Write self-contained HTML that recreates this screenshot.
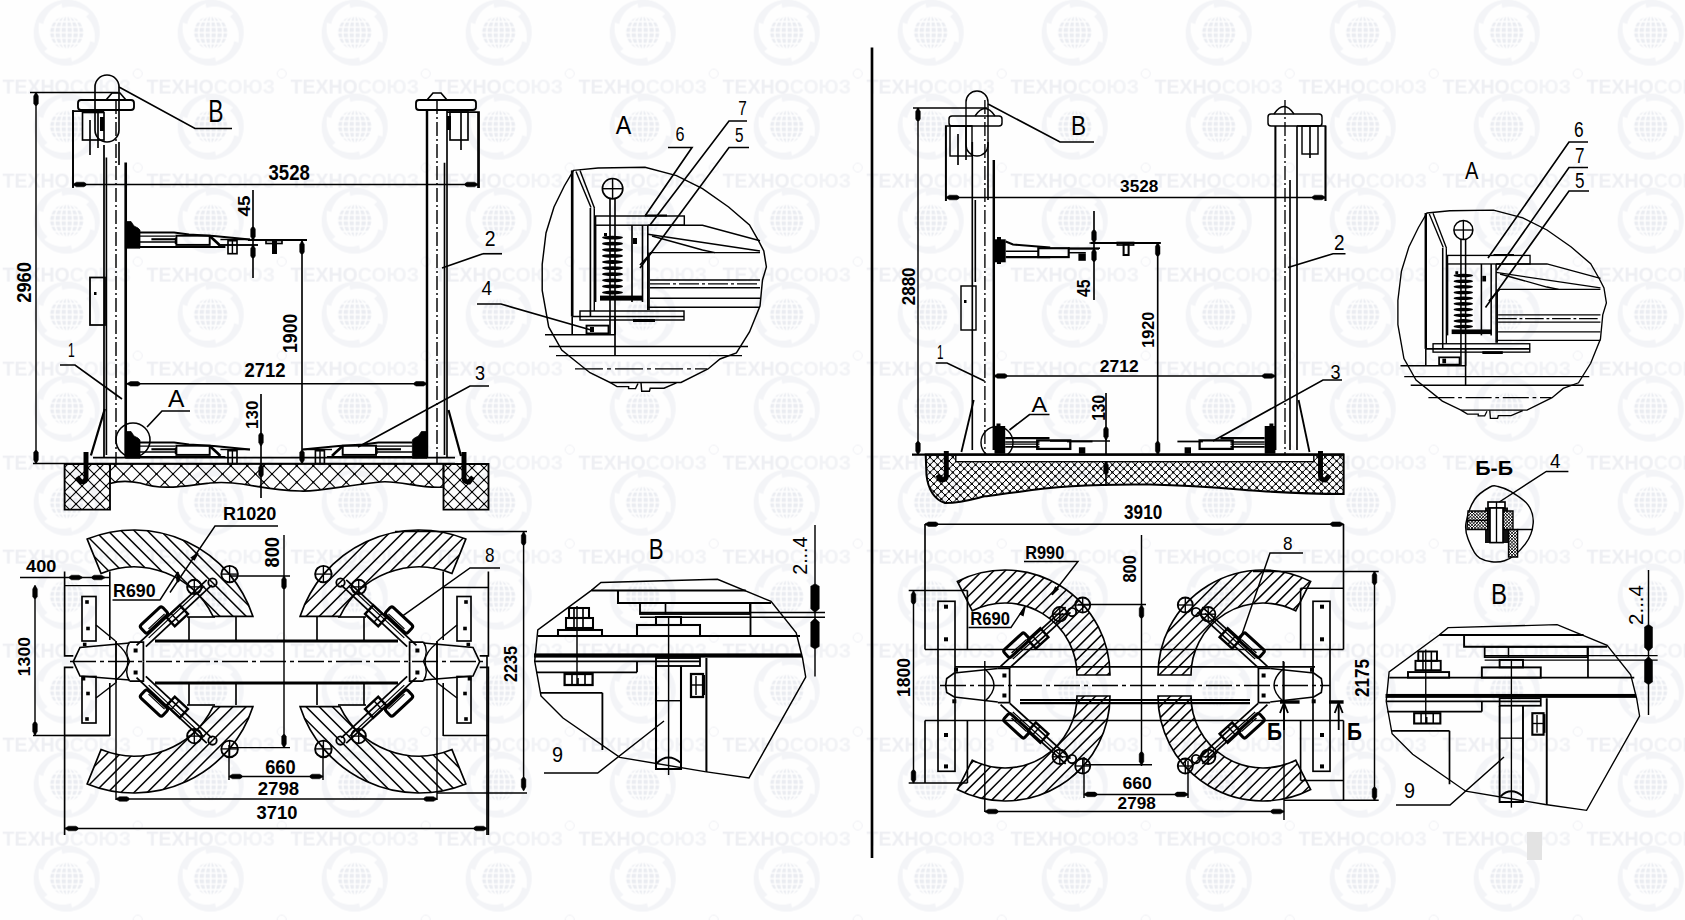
<!DOCTYPE html>
<html><head><meta charset="utf-8"><style>
html,body{margin:0;padding:0;background:#fff;}
svg{display:block;}
</style></head><body>
<svg width="1685" height="920" viewBox="0 0 1685 920">
<defs><pattern id="wm" x="-5.3" y="-14.4" width="144" height="94" patternUnits="userSpaceOnUse"><path d="M66.27 14.5 L70.15 14.05 L74.06 14.06 L77.93 14.54 L81.73 15.47 L85.38 16.84 L88.85 18.63 L92.09 20.82 L95.04 23.38 L97.67 26.26 L99.94 29.44 L101.82 32.87 L103.28 36.49 L104.3 40.26 L104.87 44.12 L104.87 44.12 L103.36 40.46 L101.68 37.03 L99.71 33.87 L97.46 31.01 L94.94 28.47 L92.21 26.28 L89.29 24.46 L86.24 23.02 L83.11 21.97 L79.93 21.31 L76.75 21.03 L73.62 21.12 L70.57 21.58 L67.66 22.38 Z" fill="#f3f4f7"/><path d="M97.28 25.79 L99.61 28.92 L101.55 32.31 L103.08 35.91 L104.17 39.66 L104.81 43.51 L105 47.41 L104.72 51.31 L103.98 55.14 L102.79 58.86 L101.18 62.42 L99.15 65.76 L96.74 68.84 L93.99 71.61 L90.93 74.03 L90.93 74.03 L93.34 70.88 L95.48 67.72 L97.23 64.43 L98.58 61.05 L99.52 57.6 L100.04 54.14 L100.16 50.71 L99.89 47.35 L99.23 44.1 L98.21 41.02 L96.87 38.12 L95.22 35.46 L93.3 33.05 L91.15 30.93 Z" fill="#f3f4f7"/><path d="M103.01 58.29 L101.46 61.87 L99.5 65.25 L97.15 68.37 L94.45 71.19 L91.43 73.67 L88.14 75.78 L84.63 77.49 L80.94 78.77 L77.12 79.6 L73.23 79.98 L69.33 79.89 L65.46 79.35 L61.69 78.35 L58.05 76.91 L58.05 76.91 L61.99 77.43 L65.8 77.69 L69.52 77.57 L73.12 77.04 L76.58 76.13 L79.84 74.86 L82.87 73.24 L85.64 71.32 L88.12 69.13 L90.29 66.71 L92.12 64.1 L93.6 61.34 L94.73 58.47 L95.49 55.55 Z" fill="#f3f4f7"/><path d="M77.73 79.5 L73.85 79.95 L69.94 79.94 L66.07 79.46 L62.27 78.53 L58.62 77.16 L55.15 75.37 L51.91 73.18 L48.96 70.62 L46.33 67.74 L44.06 64.56 L42.18 61.13 L40.72 57.51 L39.7 53.74 L39.13 49.88 L39.13 49.88 L40.64 53.54 L42.32 56.97 L44.29 60.13 L46.54 62.99 L49.06 65.53 L51.79 67.72 L54.71 69.54 L57.76 70.98 L60.89 72.03 L64.07 72.69 L67.25 72.97 L70.38 72.88 L73.43 72.42 L76.34 71.62 Z" fill="#f3f4f7"/><path d="M46.72 68.21 L44.39 65.08 L42.45 61.69 L40.92 58.09 L39.83 54.34 L39.19 50.49 L39 46.59 L39.28 42.69 L40.02 38.86 L41.21 35.14 L42.82 31.58 L44.85 28.24 L47.26 25.16 L50.01 22.39 L53.07 19.97 L53.07 19.97 L50.66 23.12 L48.52 26.28 L46.77 29.57 L45.42 32.95 L44.48 36.4 L43.96 39.86 L43.84 43.29 L44.11 46.65 L44.77 49.9 L45.79 52.98 L47.13 55.88 L48.78 58.54 L50.7 60.95 L52.85 63.07 Z" fill="#f3f4f7"/><path d="M40.99 35.71 L42.54 32.13 L44.5 28.75 L46.85 25.63 L49.55 22.81 L52.57 20.33 L55.86 18.22 L59.37 16.51 L63.06 15.23 L66.88 14.4 L70.77 14.02 L74.67 14.11 L78.54 14.65 L82.31 15.65 L85.95 17.09 L85.95 17.09 L82.01 16.57 L78.2 16.31 L74.48 16.43 L70.88 16.96 L67.42 17.87 L64.16 19.14 L61.13 20.76 L58.36 22.68 L55.88 24.87 L53.71 27.29 L51.88 29.9 L50.4 32.66 L49.27 35.53 L48.51 38.45 Z" fill="#f3f4f7"/><circle cx="72" cy="47" r="16.5" fill="#eaecf1"/><g fill="none" stroke="#fefefe" stroke-width="1.7"><ellipse cx="72" cy="47" rx="6" ry="17"/><ellipse cx="72" cy="47" rx="12" ry="17"/><line x1="72" y1="30" x2="72" y2="64"/><line x1="59.04" y1="36" x2="84.96" y2="36"/><line x1="55.91" y1="41.5" x2="88.09" y2="41.5"/><line x1="55" y1="47" x2="89" y2="47"/><line x1="55.91" y1="52.5" x2="88.09" y2="52.5"/><line x1="59.04" y1="58" x2="84.96" y2="58"/></g><text x="72" y="107.6" font-family="Liberation Sans" font-weight="bold" font-size="19.5" text-anchor="middle" fill="#eeeff3">ТЕХНО<tspan fill="#f2f3f6">СОЮЗ</tspan></text><text x="72" y="13.6" font-family="Liberation Sans" font-weight="bold" font-size="19.5" text-anchor="middle" fill="#eeeff3">ТЕХНО<tspan fill="#f2f3f6">СОЮЗ</tspan></text><circle cx="143" cy="88" r="4.5" fill="none" stroke="#eff0f4" stroke-width="1"/><circle cx="-1" cy="88" r="4.5" fill="none" stroke="#eff0f4" stroke-width="1"/><circle cx="143" cy="-6" r="4.5" fill="none" stroke="#eff0f4" stroke-width="1"/><circle cx="-1" cy="-6" r="4.5" fill="none" stroke="#eff0f4" stroke-width="1"/></pattern></defs>
<rect width="1685" height="920" fill="#fefefe"/>
<rect width="1685" height="920" fill="url(#wm)"/>
<g>
<line x1="30" y1="92.5" x2="118" y2="92.5" stroke="#000" stroke-width="1.65" stroke-linecap="butt"/>
<line x1="36" y1="92.5" x2="36" y2="463.5" stroke="#000" stroke-width="1.45" stroke-linecap="butt"/>
<path d="M36.3 92.5 L38.3 96 L38.3 103.5 L36.9 105.5 L35.1 105.5 L33.7 103.5 L33.7 96 L35.7 92.5 Z" fill="#000" stroke="#000" stroke-width="0.5"/>
<path d="M36.3 463.5 L38.3 460 L38.3 452.5 L36.9 450.5 L35.1 450.5 L33.7 452.5 L33.7 460 L35.7 463.5 Z" fill="#000" stroke="#000" stroke-width="0.5"/>
<text transform="translate(31.04 302.80) rotate(-90) scale(0.9169 1.0528)" font-family="Liberation Sans" font-size="20" font-weight="bold" fill="#000">2960</text>
<line x1="33" y1="463.5" x2="105" y2="463.5" stroke="#000" stroke-width="1.65" stroke-linecap="butt"/>
<line x1="73" y1="110" x2="73" y2="188" stroke="#000" stroke-width="1.65" stroke-linecap="butt"/>
<line x1="478" y1="112" x2="478" y2="188" stroke="#000" stroke-width="1.65" stroke-linecap="butt"/>
<line x1="73" y1="184.5" x2="478" y2="184.5" stroke="#000" stroke-width="1.45" stroke-linecap="butt"/>
<path d="M73 184.8 L76.5 186.8 L84 186.8 L86 185.4 L86 183.6 L84 182.2 L76.5 182.2 L73 184.2 Z" fill="#000" stroke="#000" stroke-width="0.5"/>
<path d="M478 184.8 L474.5 186.8 L467 186.8 L465 185.4 L465 183.6 L467 182.2 L474.5 182.2 L478 184.2 Z" fill="#000" stroke="#000" stroke-width="0.5"/>
<text transform="translate(268.50 179.58) scale(0.9303 1.1056)" font-family="Liberation Sans" font-size="20" font-weight="bold" fill="#000">3528</text>
<line x1="253" y1="190" x2="253" y2="278" stroke="#000" stroke-width="1.65" stroke-linecap="butt"/>
<path d="M253.3 240 L255.3 236.5 L255.3 229 L253.9 227 L252.1 227 L250.7 229 L250.7 236.5 L252.7 240 Z" fill="#000" stroke="#000" stroke-width="0.5"/>
<path d="M253.3 245 L255.3 248.5 L255.3 256 L253.9 258 L252.1 258 L250.7 256 L250.7 248.5 L252.7 245 Z" fill="#000" stroke="#000" stroke-width="0.5"/>
<line x1="248" y1="240" x2="307" y2="240" stroke="#000" stroke-width="1.65" stroke-linecap="butt"/>
<line x1="221" y1="245" x2="258" y2="245" stroke="#000" stroke-width="1.65" stroke-linecap="butt"/>
<text transform="translate(250.34 216.50) rotate(-90) scale(0.9459 0.7857)" font-family="Liberation Sans" font-size="20" font-weight="bold" fill="#000">45</text>
<line x1="302" y1="241" x2="302" y2="463.5" stroke="#000" stroke-width="1.65" stroke-linecap="butt"/>
<path d="M302.3 241 L304.3 244.5 L304.3 252 L302.9 254 L301.1 254 L299.7 252 L299.7 244.5 L301.7 241 Z" fill="#000" stroke="#000" stroke-width="0.5"/>
<path d="M302.3 463.5 L304.3 460 L304.3 452.5 L302.9 450.5 L301.1 450.5 L299.7 452.5 L299.7 460 L301.7 463.5 Z" fill="#000" stroke="#000" stroke-width="0.5"/>
<text transform="translate(297.39 353.00) rotate(-90) scale(0.8854 1.0563)" font-family="Liberation Sans" font-size="20" font-weight="bold" fill="#000">1900</text>
<line x1="127" y1="383.8" x2="427" y2="383.8" stroke="#000" stroke-width="1.45" stroke-linecap="butt"/>
<path d="M127 384.1 L130.5 386.1 L138 386.1 L140 384.7 L140 382.9 L138 381.5 L130.5 381.5 L127 383.5 Z" fill="#000" stroke="#000" stroke-width="0.5"/>
<path d="M427 384.1 L423.5 386.1 L416 386.1 L414 384.7 L414 382.9 L416 381.5 L423.5 381.5 L427 383.5 Z" fill="#000" stroke="#000" stroke-width="0.5"/>
<text transform="translate(244.40 377.20) scale(0.9258 0.9786)" font-family="Liberation Sans" font-size="20" font-weight="bold" fill="#000">2712</text>
<line x1="261" y1="394" x2="261" y2="498" stroke="#000" stroke-width="1.65" stroke-linecap="butt"/>
<path d="M261.3 446 L263.3 442.5 L263.3 435 L261.9 433 L260.1 433 L258.7 435 L258.7 442.5 L260.7 446 Z" fill="#000" stroke="#000" stroke-width="0.5"/>
<path d="M261.3 464 L263.3 467.5 L263.3 475 L261.9 477 L260.1 477 L258.7 475 L258.7 467.5 L260.7 464 Z" fill="#000" stroke="#000" stroke-width="0.5"/>
<text transform="translate(257.83 429.00) rotate(-90) scale(0.8503 0.8451)" font-family="Liberation Sans" font-size="20" font-weight="bold" fill="#000">130</text>
<path d="M119 87 L195 128.5 L232 128.5" stroke="#000" stroke-width="1.65" fill="none" stroke-linejoin="miter"/>
<text transform="translate(208.30 122.00) scale(1.1429 1.5217)" font-family="Liberation Sans" font-size="20" font-weight="normal" fill="#000">B</text>
<path d="M60 365 L75 365 L122 399" stroke="#000" stroke-width="1.65" fill="none" stroke-linejoin="miter"/>
<text transform="translate(68.00 357.00) scale(0.6036 0.9783)" font-family="Liberation Sans" font-size="20" font-weight="normal" fill="#000">1</text>
<path d="M190 411 L162 411 L147 427" stroke="#000" stroke-width="1.65" fill="none" stroke-linejoin="miter"/>
<text transform="translate(168.00 407.40) scale(1.2313 1.1884)" font-family="Liberation Sans" font-size="20" font-weight="normal" fill="#000">A</text>
<path d="M483 253.75 L502 253.75" stroke="#000" stroke-width="1.65" fill="none" stroke-linejoin="miter"/>
<line x1="483" y1="253.75" x2="442" y2="268" stroke="#000" stroke-width="1.65" stroke-linecap="butt"/>
<text transform="translate(484.75 246.00) scale(0.9685 1.0714)" font-family="Liberation Sans" font-size="20" font-weight="normal" fill="#000">2</text>
<path d="M489 386 L470 386 L358 447" stroke="#000" stroke-width="1.65" fill="none" stroke-linejoin="miter"/>
<text transform="translate(475.00 379.80) scale(0.9009 0.9859)" font-family="Liberation Sans" font-size="20" font-weight="normal" fill="#000">3</text>
<path d="M477 304 L501 304 L591 330" stroke="#000" stroke-width="1.65" fill="none" stroke-linejoin="miter"/>
<text transform="translate(481.50 295.00) scale(0.9459 1.0145)" font-family="Liberation Sans" font-size="20" font-weight="normal" fill="#000">4</text>
<line x1="104" y1="145" x2="104" y2="457" stroke="#000" stroke-width="1.75" stroke-linecap="butt"/>
<line x1="106.4" y1="157.5" x2="106.4" y2="455" stroke="#000" stroke-width="1.65" stroke-linecap="butt"/>
<line x1="116" y1="100" x2="116" y2="463" stroke="#000" stroke-width="1.45" stroke-dasharray="14 3 2 3" stroke-linecap="butt"/>
<line x1="125.7" y1="162.5" x2="125.7" y2="457" stroke="#000" stroke-width="2.65" stroke-linecap="butt"/>
<line x1="119" y1="142" x2="119" y2="165" stroke="#000" stroke-width="1.65" stroke-linecap="butt"/>
<rect x="78" y="100" width="56" height="10" stroke="#000" stroke-width="1.85" fill="none" rx="3"/>
<path d="M106 100 L112 93 L120 93 L126 100" stroke="#000" stroke-width="1.65" fill="none" />
<path d="M73 187.5 L73 111 L104 111" stroke="#000" stroke-width="1.75" fill="none" stroke-linejoin="miter"/>
<rect x="82.5" y="112.5" width="21.5" height="27.5" stroke="#000" stroke-width="1.65" fill="none"/>
<line x1="90" y1="120" x2="90" y2="155" stroke="#000" stroke-width="1.65" stroke-linecap="butt"/>
<line x1="98" y1="112" x2="98" y2="148" stroke="#000" stroke-width="1.65" stroke-linecap="butt"/>
<rect x="100" y="117" width="4" height="14" fill="#000"/>
<rect x="95" y="75" width="24" height="67" stroke="#000" stroke-width="1.65" fill="none" rx="12"/>
<rect x="90" y="277.5" width="15" height="47.5" stroke="#000" stroke-width="1.75" fill="none"/>
<rect x="94" y="292" width="2.5" height="3" fill="#000"/>
<line x1="104.8" y1="409" x2="90.9" y2="455.5" stroke="#000" stroke-width="2.25" stroke-linecap="butt"/>
<line x1="427" y1="110" x2="427" y2="457" stroke="#000" stroke-width="2.45" stroke-linecap="butt"/>
<line x1="447" y1="110" x2="447" y2="457" stroke="#000" stroke-width="1.65" stroke-linecap="butt"/>
<line x1="444.5" y1="162.7" x2="444.5" y2="455" stroke="#000" stroke-width="1.65" stroke-linecap="butt"/>
<line x1="437" y1="100" x2="437" y2="463" stroke="#000" stroke-width="1.45" stroke-dasharray="14 3 2 3" stroke-linecap="butt"/>
<rect x="416" y="100" width="60" height="10" stroke="#000" stroke-width="1.85" fill="none" rx="3"/>
<path d="M427 100 L433 93 L441 93 L447 100" stroke="#000" stroke-width="1.65" fill="none" />
<path d="M447 112 L479 112 L479 188" stroke="#000" stroke-width="1.75" fill="none" stroke-linejoin="miter"/>
<rect x="450" y="112" width="18" height="28" stroke="#000" stroke-width="1.65" fill="none"/>
<line x1="461" y1="112" x2="461" y2="150" stroke="#000" stroke-width="1.65" stroke-linecap="butt"/>
<rect x="447" y="116" width="4" height="14" fill="#000"/>
<line x1="448.5" y1="410" x2="461" y2="456" stroke="#000" stroke-width="2.25" stroke-linecap="butt"/>
<circle cx="133" cy="440" r="17" stroke="#000" stroke-width="1.55" fill="none"/>
<line x1="93" y1="457.5" x2="455" y2="457.5" stroke="#000" stroke-width="1.75" stroke-linecap="butt"/>
<line x1="105" y1="463.5" x2="455" y2="463.5" stroke="#000" stroke-width="1.75" stroke-linecap="butt"/>
<path d="M125.4 221.5 L131 221.5 L134 226 L138 228 L140 230 L140 248.2 L125.4 248.2 Z" stroke="#000" stroke-width="0.75" fill="#000" stroke-linejoin="miter"/>
<path d="M140 232.4 L174 232.4 L189 234.5 L213.8 236.1 L250 239.5" stroke="#000" stroke-width="2.05" fill="none" stroke-linejoin="miter"/>
<rect x="151.4" y="238.2" width="25" height="2.1" fill="#000"/>
<line x1="140" y1="236.1" x2="175.4" y2="236.1" stroke="#000" stroke-width="1.25" stroke-linecap="butt"/>
<line x1="140" y1="242" x2="175.4" y2="242" stroke="#000" stroke-width="1.35" stroke-linecap="butt"/>
<line x1="175.6" y1="238" x2="175.6" y2="244" stroke="#000" stroke-width="1.65" stroke-linecap="butt"/>
<rect x="176.4" y="235.7" width="33.3" height="9.2" stroke="#000" stroke-width="1.95" fill="none"/>
<path d="M209.7 236 L217.4 243 L220.4 246" stroke="#000" stroke-width="2.65" fill="none" stroke-linejoin="miter"/>
<line x1="140" y1="247" x2="225.4" y2="247" stroke="#000" stroke-width="1.85" stroke-linecap="butt"/>
<rect x="228" y="240.7" width="9" height="13" stroke="#000" stroke-width="1.65" fill="none"/>
<line x1="232.4" y1="241" x2="232.4" y2="253" stroke="#000" stroke-width="1.45" stroke-linecap="butt"/>
<line x1="220.4" y1="239.5" x2="250" y2="239.5" stroke="#000" stroke-width="1.45" stroke-linecap="butt"/>
<line x1="248" y1="240" x2="307" y2="240" stroke="#000" stroke-width="2.05" stroke-linecap="butt"/>
<line x1="220" y1="245" x2="258" y2="245" stroke="#000" stroke-width="1.45" stroke-linecap="butt"/>
<rect x="266" y="240.5" width="16" height="3" stroke="#000" stroke-width="1.65" fill="none"/>
<rect x="272" y="241" width="5" height="13" fill="#000"/>
<path d="M125.4 431.5 L131 431.5 L134 436 L138 438 L140 440 L140 458.2 L125.4 458.2 Z" stroke="#000" stroke-width="0.75" fill="#000" stroke-linejoin="miter"/>
<path d="M140 442.4 L174 442.4 L189 444.5 L213.8 446.1 L250 449.5" stroke="#000" stroke-width="2.05" fill="none" stroke-linejoin="miter"/>
<rect x="151.4" y="448.2" width="25" height="2.1" fill="#000"/>
<line x1="140" y1="446.1" x2="175.4" y2="446.1" stroke="#000" stroke-width="1.25" stroke-linecap="butt"/>
<line x1="140" y1="452" x2="175.4" y2="452" stroke="#000" stroke-width="1.35" stroke-linecap="butt"/>
<line x1="175.6" y1="448" x2="175.6" y2="454" stroke="#000" stroke-width="1.65" stroke-linecap="butt"/>
<rect x="176.4" y="445.7" width="33.3" height="9.2" stroke="#000" stroke-width="1.95" fill="none"/>
<path d="M209.7 446 L217.4 453 L220.4 456" stroke="#000" stroke-width="2.65" fill="none" stroke-linejoin="miter"/>
<line x1="140" y1="457" x2="225.4" y2="457" stroke="#000" stroke-width="1.85" stroke-linecap="butt"/>
<rect x="228" y="450.7" width="9" height="13" stroke="#000" stroke-width="1.65" fill="none"/>
<line x1="232.4" y1="451" x2="232.4" y2="463" stroke="#000" stroke-width="1.45" stroke-linecap="butt"/>
<line x1="220.4" y1="449.5" x2="250" y2="449.5" stroke="#000" stroke-width="1.45" stroke-linecap="butt"/>
<path d="M427 431.5 L421.4 431.5 L418.4 436 L414.4 438 L412.4 440 L412.4 458.2 L427 458.2 Z" stroke="#000" stroke-width="0.75" fill="#000" stroke-linejoin="miter"/>
<path d="M412.4 442.4 L378.4 442.4 L363.4 444.5 L338.6 446.1 L302.4 449.5" stroke="#000" stroke-width="2.05" fill="none" stroke-linejoin="miter"/>
<rect x="376" y="448.2" width="25" height="2.1" fill="#000"/>
<line x1="412.4" y1="446.1" x2="377" y2="446.1" stroke="#000" stroke-width="1.25" stroke-linecap="butt"/>
<line x1="412.4" y1="452" x2="377" y2="452" stroke="#000" stroke-width="1.35" stroke-linecap="butt"/>
<line x1="376.8" y1="448" x2="376.8" y2="454" stroke="#000" stroke-width="1.65" stroke-linecap="butt"/>
<rect x="342.7" y="445.7" width="33.3" height="9.2" stroke="#000" stroke-width="1.95" fill="none"/>
<path d="M342.7 446 L335 453 L332 456" stroke="#000" stroke-width="2.65" fill="none" stroke-linejoin="miter"/>
<line x1="412.4" y1="457" x2="327" y2="457" stroke="#000" stroke-width="1.85" stroke-linecap="butt"/>
<rect x="315.4" y="450.7" width="9" height="13" stroke="#000" stroke-width="1.65" fill="none"/>
<line x1="320" y1="451" x2="320" y2="463" stroke="#000" stroke-width="1.45" stroke-linecap="butt"/>
<line x1="332" y1="449.5" x2="302.4" y2="449.5" stroke="#000" stroke-width="1.45" stroke-linecap="butt"/>
<clipPath id="flm"><path d="M110 464 L443.5 464 L443.5 487 C420 489 400 480 380 482 C340 486 320 492 300 491 C260 490 240 480 210 483 C180 487 160 490 140 483 C125 480 115 482 110 483.5 Z"/></clipPath><clipPath id="flb"><path d="M64.6 464 L110 464 L110 509.6 L64.6 509.6 Z M443.5 464 L488.5 464 L488.5 509.6 L443.5 509.6 Z"/></clipPath>
<g clip-path="url(#flm)" stroke="#000" stroke-width="1.1"><line x1="43.5" y1="460" x2="78.5" y2="495"/><line x1="71.5" y1="460" x2="36.5" y2="495"/><line x1="60" y1="460" x2="95" y2="495"/><line x1="88" y1="460" x2="53" y2="495"/><line x1="76.5" y1="460" x2="111.5" y2="495"/><line x1="104.5" y1="460" x2="69.5" y2="495"/><line x1="93" y1="460" x2="128" y2="495"/><line x1="121" y1="460" x2="86" y2="495"/><line x1="109.5" y1="460" x2="144.5" y2="495"/><line x1="137.5" y1="460" x2="102.5" y2="495"/><line x1="126" y1="460" x2="161" y2="495"/><line x1="154" y1="460" x2="119" y2="495"/><line x1="142.5" y1="460" x2="177.5" y2="495"/><line x1="170.5" y1="460" x2="135.5" y2="495"/><line x1="159" y1="460" x2="194" y2="495"/><line x1="187" y1="460" x2="152" y2="495"/><line x1="175.5" y1="460" x2="210.5" y2="495"/><line x1="203.5" y1="460" x2="168.5" y2="495"/><line x1="192" y1="460" x2="227" y2="495"/><line x1="220" y1="460" x2="185" y2="495"/><line x1="208.5" y1="460" x2="243.5" y2="495"/><line x1="236.5" y1="460" x2="201.5" y2="495"/><line x1="225" y1="460" x2="260" y2="495"/><line x1="253" y1="460" x2="218" y2="495"/><line x1="241.5" y1="460" x2="276.5" y2="495"/><line x1="269.5" y1="460" x2="234.5" y2="495"/><line x1="258" y1="460" x2="293" y2="495"/><line x1="286" y1="460" x2="251" y2="495"/><line x1="274.5" y1="460" x2="309.5" y2="495"/><line x1="302.5" y1="460" x2="267.5" y2="495"/><line x1="291" y1="460" x2="326" y2="495"/><line x1="319" y1="460" x2="284" y2="495"/><line x1="307.5" y1="460" x2="342.5" y2="495"/><line x1="335.5" y1="460" x2="300.5" y2="495"/><line x1="324" y1="460" x2="359" y2="495"/><line x1="352" y1="460" x2="317" y2="495"/><line x1="340.5" y1="460" x2="375.5" y2="495"/><line x1="368.5" y1="460" x2="333.5" y2="495"/><line x1="357" y1="460" x2="392" y2="495"/><line x1="385" y1="460" x2="350" y2="495"/><line x1="373.5" y1="460" x2="408.5" y2="495"/><line x1="401.5" y1="460" x2="366.5" y2="495"/><line x1="390" y1="460" x2="425" y2="495"/><line x1="418" y1="460" x2="383" y2="495"/><line x1="406.5" y1="460" x2="441.5" y2="495"/><line x1="434.5" y1="460" x2="399.5" y2="495"/><line x1="423" y1="460" x2="458" y2="495"/><line x1="451" y1="460" x2="416" y2="495"/><line x1="439.5" y1="460" x2="474.5" y2="495"/><line x1="467.5" y1="460" x2="432.5" y2="495"/><line x1="456" y1="460" x2="491" y2="495"/><line x1="484" y1="460" x2="449" y2="495"/><line x1="472.5" y1="460" x2="507.5" y2="495"/><line x1="500.5" y1="460" x2="465.5" y2="495"/></g><g clip-path="url(#flm)" fill="#000"><rect x="106" y="456.5" width="2" height="2"/><rect x="122.5" y="456.5" width="2" height="2"/><rect x="139" y="456.5" width="2" height="2"/><rect x="155.5" y="456.5" width="2" height="2"/><rect x="172" y="456.5" width="2" height="2"/><rect x="188.5" y="456.5" width="2" height="2"/><rect x="205" y="456.5" width="2" height="2"/><rect x="221.5" y="456.5" width="2" height="2"/><rect x="238" y="456.5" width="2" height="2"/><rect x="254.5" y="456.5" width="2" height="2"/><rect x="271" y="456.5" width="2" height="2"/><rect x="287.5" y="456.5" width="2" height="2"/><rect x="304" y="456.5" width="2" height="2"/><rect x="320.5" y="456.5" width="2" height="2"/><rect x="337" y="456.5" width="2" height="2"/><rect x="353.5" y="456.5" width="2" height="2"/><rect x="370" y="456.5" width="2" height="2"/><rect x="386.5" y="456.5" width="2" height="2"/><rect x="403" y="456.5" width="2" height="2"/><rect x="419.5" y="456.5" width="2" height="2"/><rect x="436" y="456.5" width="2" height="2"/><rect x="114.25" y="464.75" width="2" height="2"/><rect x="130.75" y="464.75" width="2" height="2"/><rect x="147.25" y="464.75" width="2" height="2"/><rect x="163.75" y="464.75" width="2" height="2"/><rect x="180.25" y="464.75" width="2" height="2"/><rect x="196.75" y="464.75" width="2" height="2"/><rect x="213.25" y="464.75" width="2" height="2"/><rect x="229.75" y="464.75" width="2" height="2"/><rect x="246.25" y="464.75" width="2" height="2"/><rect x="262.75" y="464.75" width="2" height="2"/><rect x="279.25" y="464.75" width="2" height="2"/><rect x="295.75" y="464.75" width="2" height="2"/><rect x="312.25" y="464.75" width="2" height="2"/><rect x="328.75" y="464.75" width="2" height="2"/><rect x="345.25" y="464.75" width="2" height="2"/><rect x="361.75" y="464.75" width="2" height="2"/><rect x="378.25" y="464.75" width="2" height="2"/><rect x="394.75" y="464.75" width="2" height="2"/><rect x="411.25" y="464.75" width="2" height="2"/><rect x="427.75" y="464.75" width="2" height="2"/><rect x="444.25" y="464.75" width="2" height="2"/><rect x="106" y="473" width="2" height="2"/><rect x="122.5" y="473" width="2" height="2"/><rect x="139" y="473" width="2" height="2"/><rect x="155.5" y="473" width="2" height="2"/><rect x="172" y="473" width="2" height="2"/><rect x="188.5" y="473" width="2" height="2"/><rect x="205" y="473" width="2" height="2"/><rect x="221.5" y="473" width="2" height="2"/><rect x="238" y="473" width="2" height="2"/><rect x="254.5" y="473" width="2" height="2"/><rect x="271" y="473" width="2" height="2"/><rect x="287.5" y="473" width="2" height="2"/><rect x="304" y="473" width="2" height="2"/><rect x="320.5" y="473" width="2" height="2"/><rect x="337" y="473" width="2" height="2"/><rect x="353.5" y="473" width="2" height="2"/><rect x="370" y="473" width="2" height="2"/><rect x="386.5" y="473" width="2" height="2"/><rect x="403" y="473" width="2" height="2"/><rect x="419.5" y="473" width="2" height="2"/><rect x="436" y="473" width="2" height="2"/><rect x="114.25" y="481.25" width="2" height="2"/><rect x="130.75" y="481.25" width="2" height="2"/><rect x="147.25" y="481.25" width="2" height="2"/><rect x="163.75" y="481.25" width="2" height="2"/><rect x="180.25" y="481.25" width="2" height="2"/><rect x="196.75" y="481.25" width="2" height="2"/><rect x="213.25" y="481.25" width="2" height="2"/><rect x="229.75" y="481.25" width="2" height="2"/><rect x="246.25" y="481.25" width="2" height="2"/><rect x="262.75" y="481.25" width="2" height="2"/><rect x="279.25" y="481.25" width="2" height="2"/><rect x="295.75" y="481.25" width="2" height="2"/><rect x="312.25" y="481.25" width="2" height="2"/><rect x="328.75" y="481.25" width="2" height="2"/><rect x="345.25" y="481.25" width="2" height="2"/><rect x="361.75" y="481.25" width="2" height="2"/><rect x="378.25" y="481.25" width="2" height="2"/><rect x="394.75" y="481.25" width="2" height="2"/><rect x="411.25" y="481.25" width="2" height="2"/><rect x="427.75" y="481.25" width="2" height="2"/><rect x="444.25" y="481.25" width="2" height="2"/><rect x="106" y="489.5" width="2" height="2"/><rect x="122.5" y="489.5" width="2" height="2"/><rect x="139" y="489.5" width="2" height="2"/><rect x="155.5" y="489.5" width="2" height="2"/><rect x="172" y="489.5" width="2" height="2"/><rect x="188.5" y="489.5" width="2" height="2"/><rect x="205" y="489.5" width="2" height="2"/><rect x="221.5" y="489.5" width="2" height="2"/><rect x="238" y="489.5" width="2" height="2"/><rect x="254.5" y="489.5" width="2" height="2"/><rect x="271" y="489.5" width="2" height="2"/><rect x="287.5" y="489.5" width="2" height="2"/><rect x="304" y="489.5" width="2" height="2"/><rect x="320.5" y="489.5" width="2" height="2"/><rect x="337" y="489.5" width="2" height="2"/><rect x="353.5" y="489.5" width="2" height="2"/><rect x="370" y="489.5" width="2" height="2"/><rect x="386.5" y="489.5" width="2" height="2"/><rect x="403" y="489.5" width="2" height="2"/><rect x="419.5" y="489.5" width="2" height="2"/><rect x="436" y="489.5" width="2" height="2"/><rect x="114.25" y="497.75" width="2" height="2"/><rect x="130.75" y="497.75" width="2" height="2"/><rect x="147.25" y="497.75" width="2" height="2"/><rect x="163.75" y="497.75" width="2" height="2"/><rect x="180.25" y="497.75" width="2" height="2"/><rect x="196.75" y="497.75" width="2" height="2"/><rect x="213.25" y="497.75" width="2" height="2"/><rect x="229.75" y="497.75" width="2" height="2"/><rect x="246.25" y="497.75" width="2" height="2"/><rect x="262.75" y="497.75" width="2" height="2"/><rect x="279.25" y="497.75" width="2" height="2"/><rect x="295.75" y="497.75" width="2" height="2"/><rect x="312.25" y="497.75" width="2" height="2"/><rect x="328.75" y="497.75" width="2" height="2"/><rect x="345.25" y="497.75" width="2" height="2"/><rect x="361.75" y="497.75" width="2" height="2"/><rect x="378.25" y="497.75" width="2" height="2"/><rect x="394.75" y="497.75" width="2" height="2"/><rect x="411.25" y="497.75" width="2" height="2"/><rect x="427.75" y="497.75" width="2" height="2"/><rect x="444.25" y="497.75" width="2" height="2"/></g>
<g clip-path="url(#flb)" stroke="#000" stroke-width="1.1"><line x1="-28" y1="460" x2="24" y2="512"/><line x1="0" y1="460" x2="-52" y2="512"/><line x1="-16" y1="460" x2="36" y2="512"/><line x1="12" y1="460" x2="-40" y2="512"/><line x1="-4" y1="460" x2="48" y2="512"/><line x1="24" y1="460" x2="-28" y2="512"/><line x1="8" y1="460" x2="60" y2="512"/><line x1="36" y1="460" x2="-16" y2="512"/><line x1="20" y1="460" x2="72" y2="512"/><line x1="48" y1="460" x2="-4" y2="512"/><line x1="32" y1="460" x2="84" y2="512"/><line x1="60" y1="460" x2="8" y2="512"/><line x1="44" y1="460" x2="96" y2="512"/><line x1="72" y1="460" x2="20" y2="512"/><line x1="56" y1="460" x2="108" y2="512"/><line x1="84" y1="460" x2="32" y2="512"/><line x1="68" y1="460" x2="120" y2="512"/><line x1="96" y1="460" x2="44" y2="512"/><line x1="80" y1="460" x2="132" y2="512"/><line x1="108" y1="460" x2="56" y2="512"/><line x1="92" y1="460" x2="144" y2="512"/><line x1="120" y1="460" x2="68" y2="512"/><line x1="104" y1="460" x2="156" y2="512"/><line x1="132" y1="460" x2="80" y2="512"/><line x1="116" y1="460" x2="168" y2="512"/><line x1="144" y1="460" x2="92" y2="512"/><line x1="128" y1="460" x2="180" y2="512"/><line x1="156" y1="460" x2="104" y2="512"/><line x1="140" y1="460" x2="192" y2="512"/><line x1="168" y1="460" x2="116" y2="512"/><line x1="152" y1="460" x2="204" y2="512"/><line x1="180" y1="460" x2="128" y2="512"/><line x1="164" y1="460" x2="216" y2="512"/><line x1="192" y1="460" x2="140" y2="512"/><line x1="176" y1="460" x2="228" y2="512"/><line x1="204" y1="460" x2="152" y2="512"/><line x1="188" y1="460" x2="240" y2="512"/><line x1="216" y1="460" x2="164" y2="512"/><line x1="200" y1="460" x2="252" y2="512"/><line x1="228" y1="460" x2="176" y2="512"/><line x1="212" y1="460" x2="264" y2="512"/><line x1="240" y1="460" x2="188" y2="512"/><line x1="224" y1="460" x2="276" y2="512"/><line x1="252" y1="460" x2="200" y2="512"/><line x1="236" y1="460" x2="288" y2="512"/><line x1="264" y1="460" x2="212" y2="512"/><line x1="248" y1="460" x2="300" y2="512"/><line x1="276" y1="460" x2="224" y2="512"/><line x1="260" y1="460" x2="312" y2="512"/><line x1="288" y1="460" x2="236" y2="512"/><line x1="272" y1="460" x2="324" y2="512"/><line x1="300" y1="460" x2="248" y2="512"/><line x1="284" y1="460" x2="336" y2="512"/><line x1="312" y1="460" x2="260" y2="512"/><line x1="296" y1="460" x2="348" y2="512"/><line x1="324" y1="460" x2="272" y2="512"/><line x1="308" y1="460" x2="360" y2="512"/><line x1="336" y1="460" x2="284" y2="512"/><line x1="320" y1="460" x2="372" y2="512"/><line x1="348" y1="460" x2="296" y2="512"/><line x1="332" y1="460" x2="384" y2="512"/><line x1="360" y1="460" x2="308" y2="512"/><line x1="344" y1="460" x2="396" y2="512"/><line x1="372" y1="460" x2="320" y2="512"/><line x1="356" y1="460" x2="408" y2="512"/><line x1="384" y1="460" x2="332" y2="512"/><line x1="368" y1="460" x2="420" y2="512"/><line x1="396" y1="460" x2="344" y2="512"/><line x1="380" y1="460" x2="432" y2="512"/><line x1="408" y1="460" x2="356" y2="512"/><line x1="392" y1="460" x2="444" y2="512"/><line x1="420" y1="460" x2="368" y2="512"/><line x1="404" y1="460" x2="456" y2="512"/><line x1="432" y1="460" x2="380" y2="512"/><line x1="416" y1="460" x2="468" y2="512"/><line x1="444" y1="460" x2="392" y2="512"/><line x1="428" y1="460" x2="480" y2="512"/><line x1="456" y1="460" x2="404" y2="512"/><line x1="440" y1="460" x2="492" y2="512"/><line x1="468" y1="460" x2="416" y2="512"/><line x1="452" y1="460" x2="504" y2="512"/><line x1="480" y1="460" x2="428" y2="512"/><line x1="464" y1="460" x2="516" y2="512"/><line x1="492" y1="460" x2="440" y2="512"/><line x1="476" y1="460" x2="528" y2="512"/><line x1="504" y1="460" x2="452" y2="512"/><line x1="488" y1="460" x2="540" y2="512"/><line x1="516" y1="460" x2="464" y2="512"/><line x1="500" y1="460" x2="552" y2="512"/><line x1="528" y1="460" x2="476" y2="512"/><line x1="512" y1="460" x2="564" y2="512"/><line x1="540" y1="460" x2="488" y2="512"/><line x1="524" y1="460" x2="576" y2="512"/><line x1="552" y1="460" x2="500" y2="512"/><line x1="536" y1="460" x2="588" y2="512"/><line x1="564" y1="460" x2="512" y2="512"/></g><g clip-path="url(#flb)" fill="#000"><rect x="63" y="455" width="2" height="2"/><rect x="75" y="455" width="2" height="2"/><rect x="87" y="455" width="2" height="2"/><rect x="99" y="455" width="2" height="2"/><rect x="111" y="455" width="2" height="2"/><rect x="123" y="455" width="2" height="2"/><rect x="135" y="455" width="2" height="2"/><rect x="147" y="455" width="2" height="2"/><rect x="159" y="455" width="2" height="2"/><rect x="171" y="455" width="2" height="2"/><rect x="183" y="455" width="2" height="2"/><rect x="195" y="455" width="2" height="2"/><rect x="207" y="455" width="2" height="2"/><rect x="219" y="455" width="2" height="2"/><rect x="231" y="455" width="2" height="2"/><rect x="243" y="455" width="2" height="2"/><rect x="255" y="455" width="2" height="2"/><rect x="267" y="455" width="2" height="2"/><rect x="279" y="455" width="2" height="2"/><rect x="291" y="455" width="2" height="2"/><rect x="303" y="455" width="2" height="2"/><rect x="315" y="455" width="2" height="2"/><rect x="327" y="455" width="2" height="2"/><rect x="339" y="455" width="2" height="2"/><rect x="351" y="455" width="2" height="2"/><rect x="363" y="455" width="2" height="2"/><rect x="375" y="455" width="2" height="2"/><rect x="387" y="455" width="2" height="2"/><rect x="399" y="455" width="2" height="2"/><rect x="411" y="455" width="2" height="2"/><rect x="423" y="455" width="2" height="2"/><rect x="435" y="455" width="2" height="2"/><rect x="447" y="455" width="2" height="2"/><rect x="459" y="455" width="2" height="2"/><rect x="471" y="455" width="2" height="2"/><rect x="483" y="455" width="2" height="2"/><rect x="495" y="455" width="2" height="2"/><rect x="57" y="461" width="2" height="2"/><rect x="69" y="461" width="2" height="2"/><rect x="81" y="461" width="2" height="2"/><rect x="93" y="461" width="2" height="2"/><rect x="105" y="461" width="2" height="2"/><rect x="117" y="461" width="2" height="2"/><rect x="129" y="461" width="2" height="2"/><rect x="141" y="461" width="2" height="2"/><rect x="153" y="461" width="2" height="2"/><rect x="165" y="461" width="2" height="2"/><rect x="177" y="461" width="2" height="2"/><rect x="189" y="461" width="2" height="2"/><rect x="201" y="461" width="2" height="2"/><rect x="213" y="461" width="2" height="2"/><rect x="225" y="461" width="2" height="2"/><rect x="237" y="461" width="2" height="2"/><rect x="249" y="461" width="2" height="2"/><rect x="261" y="461" width="2" height="2"/><rect x="273" y="461" width="2" height="2"/><rect x="285" y="461" width="2" height="2"/><rect x="297" y="461" width="2" height="2"/><rect x="309" y="461" width="2" height="2"/><rect x="321" y="461" width="2" height="2"/><rect x="333" y="461" width="2" height="2"/><rect x="345" y="461" width="2" height="2"/><rect x="357" y="461" width="2" height="2"/><rect x="369" y="461" width="2" height="2"/><rect x="381" y="461" width="2" height="2"/><rect x="393" y="461" width="2" height="2"/><rect x="405" y="461" width="2" height="2"/><rect x="417" y="461" width="2" height="2"/><rect x="429" y="461" width="2" height="2"/><rect x="441" y="461" width="2" height="2"/><rect x="453" y="461" width="2" height="2"/><rect x="465" y="461" width="2" height="2"/><rect x="477" y="461" width="2" height="2"/><rect x="489" y="461" width="2" height="2"/><rect x="63" y="467" width="2" height="2"/><rect x="75" y="467" width="2" height="2"/><rect x="87" y="467" width="2" height="2"/><rect x="99" y="467" width="2" height="2"/><rect x="111" y="467" width="2" height="2"/><rect x="123" y="467" width="2" height="2"/><rect x="135" y="467" width="2" height="2"/><rect x="147" y="467" width="2" height="2"/><rect x="159" y="467" width="2" height="2"/><rect x="171" y="467" width="2" height="2"/><rect x="183" y="467" width="2" height="2"/><rect x="195" y="467" width="2" height="2"/><rect x="207" y="467" width="2" height="2"/><rect x="219" y="467" width="2" height="2"/><rect x="231" y="467" width="2" height="2"/><rect x="243" y="467" width="2" height="2"/><rect x="255" y="467" width="2" height="2"/><rect x="267" y="467" width="2" height="2"/><rect x="279" y="467" width="2" height="2"/><rect x="291" y="467" width="2" height="2"/><rect x="303" y="467" width="2" height="2"/><rect x="315" y="467" width="2" height="2"/><rect x="327" y="467" width="2" height="2"/><rect x="339" y="467" width="2" height="2"/><rect x="351" y="467" width="2" height="2"/><rect x="363" y="467" width="2" height="2"/><rect x="375" y="467" width="2" height="2"/><rect x="387" y="467" width="2" height="2"/><rect x="399" y="467" width="2" height="2"/><rect x="411" y="467" width="2" height="2"/><rect x="423" y="467" width="2" height="2"/><rect x="435" y="467" width="2" height="2"/><rect x="447" y="467" width="2" height="2"/><rect x="459" y="467" width="2" height="2"/><rect x="471" y="467" width="2" height="2"/><rect x="483" y="467" width="2" height="2"/><rect x="495" y="467" width="2" height="2"/><rect x="57" y="473" width="2" height="2"/><rect x="69" y="473" width="2" height="2"/><rect x="81" y="473" width="2" height="2"/><rect x="93" y="473" width="2" height="2"/><rect x="105" y="473" width="2" height="2"/><rect x="117" y="473" width="2" height="2"/><rect x="129" y="473" width="2" height="2"/><rect x="141" y="473" width="2" height="2"/><rect x="153" y="473" width="2" height="2"/><rect x="165" y="473" width="2" height="2"/><rect x="177" y="473" width="2" height="2"/><rect x="189" y="473" width="2" height="2"/><rect x="201" y="473" width="2" height="2"/><rect x="213" y="473" width="2" height="2"/><rect x="225" y="473" width="2" height="2"/><rect x="237" y="473" width="2" height="2"/><rect x="249" y="473" width="2" height="2"/><rect x="261" y="473" width="2" height="2"/><rect x="273" y="473" width="2" height="2"/><rect x="285" y="473" width="2" height="2"/><rect x="297" y="473" width="2" height="2"/><rect x="309" y="473" width="2" height="2"/><rect x="321" y="473" width="2" height="2"/><rect x="333" y="473" width="2" height="2"/><rect x="345" y="473" width="2" height="2"/><rect x="357" y="473" width="2" height="2"/><rect x="369" y="473" width="2" height="2"/><rect x="381" y="473" width="2" height="2"/><rect x="393" y="473" width="2" height="2"/><rect x="405" y="473" width="2" height="2"/><rect x="417" y="473" width="2" height="2"/><rect x="429" y="473" width="2" height="2"/><rect x="441" y="473" width="2" height="2"/><rect x="453" y="473" width="2" height="2"/><rect x="465" y="473" width="2" height="2"/><rect x="477" y="473" width="2" height="2"/><rect x="489" y="473" width="2" height="2"/><rect x="63" y="479" width="2" height="2"/><rect x="75" y="479" width="2" height="2"/><rect x="87" y="479" width="2" height="2"/><rect x="99" y="479" width="2" height="2"/><rect x="111" y="479" width="2" height="2"/><rect x="123" y="479" width="2" height="2"/><rect x="135" y="479" width="2" height="2"/><rect x="147" y="479" width="2" height="2"/><rect x="159" y="479" width="2" height="2"/><rect x="171" y="479" width="2" height="2"/><rect x="183" y="479" width="2" height="2"/><rect x="195" y="479" width="2" height="2"/><rect x="207" y="479" width="2" height="2"/><rect x="219" y="479" width="2" height="2"/><rect x="231" y="479" width="2" height="2"/><rect x="243" y="479" width="2" height="2"/><rect x="255" y="479" width="2" height="2"/><rect x="267" y="479" width="2" height="2"/><rect x="279" y="479" width="2" height="2"/><rect x="291" y="479" width="2" height="2"/><rect x="303" y="479" width="2" height="2"/><rect x="315" y="479" width="2" height="2"/><rect x="327" y="479" width="2" height="2"/><rect x="339" y="479" width="2" height="2"/><rect x="351" y="479" width="2" height="2"/><rect x="363" y="479" width="2" height="2"/><rect x="375" y="479" width="2" height="2"/><rect x="387" y="479" width="2" height="2"/><rect x="399" y="479" width="2" height="2"/><rect x="411" y="479" width="2" height="2"/><rect x="423" y="479" width="2" height="2"/><rect x="435" y="479" width="2" height="2"/><rect x="447" y="479" width="2" height="2"/><rect x="459" y="479" width="2" height="2"/><rect x="471" y="479" width="2" height="2"/><rect x="483" y="479" width="2" height="2"/><rect x="495" y="479" width="2" height="2"/><rect x="57" y="485" width="2" height="2"/><rect x="69" y="485" width="2" height="2"/><rect x="81" y="485" width="2" height="2"/><rect x="93" y="485" width="2" height="2"/><rect x="105" y="485" width="2" height="2"/><rect x="117" y="485" width="2" height="2"/><rect x="129" y="485" width="2" height="2"/><rect x="141" y="485" width="2" height="2"/><rect x="153" y="485" width="2" height="2"/><rect x="165" y="485" width="2" height="2"/><rect x="177" y="485" width="2" height="2"/><rect x="189" y="485" width="2" height="2"/><rect x="201" y="485" width="2" height="2"/><rect x="213" y="485" width="2" height="2"/><rect x="225" y="485" width="2" height="2"/><rect x="237" y="485" width="2" height="2"/><rect x="249" y="485" width="2" height="2"/><rect x="261" y="485" width="2" height="2"/><rect x="273" y="485" width="2" height="2"/><rect x="285" y="485" width="2" height="2"/><rect x="297" y="485" width="2" height="2"/><rect x="309" y="485" width="2" height="2"/><rect x="321" y="485" width="2" height="2"/><rect x="333" y="485" width="2" height="2"/><rect x="345" y="485" width="2" height="2"/><rect x="357" y="485" width="2" height="2"/><rect x="369" y="485" width="2" height="2"/><rect x="381" y="485" width="2" height="2"/><rect x="393" y="485" width="2" height="2"/><rect x="405" y="485" width="2" height="2"/><rect x="417" y="485" width="2" height="2"/><rect x="429" y="485" width="2" height="2"/><rect x="441" y="485" width="2" height="2"/><rect x="453" y="485" width="2" height="2"/><rect x="465" y="485" width="2" height="2"/><rect x="477" y="485" width="2" height="2"/><rect x="489" y="485" width="2" height="2"/><rect x="63" y="491" width="2" height="2"/><rect x="75" y="491" width="2" height="2"/><rect x="87" y="491" width="2" height="2"/><rect x="99" y="491" width="2" height="2"/><rect x="111" y="491" width="2" height="2"/><rect x="123" y="491" width="2" height="2"/><rect x="135" y="491" width="2" height="2"/><rect x="147" y="491" width="2" height="2"/><rect x="159" y="491" width="2" height="2"/><rect x="171" y="491" width="2" height="2"/><rect x="183" y="491" width="2" height="2"/><rect x="195" y="491" width="2" height="2"/><rect x="207" y="491" width="2" height="2"/><rect x="219" y="491" width="2" height="2"/><rect x="231" y="491" width="2" height="2"/><rect x="243" y="491" width="2" height="2"/><rect x="255" y="491" width="2" height="2"/><rect x="267" y="491" width="2" height="2"/><rect x="279" y="491" width="2" height="2"/><rect x="291" y="491" width="2" height="2"/><rect x="303" y="491" width="2" height="2"/><rect x="315" y="491" width="2" height="2"/><rect x="327" y="491" width="2" height="2"/><rect x="339" y="491" width="2" height="2"/><rect x="351" y="491" width="2" height="2"/><rect x="363" y="491" width="2" height="2"/><rect x="375" y="491" width="2" height="2"/><rect x="387" y="491" width="2" height="2"/><rect x="399" y="491" width="2" height="2"/><rect x="411" y="491" width="2" height="2"/><rect x="423" y="491" width="2" height="2"/><rect x="435" y="491" width="2" height="2"/><rect x="447" y="491" width="2" height="2"/><rect x="459" y="491" width="2" height="2"/><rect x="471" y="491" width="2" height="2"/><rect x="483" y="491" width="2" height="2"/><rect x="495" y="491" width="2" height="2"/><rect x="57" y="497" width="2" height="2"/><rect x="69" y="497" width="2" height="2"/><rect x="81" y="497" width="2" height="2"/><rect x="93" y="497" width="2" height="2"/><rect x="105" y="497" width="2" height="2"/><rect x="117" y="497" width="2" height="2"/><rect x="129" y="497" width="2" height="2"/><rect x="141" y="497" width="2" height="2"/><rect x="153" y="497" width="2" height="2"/><rect x="165" y="497" width="2" height="2"/><rect x="177" y="497" width="2" height="2"/><rect x="189" y="497" width="2" height="2"/><rect x="201" y="497" width="2" height="2"/><rect x="213" y="497" width="2" height="2"/><rect x="225" y="497" width="2" height="2"/><rect x="237" y="497" width="2" height="2"/><rect x="249" y="497" width="2" height="2"/><rect x="261" y="497" width="2" height="2"/><rect x="273" y="497" width="2" height="2"/><rect x="285" y="497" width="2" height="2"/><rect x="297" y="497" width="2" height="2"/><rect x="309" y="497" width="2" height="2"/><rect x="321" y="497" width="2" height="2"/><rect x="333" y="497" width="2" height="2"/><rect x="345" y="497" width="2" height="2"/><rect x="357" y="497" width="2" height="2"/><rect x="369" y="497" width="2" height="2"/><rect x="381" y="497" width="2" height="2"/><rect x="393" y="497" width="2" height="2"/><rect x="405" y="497" width="2" height="2"/><rect x="417" y="497" width="2" height="2"/><rect x="429" y="497" width="2" height="2"/><rect x="441" y="497" width="2" height="2"/><rect x="453" y="497" width="2" height="2"/><rect x="465" y="497" width="2" height="2"/><rect x="477" y="497" width="2" height="2"/><rect x="489" y="497" width="2" height="2"/><rect x="63" y="503" width="2" height="2"/><rect x="75" y="503" width="2" height="2"/><rect x="87" y="503" width="2" height="2"/><rect x="99" y="503" width="2" height="2"/><rect x="111" y="503" width="2" height="2"/><rect x="123" y="503" width="2" height="2"/><rect x="135" y="503" width="2" height="2"/><rect x="147" y="503" width="2" height="2"/><rect x="159" y="503" width="2" height="2"/><rect x="171" y="503" width="2" height="2"/><rect x="183" y="503" width="2" height="2"/><rect x="195" y="503" width="2" height="2"/><rect x="207" y="503" width="2" height="2"/><rect x="219" y="503" width="2" height="2"/><rect x="231" y="503" width="2" height="2"/><rect x="243" y="503" width="2" height="2"/><rect x="255" y="503" width="2" height="2"/><rect x="267" y="503" width="2" height="2"/><rect x="279" y="503" width="2" height="2"/><rect x="291" y="503" width="2" height="2"/><rect x="303" y="503" width="2" height="2"/><rect x="315" y="503" width="2" height="2"/><rect x="327" y="503" width="2" height="2"/><rect x="339" y="503" width="2" height="2"/><rect x="351" y="503" width="2" height="2"/><rect x="363" y="503" width="2" height="2"/><rect x="375" y="503" width="2" height="2"/><rect x="387" y="503" width="2" height="2"/><rect x="399" y="503" width="2" height="2"/><rect x="411" y="503" width="2" height="2"/><rect x="423" y="503" width="2" height="2"/><rect x="435" y="503" width="2" height="2"/><rect x="447" y="503" width="2" height="2"/><rect x="459" y="503" width="2" height="2"/><rect x="471" y="503" width="2" height="2"/><rect x="483" y="503" width="2" height="2"/><rect x="495" y="503" width="2" height="2"/><rect x="57" y="509" width="2" height="2"/><rect x="69" y="509" width="2" height="2"/><rect x="81" y="509" width="2" height="2"/><rect x="93" y="509" width="2" height="2"/><rect x="105" y="509" width="2" height="2"/><rect x="117" y="509" width="2" height="2"/><rect x="129" y="509" width="2" height="2"/><rect x="141" y="509" width="2" height="2"/><rect x="153" y="509" width="2" height="2"/><rect x="165" y="509" width="2" height="2"/><rect x="177" y="509" width="2" height="2"/><rect x="189" y="509" width="2" height="2"/><rect x="201" y="509" width="2" height="2"/><rect x="213" y="509" width="2" height="2"/><rect x="225" y="509" width="2" height="2"/><rect x="237" y="509" width="2" height="2"/><rect x="249" y="509" width="2" height="2"/><rect x="261" y="509" width="2" height="2"/><rect x="273" y="509" width="2" height="2"/><rect x="285" y="509" width="2" height="2"/><rect x="297" y="509" width="2" height="2"/><rect x="309" y="509" width="2" height="2"/><rect x="321" y="509" width="2" height="2"/><rect x="333" y="509" width="2" height="2"/><rect x="345" y="509" width="2" height="2"/><rect x="357" y="509" width="2" height="2"/><rect x="369" y="509" width="2" height="2"/><rect x="381" y="509" width="2" height="2"/><rect x="393" y="509" width="2" height="2"/><rect x="405" y="509" width="2" height="2"/><rect x="417" y="509" width="2" height="2"/><rect x="429" y="509" width="2" height="2"/><rect x="441" y="509" width="2" height="2"/><rect x="453" y="509" width="2" height="2"/><rect x="465" y="509" width="2" height="2"/><rect x="477" y="509" width="2" height="2"/><rect x="489" y="509" width="2" height="2"/><rect x="63" y="515" width="2" height="2"/><rect x="75" y="515" width="2" height="2"/><rect x="87" y="515" width="2" height="2"/><rect x="99" y="515" width="2" height="2"/><rect x="111" y="515" width="2" height="2"/><rect x="123" y="515" width="2" height="2"/><rect x="135" y="515" width="2" height="2"/><rect x="147" y="515" width="2" height="2"/><rect x="159" y="515" width="2" height="2"/><rect x="171" y="515" width="2" height="2"/><rect x="183" y="515" width="2" height="2"/><rect x="195" y="515" width="2" height="2"/><rect x="207" y="515" width="2" height="2"/><rect x="219" y="515" width="2" height="2"/><rect x="231" y="515" width="2" height="2"/><rect x="243" y="515" width="2" height="2"/><rect x="255" y="515" width="2" height="2"/><rect x="267" y="515" width="2" height="2"/><rect x="279" y="515" width="2" height="2"/><rect x="291" y="515" width="2" height="2"/><rect x="303" y="515" width="2" height="2"/><rect x="315" y="515" width="2" height="2"/><rect x="327" y="515" width="2" height="2"/><rect x="339" y="515" width="2" height="2"/><rect x="351" y="515" width="2" height="2"/><rect x="363" y="515" width="2" height="2"/><rect x="375" y="515" width="2" height="2"/><rect x="387" y="515" width="2" height="2"/><rect x="399" y="515" width="2" height="2"/><rect x="411" y="515" width="2" height="2"/><rect x="423" y="515" width="2" height="2"/><rect x="435" y="515" width="2" height="2"/><rect x="447" y="515" width="2" height="2"/><rect x="459" y="515" width="2" height="2"/><rect x="471" y="515" width="2" height="2"/><rect x="483" y="515" width="2" height="2"/><rect x="495" y="515" width="2" height="2"/></g>
<path d="M110 464 L443.5 464 L443.5 487 C420 489 400 480 380 482 C340 486 320 492 300 491 C260 490 240 480 210 483 C180 487 160 490 140 483 C125 480 115 482 110 483.5 Z" stroke="#000" stroke-width="1.65" fill="none" />
<path d="M64.6 464 L110 464 L110 509.6 L64.6 509.6 Z M443.5 464 L488.5 464 L488.5 509.6 L443.5 509.6 Z" stroke="#000" stroke-width="1.85" fill="none" />
<path d="M86 452 L86 478 Q86 482 81 482 L77 477" stroke="#000" stroke-width="4.95" fill="none" />
<path d="M464 452 L464 478 Q464 482 469 482 L473 477" stroke="#000" stroke-width="4.95" fill="none" />
<path d="M573.5 170.4 L598 168 L645 167.3 L676.5 175.6 L702.5 188.7 L728.6 207 L749.5 225 L758.6 240.8 L763.8 251 L766.4 267 L762.5 280 L760 306 L749.5 332 L736.4 353 L720 359 L708 369 L681 382.4 L610 382.4 L590 372.7 L561.7 350 L548.7 326.9 L542.2 290.4 L542.2 264.3 L546 233 L554 207 L564.3 186 Z" stroke="#000" stroke-width="1.45" fill="none" />
<line x1="572.2" y1="170.4" x2="572.2" y2="316.5" stroke="#000" stroke-width="2.65" stroke-linecap="butt"/>
<line x1="590.4" y1="208" x2="590.4" y2="316.5" stroke="#000" stroke-width="1.65" stroke-linecap="butt"/>
<line x1="576" y1="171.5" x2="591" y2="207.5" stroke="#000" stroke-width="1.45" stroke-linecap="butt"/>
<line x1="580" y1="170.6" x2="594.5" y2="208.2" stroke="#000" stroke-width="1.45" stroke-linecap="butt"/>
<line x1="594.3" y1="208.2" x2="594.3" y2="311" stroke="#000" stroke-width="1.45" stroke-linecap="butt"/>
<circle cx="612.6" cy="188.7" r="10.2" stroke="#000" stroke-width="1.65" fill="none"/>
<line x1="612.6" y1="178.5" x2="612.6" y2="198.9" stroke="#000" stroke-width="1.45" stroke-linecap="butt"/>
<line x1="602.4" y1="188.7" x2="622.8" y2="188.7" stroke="#000" stroke-width="1.45" stroke-linecap="butt"/>
<line x1="610" y1="199" x2="610" y2="334.7" stroke="#000" stroke-width="1.65" stroke-linecap="butt"/>
<line x1="615" y1="199" x2="615" y2="334.7" stroke="#000" stroke-width="1.65" stroke-linecap="butt"/>
<rect x="595.6" y="216" width="88.7" height="9.2" stroke="#000" stroke-width="1.45" fill="none"/>
<rect x="645" y="214.5" width="22" height="2" fill="#000"/>
<line x1="595.6" y1="225.2" x2="595.6" y2="302" stroke="#000" stroke-width="1.65" stroke-linecap="butt"/>
<line x1="632" y1="225.2" x2="632" y2="302" stroke="#000" stroke-width="1.65" stroke-linecap="butt"/>
<line x1="642.5" y1="225.2" x2="642.5" y2="302" stroke="#000" stroke-width="1.65" stroke-linecap="butt"/>
<line x1="647.8" y1="225.2" x2="647.8" y2="310" stroke="#000" stroke-width="1.65" stroke-linecap="butt"/>
<rect x="604" y="233" width="3" height="3" fill="#000"/>
<ellipse cx="612.5" cy="237.6" rx="10.5" ry="1.9" fill="#000"/>
<ellipse cx="612.5" cy="243.7" rx="10.5" ry="1.9" fill="#000"/>
<ellipse cx="612.5" cy="249.8" rx="10.5" ry="1.9" fill="#000"/>
<ellipse cx="612.5" cy="255.9" rx="10.5" ry="1.9" fill="#000"/>
<ellipse cx="612.5" cy="262" rx="10.5" ry="1.9" fill="#000"/>
<ellipse cx="612.5" cy="268.1" rx="10.5" ry="1.9" fill="#000"/>
<ellipse cx="612.5" cy="274.2" rx="10.5" ry="1.9" fill="#000"/>
<ellipse cx="612.5" cy="280.3" rx="10.5" ry="1.9" fill="#000"/>
<ellipse cx="612.5" cy="286.4" rx="10.5" ry="1.9" fill="#000"/>
<ellipse cx="612.5" cy="292.5" rx="10.5" ry="1.9" fill="#000"/>
<rect x="600" y="295.6" width="43" height="5" fill="#000"/>
<rect x="633" y="238" width="4" height="6" fill="#000"/>
<path d="M647.8 225.2 L702.5 225.2 L760 240.8" stroke="#000" stroke-width="1.45" fill="none" stroke-linejoin="miter"/>
<path d="M647.8 234.3 L760 251" stroke="#000" stroke-width="1.45" fill="none" stroke-linejoin="miter"/>
<path d="M652 236 L702.5 250 L715 252.6" stroke="#000" stroke-width="1.45" fill="none" stroke-linejoin="miter"/>
<line x1="650" y1="252.6" x2="760" y2="252.6" stroke="#000" stroke-width="1.45" stroke-linecap="butt"/>
<line x1="650" y1="280" x2="760" y2="280" stroke="#000" stroke-width="1.45" stroke-linecap="butt"/>
<line x1="650" y1="283.9" x2="760" y2="283.9" stroke="#000" stroke-width="1.35" stroke-dasharray="20 3 3 3" stroke-linecap="butt"/>
<line x1="650" y1="287.8" x2="760" y2="287.8" stroke="#000" stroke-width="1.45" stroke-linecap="butt"/>
<line x1="650" y1="298.2" x2="760" y2="298.2" stroke="#000" stroke-width="1.45" stroke-linecap="butt"/>
<line x1="647.8" y1="307.3" x2="760" y2="307.3" stroke="#000" stroke-width="1.45" stroke-linecap="butt"/>
<line x1="649" y1="252.6" x2="649" y2="310" stroke="#000" stroke-width="1.65" stroke-linecap="butt"/>
<line x1="640" y1="265" x2="652" y2="252" stroke="#000" stroke-width="1.65" stroke-linecap="butt"/>
<rect x="580" y="311" width="104" height="9" stroke="#000" stroke-width="1.45" fill="none"/>
<rect x="633" y="319" width="22" height="3" fill="#000"/>
<line x1="572.2" y1="316.5" x2="684" y2="316.5" stroke="#000" stroke-width="1.65" stroke-linecap="butt"/>
<rect x="586.5" y="325.6" width="22" height="7.8" stroke="#000" stroke-width="1.85" fill="none"/>
<rect x="590" y="327" width="4" height="5" fill="#000"/>
<line x1="572.2" y1="316.5" x2="572.2" y2="334.7" stroke="#000" stroke-width="1.65" stroke-linecap="butt"/>
<line x1="615" y1="316.5" x2="615" y2="355.6" stroke="#000" stroke-width="1.65" stroke-linecap="butt"/>
<line x1="545" y1="334.7" x2="615" y2="334.7" stroke="#000" stroke-width="1.65" stroke-linecap="butt"/>
<line x1="549" y1="346.4" x2="748" y2="346.4" stroke="#000" stroke-width="1.45" stroke-linecap="butt"/>
<line x1="556" y1="355.6" x2="742" y2="355.6" stroke="#000" stroke-width="1.45" stroke-linecap="butt"/>
<line x1="575" y1="368.9" x2="707" y2="368.9" stroke="#000" stroke-width="1.35" stroke-dasharray="28 4 4 4" stroke-linecap="butt"/>
<path d="M610 382.4 L617 386.6 L628.6 386.6 L628.6 388.6 L635.5 388.6 L638 383.5" stroke="#000" stroke-width="1.45" fill="none" stroke-linejoin="miter"/>
<path d="M641 382.6 L641.7 391.3 L649.4 391.3 L650.2 388.2 L664 388.2 L676.4 382.8" stroke="#000" stroke-width="1.45" fill="none" stroke-linejoin="miter"/>
<text transform="translate(615.70 133.90) scale(1.1642 1.2681)" font-family="Liberation Sans" font-size="20" font-weight="normal" fill="#000">A</text>
<text transform="translate(675.50 141.30) scale(0.8108 1.0000)" font-family="Liberation Sans" font-size="20" font-weight="normal" fill="#000">6</text>
<text transform="translate(738.20 115.40) scale(0.7658 1.0000)" font-family="Liberation Sans" font-size="20" font-weight="normal" fill="#000">7</text>
<text transform="translate(734.90 142.30) scale(0.7658 0.9857)" font-family="Liberation Sans" font-size="20" font-weight="normal" fill="#000">5</text>
<path d="M668 147.5 L692 147.5 L645 216" stroke="#000" stroke-width="1.65" fill="none" stroke-linejoin="miter"/>
<path d="M747 121 L729 121 L650 225" stroke="#000" stroke-width="1.65" fill="none" stroke-linejoin="miter"/>
<path d="M749 147.5 L729 147.5 L640 268" stroke="#000" stroke-width="1.65" fill="none" stroke-linejoin="miter"/>
<path d="M600.9 582.5 L717.5 579.3 L771 601.4 L796.2 632.9 L802.5 658 L805.7 677 L749 777.9 L704.9 771.6 L619.8 757.4 L563 718 L541 696 L534.7 661.3 L537.8 629.8 L591.4 590.4 Z" stroke="#000" stroke-width="1.45" fill="none" />
<line x1="591.4" y1="590.4" x2="745.8" y2="590.4" stroke="#000" stroke-width="2.05" stroke-linecap="butt"/>
<path d="M618 590.4 L618 603 L771 603" stroke="#000" stroke-width="2.05" fill="none" stroke-linejoin="miter"/>
<rect x="640" y="603" width="110" height="11" stroke="#000" stroke-width="1.85" fill="none"/>
<line x1="665.5" y1="603" x2="665.5" y2="614" stroke="#000" stroke-width="1.65" stroke-linecap="butt"/>
<line x1="640" y1="612.4" x2="825" y2="612.4" stroke="#000" stroke-width="1.45" stroke-linecap="butt"/>
<line x1="640" y1="617.2" x2="825" y2="617.2" stroke="#000" stroke-width="1.45" stroke-linecap="butt"/>
<line x1="750.5" y1="603" x2="750.5" y2="636" stroke="#000" stroke-width="1.85" stroke-linecap="butt"/>
<rect x="656" y="617" width="25" height="8" stroke="#000" stroke-width="2.05" fill="none"/>
<rect x="637" y="625" width="63" height="11" stroke="#000" stroke-width="2.05" fill="none"/>
<rect x="569" y="608" width="20" height="10" stroke="#000" stroke-width="2.05" fill="none"/>
<rect x="566" y="618" width="27" height="10" stroke="#000" stroke-width="2.05" fill="none"/>
<line x1="574" y1="608" x2="574" y2="628" stroke="#000" stroke-width="1.65" stroke-linecap="butt"/>
<line x1="583" y1="608" x2="583" y2="628" stroke="#000" stroke-width="1.65" stroke-linecap="butt"/>
<rect x="558" y="630" width="44" height="6" stroke="#000" stroke-width="2.05" fill="none"/>
<line x1="538" y1="636" x2="800" y2="636" stroke="#000" stroke-width="1.85" stroke-linecap="butt"/>
<rect x="534" y="653.4" width="268" height="4.2" fill="#000"/>
<line x1="535" y1="661.3" x2="700" y2="661.3" stroke="#000" stroke-width="1.85" stroke-linecap="butt"/>
<line x1="536" y1="672.3" x2="637" y2="672.3" stroke="#000" stroke-width="1.85" stroke-linecap="butt"/>
<line x1="637" y1="661.3" x2="637" y2="672.3" stroke="#000" stroke-width="1.85" stroke-linecap="butt"/>
<rect x="656" y="658" width="44" height="8" stroke="#000" stroke-width="1.85" fill="none"/>
<rect x="564.6" y="674" width="28" height="11" stroke="#000" stroke-width="2.25" fill="none"/>
<line x1="578" y1="678" x2="578" y2="685" stroke="#000" stroke-width="1.65" stroke-linecap="butt"/>
<line x1="572" y1="674" x2="572" y2="685" stroke="#000" stroke-width="1.65" stroke-linecap="butt"/>
<line x1="585" y1="674" x2="585" y2="685" stroke="#000" stroke-width="1.65" stroke-linecap="butt"/>
<line x1="577" y1="606" x2="577" y2="685" stroke="#000" stroke-width="1.45" stroke-linecap="butt"/>
<line x1="668.6" y1="617" x2="668.6" y2="775" stroke="#000" stroke-width="1.45" stroke-linecap="butt"/>
<line x1="541" y1="692.8" x2="602.4" y2="692.8" stroke="#000" stroke-width="1.85" stroke-linecap="butt"/>
<line x1="602.4" y1="692.8" x2="602.4" y2="750" stroke="#000" stroke-width="1.85" stroke-linecap="butt"/>
<path d="M656 666 L656 769 L681 769 L681 666" stroke="#000" stroke-width="2.05" fill="none" stroke-linejoin="miter"/>
<line x1="656" y1="700.7" x2="681" y2="700.7" stroke="#000" stroke-width="1.45" stroke-linecap="butt"/>
<line x1="706.4" y1="658" x2="706.4" y2="772" stroke="#000" stroke-width="2.05" stroke-linecap="butt"/>
<rect x="691" y="674" width="12" height="23" stroke="#000" stroke-width="2.25" fill="none"/>
<line x1="696" y1="676" x2="696" y2="695" stroke="#000" stroke-width="1.45" stroke-linecap="butt"/>
<line x1="691" y1="685" x2="703" y2="685" stroke="#000" stroke-width="1.45" stroke-linecap="butt"/>
<rect x="703" y="675" width="2" height="20" fill="#000"/>
<path d="M657 763 Q668 752 681 763" stroke="#000" stroke-width="1.85" fill="none" />
<text transform="translate(648.70 559.10) scale(1.1128 1.4493)" font-family="Liberation Sans" font-size="20" font-weight="normal" fill="#000">B</text>
<text transform="translate(807.00 574.80) rotate(-90) scale(0.9846 1.0571)" font-family="Liberation Sans" font-size="20" font-weight="normal" fill="#000">2...4</text>
<line x1="815" y1="525" x2="815" y2="676.5" stroke="#000" stroke-width="1.45" stroke-linecap="butt"/>
<path d="M815.3 612.2 L819.25 608.7 L819.25 586.2 L815.9 584.2 L814.1 584.2 L810.75 586.2 L810.75 608.7 L814.7 612.2 Z" fill="#000" stroke="#000" stroke-width="0.5"/>
<path d="M815.3 618.5 L819.25 622 L819.25 646.5 L815.9 648.5 L814.1 648.5 L810.75 646.5 L810.75 622 L814.7 618.5 Z" fill="#000" stroke="#000" stroke-width="0.5"/>
<text transform="translate(552.00 761.77) scale(0.9910 1.1268)" font-family="Liberation Sans" font-size="20" font-weight="normal" fill="#000">9</text>
<path d="M544 773 L597.7 773 L664 721" stroke="#000" stroke-width="1.45" fill="none" stroke-linejoin="miter"/>
<clipPath id="sc1"><path d="M87.17 539.1 A125 125 0 0 1 252.88 616.37 L213.07 616.37 A88 88 0 0 0 101.03 573.41 Z"/></clipPath><g clip-path="url(#sc1)" stroke="#000" stroke-width="1.5"><line x1="-271" y1="520" x2="-1" y2="790"/><line x1="-257.85" y1="520" x2="12.15" y2="790"/><line x1="-244.7" y1="520" x2="25.3" y2="790"/><line x1="-231.54" y1="520" x2="38.46" y2="790"/><line x1="-218.39" y1="520" x2="51.61" y2="790"/><line x1="-205.24" y1="520" x2="64.76" y2="790"/><line x1="-192.09" y1="520" x2="77.91" y2="790"/><line x1="-178.94" y1="520" x2="91.06" y2="790"/><line x1="-165.78" y1="520" x2="104.22" y2="790"/><line x1="-152.63" y1="520" x2="117.37" y2="790"/><line x1="-139.48" y1="520" x2="130.52" y2="790"/><line x1="-126.33" y1="520" x2="143.67" y2="790"/><line x1="-113.18" y1="520" x2="156.82" y2="790"/><line x1="-100.02" y1="520" x2="169.98" y2="790"/><line x1="-86.87" y1="520" x2="183.13" y2="790"/><line x1="-73.72" y1="520" x2="196.28" y2="790"/><line x1="-60.57" y1="520" x2="209.43" y2="790"/><line x1="-47.41" y1="520" x2="222.59" y2="790"/><line x1="-34.26" y1="520" x2="235.74" y2="790"/><line x1="-21.11" y1="520" x2="248.89" y2="790"/><line x1="-7.96" y1="520" x2="262.04" y2="790"/><line x1="5.19" y1="520" x2="275.19" y2="790"/><line x1="18.35" y1="520" x2="288.35" y2="790"/><line x1="31.5" y1="520" x2="301.5" y2="790"/><line x1="44.65" y1="520" x2="314.65" y2="790"/><line x1="57.8" y1="520" x2="327.8" y2="790"/><line x1="70.95" y1="520" x2="340.95" y2="790"/><line x1="84.11" y1="520" x2="354.11" y2="790"/><line x1="97.26" y1="520" x2="367.26" y2="790"/><line x1="110.41" y1="520" x2="380.41" y2="790"/><line x1="123.56" y1="520" x2="393.56" y2="790"/><line x1="136.71" y1="520" x2="406.71" y2="790"/><line x1="149.87" y1="520" x2="419.87" y2="790"/><line x1="163.02" y1="520" x2="433.02" y2="790"/><line x1="176.17" y1="520" x2="446.17" y2="790"/><line x1="189.32" y1="520" x2="459.32" y2="790"/><line x1="202.47" y1="520" x2="472.47" y2="790"/><line x1="215.63" y1="520" x2="485.63" y2="790"/><line x1="228.78" y1="520" x2="498.78" y2="790"/><line x1="241.93" y1="520" x2="511.93" y2="790"/><line x1="255.08" y1="520" x2="525.08" y2="790"/><line x1="268.23" y1="520" x2="538.23" y2="790"/><line x1="281.39" y1="520" x2="551.39" y2="790"/></g>
<path d="M87.17 539.1 A125 125 0 0 1 252.88 616.37 L213.07 616.37 A88 88 0 0 0 101.03 573.41 Z" stroke="#000" stroke-width="1.65" fill="none" />
<clipPath id="sc2"><path d="M87.17 783.9 A125 125 0 0 0 252.88 706.63 L213.07 706.63 A88 88 0 0 1 101.03 749.59 Z"/></clipPath><g clip-path="url(#sc2)" stroke="#000" stroke-width="1.5"><line x1="-1" y1="533" x2="-271" y2="803"/><line x1="12.15" y1="533" x2="-257.85" y2="803"/><line x1="25.3" y1="533" x2="-244.7" y2="803"/><line x1="38.46" y1="533" x2="-231.54" y2="803"/><line x1="51.61" y1="533" x2="-218.39" y2="803"/><line x1="64.76" y1="533" x2="-205.24" y2="803"/><line x1="77.91" y1="533" x2="-192.09" y2="803"/><line x1="91.06" y1="533" x2="-178.94" y2="803"/><line x1="104.22" y1="533" x2="-165.78" y2="803"/><line x1="117.37" y1="533" x2="-152.63" y2="803"/><line x1="130.52" y1="533" x2="-139.48" y2="803"/><line x1="143.67" y1="533" x2="-126.33" y2="803"/><line x1="156.82" y1="533" x2="-113.18" y2="803"/><line x1="169.98" y1="533" x2="-100.02" y2="803"/><line x1="183.13" y1="533" x2="-86.87" y2="803"/><line x1="196.28" y1="533" x2="-73.72" y2="803"/><line x1="209.43" y1="533" x2="-60.57" y2="803"/><line x1="222.59" y1="533" x2="-47.41" y2="803"/><line x1="235.74" y1="533" x2="-34.26" y2="803"/><line x1="248.89" y1="533" x2="-21.11" y2="803"/><line x1="262.04" y1="533" x2="-7.96" y2="803"/><line x1="275.19" y1="533" x2="5.19" y2="803"/><line x1="288.35" y1="533" x2="18.35" y2="803"/><line x1="301.5" y1="533" x2="31.5" y2="803"/><line x1="314.65" y1="533" x2="44.65" y2="803"/><line x1="327.8" y1="533" x2="57.8" y2="803"/><line x1="340.95" y1="533" x2="70.95" y2="803"/><line x1="354.11" y1="533" x2="84.11" y2="803"/><line x1="367.26" y1="533" x2="97.26" y2="803"/><line x1="380.41" y1="533" x2="110.41" y2="803"/><line x1="393.56" y1="533" x2="123.56" y2="803"/><line x1="406.71" y1="533" x2="136.71" y2="803"/><line x1="419.87" y1="533" x2="149.87" y2="803"/><line x1="433.02" y1="533" x2="163.02" y2="803"/><line x1="446.17" y1="533" x2="176.17" y2="803"/><line x1="459.32" y1="533" x2="189.32" y2="803"/><line x1="472.47" y1="533" x2="202.47" y2="803"/><line x1="485.63" y1="533" x2="215.63" y2="803"/><line x1="498.78" y1="533" x2="228.78" y2="803"/><line x1="511.93" y1="533" x2="241.93" y2="803"/><line x1="525.08" y1="533" x2="255.08" y2="803"/><line x1="538.23" y1="533" x2="268.23" y2="803"/><line x1="551.39" y1="533" x2="281.39" y2="803"/></g>
<path d="M87.17 783.9 A125 125 0 0 0 252.88 706.63 L213.07 706.63 A88 88 0 0 1 101.03 749.59 Z" stroke="#000" stroke-width="1.65" fill="none" />
<clipPath id="sc3"><path d="M465.83 539.1 A125 125 0 0 0 300.12 616.37 L339.93 616.37 A88 88 0 0 1 451.97 573.41 Z"/></clipPath><g clip-path="url(#sc3)" stroke="#000" stroke-width="1.5"><line x1="284" y1="520" x2="14" y2="790"/><line x1="297.15" y1="520" x2="27.15" y2="790"/><line x1="310.3" y1="520" x2="40.3" y2="790"/><line x1="323.46" y1="520" x2="53.46" y2="790"/><line x1="336.61" y1="520" x2="66.61" y2="790"/><line x1="349.76" y1="520" x2="79.76" y2="790"/><line x1="362.91" y1="520" x2="92.91" y2="790"/><line x1="376.06" y1="520" x2="106.06" y2="790"/><line x1="389.22" y1="520" x2="119.22" y2="790"/><line x1="402.37" y1="520" x2="132.37" y2="790"/><line x1="415.52" y1="520" x2="145.52" y2="790"/><line x1="428.67" y1="520" x2="158.67" y2="790"/><line x1="441.82" y1="520" x2="171.82" y2="790"/><line x1="454.98" y1="520" x2="184.98" y2="790"/><line x1="468.13" y1="520" x2="198.13" y2="790"/><line x1="481.28" y1="520" x2="211.28" y2="790"/><line x1="494.43" y1="520" x2="224.43" y2="790"/><line x1="507.59" y1="520" x2="237.59" y2="790"/><line x1="520.74" y1="520" x2="250.74" y2="790"/><line x1="533.89" y1="520" x2="263.89" y2="790"/><line x1="547.04" y1="520" x2="277.04" y2="790"/><line x1="560.19" y1="520" x2="290.19" y2="790"/><line x1="573.35" y1="520" x2="303.35" y2="790"/><line x1="586.5" y1="520" x2="316.5" y2="790"/><line x1="599.65" y1="520" x2="329.65" y2="790"/><line x1="612.8" y1="520" x2="342.8" y2="790"/><line x1="625.95" y1="520" x2="355.95" y2="790"/><line x1="639.11" y1="520" x2="369.11" y2="790"/><line x1="652.26" y1="520" x2="382.26" y2="790"/><line x1="665.41" y1="520" x2="395.41" y2="790"/><line x1="678.56" y1="520" x2="408.56" y2="790"/><line x1="691.71" y1="520" x2="421.71" y2="790"/><line x1="704.87" y1="520" x2="434.87" y2="790"/><line x1="718.02" y1="520" x2="448.02" y2="790"/><line x1="731.17" y1="520" x2="461.17" y2="790"/><line x1="744.32" y1="520" x2="474.32" y2="790"/><line x1="757.47" y1="520" x2="487.47" y2="790"/><line x1="770.63" y1="520" x2="500.63" y2="790"/><line x1="783.78" y1="520" x2="513.78" y2="790"/><line x1="796.93" y1="520" x2="526.93" y2="790"/><line x1="810.08" y1="520" x2="540.08" y2="790"/><line x1="823.23" y1="520" x2="553.23" y2="790"/><line x1="836.39" y1="520" x2="566.39" y2="790"/></g>
<path d="M465.83 539.1 A125 125 0 0 0 300.12 616.37 L339.93 616.37 A88 88 0 0 1 451.97 573.41 Z" stroke="#000" stroke-width="1.65" fill="none" />
<clipPath id="sc4"><path d="M465.83 783.9 A125 125 0 0 1 300.12 706.63 L339.93 706.63 A88 88 0 0 0 451.97 749.59 Z"/></clipPath><g clip-path="url(#sc4)" stroke="#000" stroke-width="1.5"><line x1="14" y1="533" x2="284" y2="803"/><line x1="27.15" y1="533" x2="297.15" y2="803"/><line x1="40.3" y1="533" x2="310.3" y2="803"/><line x1="53.46" y1="533" x2="323.46" y2="803"/><line x1="66.61" y1="533" x2="336.61" y2="803"/><line x1="79.76" y1="533" x2="349.76" y2="803"/><line x1="92.91" y1="533" x2="362.91" y2="803"/><line x1="106.06" y1="533" x2="376.06" y2="803"/><line x1="119.22" y1="533" x2="389.22" y2="803"/><line x1="132.37" y1="533" x2="402.37" y2="803"/><line x1="145.52" y1="533" x2="415.52" y2="803"/><line x1="158.67" y1="533" x2="428.67" y2="803"/><line x1="171.82" y1="533" x2="441.82" y2="803"/><line x1="184.98" y1="533" x2="454.98" y2="803"/><line x1="198.13" y1="533" x2="468.13" y2="803"/><line x1="211.28" y1="533" x2="481.28" y2="803"/><line x1="224.43" y1="533" x2="494.43" y2="803"/><line x1="237.59" y1="533" x2="507.59" y2="803"/><line x1="250.74" y1="533" x2="520.74" y2="803"/><line x1="263.89" y1="533" x2="533.89" y2="803"/><line x1="277.04" y1="533" x2="547.04" y2="803"/><line x1="290.19" y1="533" x2="560.19" y2="803"/><line x1="303.35" y1="533" x2="573.35" y2="803"/><line x1="316.5" y1="533" x2="586.5" y2="803"/><line x1="329.65" y1="533" x2="599.65" y2="803"/><line x1="342.8" y1="533" x2="612.8" y2="803"/><line x1="355.95" y1="533" x2="625.95" y2="803"/><line x1="369.11" y1="533" x2="639.11" y2="803"/><line x1="382.26" y1="533" x2="652.26" y2="803"/><line x1="395.41" y1="533" x2="665.41" y2="803"/><line x1="408.56" y1="533" x2="678.56" y2="803"/><line x1="421.71" y1="533" x2="691.71" y2="803"/><line x1="434.87" y1="533" x2="704.87" y2="803"/><line x1="448.02" y1="533" x2="718.02" y2="803"/><line x1="461.17" y1="533" x2="731.17" y2="803"/><line x1="474.32" y1="533" x2="744.32" y2="803"/><line x1="487.47" y1="533" x2="757.47" y2="803"/><line x1="500.63" y1="533" x2="770.63" y2="803"/><line x1="513.78" y1="533" x2="783.78" y2="803"/><line x1="526.93" y1="533" x2="796.93" y2="803"/><line x1="540.08" y1="533" x2="810.08" y2="803"/><line x1="553.23" y1="533" x2="823.23" y2="803"/><line x1="566.39" y1="533" x2="836.39" y2="803"/></g>
<path d="M465.83 783.9 A125 125 0 0 1 300.12 706.63 L339.93 706.63 A88 88 0 0 0 451.97 749.59 Z" stroke="#000" stroke-width="1.65" fill="none" />
<line x1="189" y1="617" x2="189" y2="641" stroke="#000" stroke-width="1.65" stroke-linecap="butt"/>
<line x1="189" y1="683" x2="189" y2="705" stroke="#000" stroke-width="1.65" stroke-linecap="butt"/>
<line x1="236" y1="617" x2="236" y2="641" stroke="#000" stroke-width="1.65" stroke-linecap="butt"/>
<line x1="236" y1="683" x2="236" y2="705" stroke="#000" stroke-width="1.65" stroke-linecap="butt"/>
<line x1="364" y1="617" x2="364" y2="641" stroke="#000" stroke-width="1.65" stroke-linecap="butt"/>
<line x1="364" y1="683" x2="364" y2="705" stroke="#000" stroke-width="1.65" stroke-linecap="butt"/>
<line x1="317" y1="617" x2="317" y2="641" stroke="#000" stroke-width="1.65" stroke-linecap="butt"/>
<line x1="317" y1="683" x2="317" y2="705" stroke="#000" stroke-width="1.65" stroke-linecap="butt"/>
<line x1="187" y1="617" x2="215" y2="617" stroke="#000" stroke-width="1.65" stroke-linecap="butt"/>
<line x1="366" y1="617" x2="338" y2="617" stroke="#000" stroke-width="1.65" stroke-linecap="butt"/>
<line x1="187" y1="705" x2="215" y2="705" stroke="#000" stroke-width="1.65" stroke-linecap="butt"/>
<line x1="366" y1="705" x2="338" y2="705" stroke="#000" stroke-width="1.65" stroke-linecap="butt"/>
<line x1="155" y1="641" x2="398" y2="641" stroke="#000" stroke-width="3.05" stroke-linecap="butt"/>
<line x1="155" y1="683" x2="398" y2="683" stroke="#000" stroke-width="3.05" stroke-linecap="butt"/>
<line x1="70" y1="661.5" x2="483" y2="661.5" stroke="#000" stroke-width="1.35" stroke-dasharray="26 4 4 4" stroke-linecap="butt"/>
<path d="M64.6 571.4 L64.6 655.9 L73.3 655.9" stroke="#000" stroke-width="1.65" fill="none" stroke-linejoin="miter"/>
<path d="M64.6 835 L64.6 667.3 L73.3 667.3" stroke="#000" stroke-width="1.65" fill="none" stroke-linejoin="miter"/>
<line x1="109.8" y1="571.4" x2="109.8" y2="640" stroke="#000" stroke-width="1.65" stroke-linecap="butt"/>
<line x1="109.8" y1="683" x2="109.8" y2="736" stroke="#000" stroke-width="1.65" stroke-linecap="butt"/>
<line x1="64.6" y1="585.6" x2="109.8" y2="585.6" stroke="#000" stroke-width="1.45" stroke-linecap="butt"/>
<line x1="64.6" y1="735.5" x2="109.8" y2="735.5" stroke="#000" stroke-width="1.45" stroke-linecap="butt"/>
<line x1="116" y1="641" x2="116" y2="800" stroke="#000" stroke-width="1.45" stroke-linecap="butt"/>
<rect x="82" y="596.5" width="14" height="44.5" stroke="#000" stroke-width="1.65" fill="none"/>
<rect x="82" y="676.5" width="14" height="46.5" stroke="#000" stroke-width="1.65" fill="none"/>
<rect x="85.2" y="600.2" width="3.6" height="3.6" fill="#000"/>
<rect x="86.2" y="626.7" width="3.6" height="3.6" fill="#000"/>
<rect x="86.2" y="691.7" width="3.6" height="3.6" fill="#000"/>
<rect x="85.2" y="717.2" width="3.6" height="3.6" fill="#000"/>
<rect x="82.9" y="642.7" width="3.6" height="3.6" fill="#000"/>
<rect x="81.7" y="676.9" width="3.6" height="3.6" fill="#000"/>
<path d="M96 625 L115.5 641" stroke="#000" stroke-width="1.45" fill="none" stroke-linejoin="miter"/>
<path d="M96 698 L115.5 683" stroke="#000" stroke-width="1.45" fill="none" stroke-linejoin="miter"/>
<path d="M129.5 643 L80 647.5 L73.3 661.6 L80 676 L129.5 680" stroke="#000" stroke-width="1.65" fill="none" stroke-linejoin="miter"/>
<path d="M116 643 Q140 661.5 116 680" stroke="#000" stroke-width="1.45" fill="none" />
<line x1="116" y1="641" x2="116" y2="683" stroke="#000" stroke-width="1.45" stroke-linecap="butt"/>
<path d="M488.4 571.4 L488.4 655.9 L479.7 655.9" stroke="#000" stroke-width="1.65" fill="none" stroke-linejoin="miter"/>
<path d="M488.4 835 L488.4 667.3 L479.7 667.3" stroke="#000" stroke-width="1.65" fill="none" stroke-linejoin="miter"/>
<line x1="443.2" y1="571.4" x2="443.2" y2="640" stroke="#000" stroke-width="1.65" stroke-linecap="butt"/>
<line x1="443.2" y1="683" x2="443.2" y2="736" stroke="#000" stroke-width="1.65" stroke-linecap="butt"/>
<line x1="488.4" y1="587.4" x2="443.2" y2="587.4" stroke="#000" stroke-width="1.45" stroke-linecap="butt"/>
<line x1="488.4" y1="735.5" x2="443.2" y2="735.5" stroke="#000" stroke-width="1.45" stroke-linecap="butt"/>
<line x1="437" y1="641" x2="437" y2="800" stroke="#000" stroke-width="1.45" stroke-linecap="butt"/>
<rect x="457" y="596.5" width="14" height="44.5" stroke="#000" stroke-width="1.65" fill="none"/>
<rect x="457" y="676.5" width="14" height="46.5" stroke="#000" stroke-width="1.65" fill="none"/>
<rect x="464.2" y="600.2" width="3.6" height="3.6" fill="#000"/>
<rect x="463.2" y="626.7" width="3.6" height="3.6" fill="#000"/>
<rect x="463.2" y="691.7" width="3.6" height="3.6" fill="#000"/>
<rect x="464.2" y="717.2" width="3.6" height="3.6" fill="#000"/>
<rect x="466.5" y="642.7" width="3.6" height="3.6" fill="#000"/>
<rect x="467.7" y="676.9" width="3.6" height="3.6" fill="#000"/>
<path d="M457 625 L437.5 641" stroke="#000" stroke-width="1.45" fill="none" stroke-linejoin="miter"/>
<path d="M457 698 L437.5 683" stroke="#000" stroke-width="1.45" fill="none" stroke-linejoin="miter"/>
<path d="M423.5 643 L473 647.5 L479.7 661.6 L473 676 L423.5 680" stroke="#000" stroke-width="1.65" fill="none" stroke-linejoin="miter"/>
<path d="M437 643 Q413 661.5 437 680" stroke="#000" stroke-width="1.45" fill="none" />
<line x1="437" y1="641" x2="437" y2="683" stroke="#000" stroke-width="1.45" stroke-linecap="butt"/>
<g transform="">
<g transform="translate(139 648) rotate(-43)">
<line x1="0" y1="-3.6" x2="96" y2="-3.6" stroke="#000" stroke-width="1.75" stroke-linecap="butt"/>
<line x1="6" y1="3.6" x2="96" y2="3.6" stroke="#000" stroke-width="1.75" stroke-linecap="butt"/>
<line x1="14" y1="-0.8" x2="90" y2="-0.8" stroke="#000" stroke-width="1.25" stroke-linecap="butt"/>
<rect x="15" y="-15.5" width="30" height="10.5" stroke="#000" stroke-width="3.05" fill="none" rx="2.5"/>
<line x1="20" y1="-7.5" x2="42" y2="-7.5" stroke="#000" stroke-width="1.35" stroke-linecap="butt"/>
<rect x="41" y="-3.5" width="18" height="12" stroke="#000" stroke-width="2.45" fill="none"/>
<line x1="47" y1="-3.5" x2="47" y2="8.5" stroke="#000" stroke-width="1.45" stroke-linecap="butt"/>
</g>
<circle cx="194.3" cy="586.9" r="7.2" stroke="#000" stroke-width="1.85" fill="none"/>
<line x1="187.1" y1="586.9" x2="201.5" y2="586.9" stroke="#000" stroke-width="1.35" stroke-linecap="butt"/>
<line x1="194.3" y1="579.7" x2="194.3" y2="594.1" stroke="#000" stroke-width="1.35" stroke-linecap="butt"/>
<circle cx="229.6" cy="574.1" r="8.3" stroke="#000" stroke-width="1.85" fill="none"/>
<line x1="221.3" y1="574.1" x2="237.9" y2="574.1" stroke="#000" stroke-width="1.35" stroke-linecap="butt"/>
<line x1="229.6" y1="565.8" x2="229.6" y2="582.4" stroke="#000" stroke-width="1.35" stroke-linecap="butt"/>
<circle cx="212.5" cy="582.5" r="4.2" stroke="#000" stroke-width="1.85" fill="none"/>
<path d="M129.5 642 L143.4 642 L143.4 661.5" stroke="#000" stroke-width="1.75" fill="none" stroke-linejoin="miter"/>
<path d="M129.5 642 Q124 651 129.5 661.5" stroke="#000" stroke-width="1.45" fill="none" />
<rect x="133.6" y="648.5" width="4" height="4" fill="#000"/>
</g>
<g transform="translate(553 0) scale(-1 1)">
<g transform="translate(139 648) rotate(-43)">
<line x1="0" y1="-3.6" x2="96" y2="-3.6" stroke="#000" stroke-width="1.75" stroke-linecap="butt"/>
<line x1="6" y1="3.6" x2="96" y2="3.6" stroke="#000" stroke-width="1.75" stroke-linecap="butt"/>
<line x1="14" y1="-0.8" x2="90" y2="-0.8" stroke="#000" stroke-width="1.25" stroke-linecap="butt"/>
<rect x="15" y="-15.5" width="30" height="10.5" stroke="#000" stroke-width="3.05" fill="none" rx="2.5"/>
<line x1="20" y1="-7.5" x2="42" y2="-7.5" stroke="#000" stroke-width="1.35" stroke-linecap="butt"/>
<rect x="41" y="-3.5" width="18" height="12" stroke="#000" stroke-width="2.45" fill="none"/>
<line x1="47" y1="-3.5" x2="47" y2="8.5" stroke="#000" stroke-width="1.45" stroke-linecap="butt"/>
</g>
<circle cx="194.3" cy="586.9" r="7.2" stroke="#000" stroke-width="1.85" fill="none"/>
<line x1="187.1" y1="586.9" x2="201.5" y2="586.9" stroke="#000" stroke-width="1.35" stroke-linecap="butt"/>
<line x1="194.3" y1="579.7" x2="194.3" y2="594.1" stroke="#000" stroke-width="1.35" stroke-linecap="butt"/>
<circle cx="229.6" cy="574.1" r="8.3" stroke="#000" stroke-width="1.85" fill="none"/>
<line x1="221.3" y1="574.1" x2="237.9" y2="574.1" stroke="#000" stroke-width="1.35" stroke-linecap="butt"/>
<line x1="229.6" y1="565.8" x2="229.6" y2="582.4" stroke="#000" stroke-width="1.35" stroke-linecap="butt"/>
<circle cx="212.5" cy="582.5" r="4.2" stroke="#000" stroke-width="1.85" fill="none"/>
<path d="M129.5 642 L143.4 642 L143.4 661.5" stroke="#000" stroke-width="1.75" fill="none" stroke-linejoin="miter"/>
<path d="M129.5 642 Q124 651 129.5 661.5" stroke="#000" stroke-width="1.45" fill="none" />
<rect x="133.6" y="648.5" width="4" height="4" fill="#000"/>
</g>
<g transform="translate(0 1323) scale(1 -1)">
<g transform="translate(139 648) rotate(-43)">
<line x1="0" y1="-3.6" x2="96" y2="-3.6" stroke="#000" stroke-width="1.75" stroke-linecap="butt"/>
<line x1="6" y1="3.6" x2="96" y2="3.6" stroke="#000" stroke-width="1.75" stroke-linecap="butt"/>
<line x1="14" y1="-0.8" x2="90" y2="-0.8" stroke="#000" stroke-width="1.25" stroke-linecap="butt"/>
<rect x="15" y="-15.5" width="30" height="10.5" stroke="#000" stroke-width="3.05" fill="none" rx="2.5"/>
<line x1="20" y1="-7.5" x2="42" y2="-7.5" stroke="#000" stroke-width="1.35" stroke-linecap="butt"/>
<rect x="41" y="-3.5" width="18" height="12" stroke="#000" stroke-width="2.45" fill="none"/>
<line x1="47" y1="-3.5" x2="47" y2="8.5" stroke="#000" stroke-width="1.45" stroke-linecap="butt"/>
</g>
<circle cx="194.3" cy="586.9" r="7.2" stroke="#000" stroke-width="1.85" fill="none"/>
<line x1="187.1" y1="586.9" x2="201.5" y2="586.9" stroke="#000" stroke-width="1.35" stroke-linecap="butt"/>
<line x1="194.3" y1="579.7" x2="194.3" y2="594.1" stroke="#000" stroke-width="1.35" stroke-linecap="butt"/>
<circle cx="229.6" cy="574.1" r="8.3" stroke="#000" stroke-width="1.85" fill="none"/>
<line x1="221.3" y1="574.1" x2="237.9" y2="574.1" stroke="#000" stroke-width="1.35" stroke-linecap="butt"/>
<line x1="229.6" y1="565.8" x2="229.6" y2="582.4" stroke="#000" stroke-width="1.35" stroke-linecap="butt"/>
<circle cx="212.5" cy="582.5" r="4.2" stroke="#000" stroke-width="1.85" fill="none"/>
<path d="M129.5 642 L143.4 642 L143.4 661.5" stroke="#000" stroke-width="1.75" fill="none" stroke-linejoin="miter"/>
<path d="M129.5 642 Q124 651 129.5 661.5" stroke="#000" stroke-width="1.45" fill="none" />
<rect x="133.6" y="648.5" width="4" height="4" fill="#000"/>
</g>
<g transform="translate(553 0) scale(-1 1) translate(0 1323) scale(1 -1)">
<g transform="translate(139 648) rotate(-43)">
<line x1="0" y1="-3.6" x2="96" y2="-3.6" stroke="#000" stroke-width="1.75" stroke-linecap="butt"/>
<line x1="6" y1="3.6" x2="96" y2="3.6" stroke="#000" stroke-width="1.75" stroke-linecap="butt"/>
<line x1="14" y1="-0.8" x2="90" y2="-0.8" stroke="#000" stroke-width="1.25" stroke-linecap="butt"/>
<rect x="15" y="-15.5" width="30" height="10.5" stroke="#000" stroke-width="3.05" fill="none" rx="2.5"/>
<line x1="20" y1="-7.5" x2="42" y2="-7.5" stroke="#000" stroke-width="1.35" stroke-linecap="butt"/>
<rect x="41" y="-3.5" width="18" height="12" stroke="#000" stroke-width="2.45" fill="none"/>
<line x1="47" y1="-3.5" x2="47" y2="8.5" stroke="#000" stroke-width="1.45" stroke-linecap="butt"/>
</g>
<circle cx="194.3" cy="586.9" r="7.2" stroke="#000" stroke-width="1.85" fill="none"/>
<line x1="187.1" y1="586.9" x2="201.5" y2="586.9" stroke="#000" stroke-width="1.35" stroke-linecap="butt"/>
<line x1="194.3" y1="579.7" x2="194.3" y2="594.1" stroke="#000" stroke-width="1.35" stroke-linecap="butt"/>
<circle cx="229.6" cy="574.1" r="8.3" stroke="#000" stroke-width="1.85" fill="none"/>
<line x1="221.3" y1="574.1" x2="237.9" y2="574.1" stroke="#000" stroke-width="1.35" stroke-linecap="butt"/>
<line x1="229.6" y1="565.8" x2="229.6" y2="582.4" stroke="#000" stroke-width="1.35" stroke-linecap="butt"/>
<circle cx="212.5" cy="582.5" r="4.2" stroke="#000" stroke-width="1.85" fill="none"/>
<path d="M129.5 642 L143.4 642 L143.4 661.5" stroke="#000" stroke-width="1.75" fill="none" stroke-linejoin="miter"/>
<path d="M129.5 642 Q124 651 129.5 661.5" stroke="#000" stroke-width="1.45" fill="none" />
<rect x="133.6" y="648.5" width="4" height="4" fill="#000"/>
</g>
<text transform="translate(26.10 572.43) scale(0.9042 0.8592)" font-family="Liberation Sans" font-size="20" font-weight="bold" fill="#000">400</text>
<line x1="20" y1="577.5" x2="109.8" y2="577.5" stroke="#000" stroke-width="1.45" stroke-linecap="butt"/>
<path d="M82.5 577.8 L79 579.8 L71.5 579.8 L69.5 578.4 L69.5 576.6 L71.5 575.2 L79 575.2 L82.5 577.2 Z" fill="#000" stroke="#000" stroke-width="0.5"/>
<path d="M105 577.8 L101.5 579.8 L94 579.8 L92 578.4 L92 576.6 L94 575.2 L101.5 575.2 L105 577.2 Z" fill="#000" stroke="#000" stroke-width="0.5"/>
<text transform="translate(113.10 596.62) scale(0.8891 0.8803)" font-family="Liberation Sans" font-size="20" font-weight="bold" fill="#000">R690</text>
<path d="M112.5 600 L160 600 L178 572" stroke="#000" stroke-width="1.45" fill="none" stroke-linejoin="miter"/>
<path d="M178.3 572 L179.6 575.5 L179.6 580 L178.9 582 L177.1 582 L176.4 580 L176.4 575.5 L177.7 572 Z" fill="#000" stroke="#000" stroke-width="0.5"/>
<text transform="translate(223.10 520.12) scale(0.9032 0.9225)" font-family="Liberation Sans" font-size="20" font-weight="bold" fill="#000">R1020</text>
<path d="M278 526 L215 526 L170 592.5" stroke="#000" stroke-width="1.45" fill="none" stroke-linejoin="miter"/>
<path d="M198 553 L191.5 557.7 L194.3 559.6 Z" fill="#000" stroke="#000" stroke-width="1.5"/>
<text transform="translate(279.09 567.50) rotate(-90) scale(0.9132 1.0493)" font-family="Liberation Sans" font-size="20" font-weight="bold" fill="#000">800</text>
<line x1="284" y1="535" x2="284" y2="748" stroke="#000" stroke-width="1.45" stroke-linecap="butt"/>
<path d="M284.3 576 L286.3 579.5 L286.3 587 L284.9 589 L283.1 589 L281.7 587 L281.7 579.5 L283.7 576 Z" fill="#000" stroke="#000" stroke-width="0.5"/>
<path d="M284.3 747.6 L286.3 744.1 L286.3 736.6 L284.9 734.6 L283.1 734.6 L281.7 736.6 L281.7 744.1 L283.7 747.6 Z" fill="#000" stroke="#000" stroke-width="0.5"/>
<line x1="230" y1="576" x2="290" y2="576" stroke="#000" stroke-width="1.45" stroke-linecap="butt"/>
<line x1="230" y1="747.6" x2="290" y2="747.6" stroke="#000" stroke-width="1.45" stroke-linecap="butt"/>
<text transform="translate(30.04 676.20) rotate(-90) scale(0.8809 0.8028)" font-family="Liberation Sans" font-size="20" font-weight="bold" fill="#000">1300</text>
<line x1="35" y1="585.6" x2="35" y2="735" stroke="#000" stroke-width="1.45" stroke-linecap="butt"/>
<path d="M35.3 585.6 L37.3 589.1 L37.3 596.6 L35.9 598.6 L34.1 598.6 L32.7 596.6 L32.7 589.1 L34.7 585.6 Z" fill="#000" stroke="#000" stroke-width="0.5"/>
<path d="M35.3 735 L37.3 731.5 L37.3 724 L35.9 722 L34.1 722 L32.7 724 L32.7 731.5 L34.7 735 Z" fill="#000" stroke="#000" stroke-width="0.5"/>
<line x1="33" y1="735.5" x2="110" y2="735.5" stroke="#000" stroke-width="1.45" stroke-linecap="butt"/>
<text transform="translate(517.32 682.00) rotate(-90) scale(0.8090 0.8803)" font-family="Liberation Sans" font-size="20" font-weight="bold" fill="#000">2235</text>
<line x1="523.6" y1="532" x2="523.6" y2="790.5" stroke="#000" stroke-width="1.45" stroke-linecap="butt"/>
<path d="M523.9 532 L525.9 535.5 L525.9 543 L524.5 545 L522.7 545 L521.3 543 L521.3 535.5 L523.3 532 Z" fill="#000" stroke="#000" stroke-width="0.5"/>
<path d="M523.9 790.5 L525.9 787 L525.9 779.5 L524.5 777.5 L522.7 777.5 L521.3 779.5 L521.3 787 L523.3 790.5 Z" fill="#000" stroke="#000" stroke-width="0.5"/>
<line x1="395" y1="531.5" x2="527" y2="531.5" stroke="#000" stroke-width="1.45" stroke-linecap="butt"/>
<line x1="437" y1="793" x2="527" y2="793" stroke="#000" stroke-width="1.45" stroke-linecap="butt"/>
<text transform="translate(265.20 773.69) scale(0.9132 1.0423)" font-family="Liberation Sans" font-size="20" font-weight="bold" fill="#000">660</text>
<line x1="229" y1="776.5" x2="323" y2="776.5" stroke="#000" stroke-width="1.45" stroke-linecap="butt"/>
<path d="M229 776.8 L232.5 778.8 L240 778.8 L242 777.4 L242 775.6 L240 774.2 L232.5 774.2 L229 776.2 Z" fill="#000" stroke="#000" stroke-width="0.5"/>
<path d="M323 776.8 L319.5 778.8 L312 778.8 L310 777.4 L310 775.6 L312 774.2 L319.5 774.2 L323 776.2 Z" fill="#000" stroke="#000" stroke-width="0.5"/>
<line x1="229" y1="745" x2="229" y2="780" stroke="#000" stroke-width="1.45" stroke-linecap="butt"/>
<line x1="323" y1="745" x2="323" y2="780" stroke="#000" stroke-width="1.45" stroke-linecap="butt"/>
<text transform="translate(257.80 795.01) scale(0.9281 0.9507)" font-family="Liberation Sans" font-size="20" font-weight="bold" fill="#000">2798</text>
<line x1="116" y1="799" x2="437" y2="799" stroke="#000" stroke-width="1.45" stroke-linecap="butt"/>
<path d="M116 799.3 L119.5 801.3 L127 801.3 L129 799.9 L129 798.1 L127 796.7 L119.5 796.7 L116 798.7 Z" fill="#000" stroke="#000" stroke-width="0.5"/>
<path d="M437 799.3 L433.5 801.3 L426 801.3 L424 799.9 L424 798.1 L426 796.7 L433.5 796.7 L437 798.7 Z" fill="#000" stroke="#000" stroke-width="0.5"/>
<text transform="translate(256.50 818.91) scale(0.9191 0.9437)" font-family="Liberation Sans" font-size="20" font-weight="bold" fill="#000">3710</text>
<line x1="65" y1="828.5" x2="487" y2="828.5" stroke="#000" stroke-width="1.45" stroke-linecap="butt"/>
<path d="M65 828.8 L68.5 830.8 L76 830.8 L78 829.4 L78 827.6 L76 826.2 L68.5 826.2 L65 828.2 Z" fill="#000" stroke="#000" stroke-width="0.5"/>
<path d="M487 828.8 L483.5 830.8 L476 830.8 L474 829.4 L474 827.6 L476 826.2 L483.5 826.2 L487 828.2 Z" fill="#000" stroke="#000" stroke-width="0.5"/>
<line x1="487" y1="655.9" x2="487" y2="835" stroke="#000" stroke-width="1.65" stroke-linecap="butt"/>
<text transform="translate(485.00 561.79) scale(0.8559 1.0563)" font-family="Liberation Sans" font-size="20" font-weight="normal" fill="#000">8</text>
<path d="M500 568 L470 568 L403 615.6" stroke="#000" stroke-width="1.45" fill="none" stroke-linejoin="miter"/>
<line x1="872" y1="47.5" x2="872" y2="858" stroke="#000" stroke-width="2.65" stroke-linecap="butt"/>
<line x1="913" y1="108" x2="987" y2="108" stroke="#000" stroke-width="1.65" stroke-linecap="butt"/>
<line x1="918" y1="108" x2="918" y2="454.6" stroke="#000" stroke-width="1.45" stroke-linecap="butt"/>
<path d="M918.3 108 L920.3 111.5 L920.3 119 L918.9 121 L917.1 121 L915.7 119 L915.7 111.5 L917.7 108 Z" fill="#000" stroke="#000" stroke-width="0.5"/>
<path d="M918.3 454.6 L920.3 451.1 L920.3 443.6 L918.9 441.6 L917.1 441.6 L915.7 443.6 L915.7 451.1 L917.7 454.6 Z" fill="#000" stroke="#000" stroke-width="0.5"/>
<text transform="translate(914.82 305.30) rotate(-90) scale(0.8517 0.9155)" font-family="Liberation Sans" font-size="20" font-weight="bold" fill="#000">2880</text>
<line x1="946" y1="126" x2="946" y2="201" stroke="#000" stroke-width="1.65" stroke-linecap="butt"/>
<line x1="1325.5" y1="126" x2="1325.5" y2="201" stroke="#000" stroke-width="1.65" stroke-linecap="butt"/>
<line x1="946" y1="197.5" x2="1325.5" y2="197.5" stroke="#000" stroke-width="1.45" stroke-linecap="butt"/>
<path d="M946 197.8 L949.5 199.8 L957 199.8 L959 198.4 L959 196.6 L957 195.2 L949.5 195.2 L946 197.2 Z" fill="#000" stroke="#000" stroke-width="0.5"/>
<path d="M1325.5 197.8 L1322 199.8 L1314.5 199.8 L1312.5 198.4 L1312.5 196.6 L1314.5 195.2 L1322 195.2 L1325.5 197.2 Z" fill="#000" stroke="#000" stroke-width="0.5"/>
<text transform="translate(1120.10 192.43) scale(0.8584 0.8451)" font-family="Liberation Sans" font-size="20" font-weight="bold" fill="#000">3528</text>
<line x1="1094" y1="211" x2="1094" y2="300" stroke="#000" stroke-width="1.65" stroke-linecap="butt"/>
<path d="M1094.3 243 L1096.3 239.5 L1096.3 232 L1094.9 230 L1093.1 230 L1091.7 232 L1091.7 239.5 L1093.7 243 Z" fill="#000" stroke="#000" stroke-width="0.5"/>
<path d="M1094.3 248.5 L1096.3 252 L1096.3 259.5 L1094.9 261.5 L1093.1 261.5 L1091.7 259.5 L1091.7 252 L1093.7 248.5 Z" fill="#000" stroke="#000" stroke-width="0.5"/>
<line x1="1089.5" y1="243" x2="1160.7" y2="243" stroke="#000" stroke-width="1.65" stroke-linecap="butt"/>
<line x1="1068" y1="248.2" x2="1100" y2="248.2" stroke="#000" stroke-width="1.65" stroke-linecap="butt"/>
<text transform="translate(1090.41 297.00) rotate(-90) scale(0.7928 0.9286)" font-family="Liberation Sans" font-size="20" font-weight="bold" fill="#000">45</text>
<line x1="1157.7" y1="243" x2="1157.7" y2="454.6" stroke="#000" stroke-width="1.65" stroke-linecap="butt"/>
<path d="M1158 243 L1160 246.5 L1160 254 L1158.6 256 L1156.8 256 L1155.4 254 L1155.4 246.5 L1157.4 243 Z" fill="#000" stroke="#000" stroke-width="0.5"/>
<path d="M1158 454.6 L1160 451.1 L1160 443.6 L1158.6 441.6 L1156.8 441.6 L1155.4 443.6 L1155.4 451.1 L1157.4 454.6 Z" fill="#000" stroke="#000" stroke-width="0.5"/>
<text transform="translate(1154.13 347.80) rotate(-90) scale(0.8090 0.8451)" font-family="Liberation Sans" font-size="20" font-weight="bold" fill="#000">1920</text>
<line x1="994" y1="376" x2="1275.4" y2="376" stroke="#000" stroke-width="1.45" stroke-linecap="butt"/>
<path d="M994 376.3 L997.5 378.3 L1005 378.3 L1007 376.9 L1007 375.1 L1005 373.7 L997.5 373.7 L994 375.7 Z" fill="#000" stroke="#000" stroke-width="0.5"/>
<path d="M1275.4 376.3 L1271.9 378.3 L1264.4 378.3 L1262.4 376.9 L1262.4 375.1 L1264.4 373.7 L1271.9 373.7 L1275.4 375.7 Z" fill="#000" stroke="#000" stroke-width="0.5"/>
<text transform="translate(1099.80 371.80) scale(0.8719 0.8571)" font-family="Liberation Sans" font-size="20" font-weight="bold" fill="#000">2712</text>
<line x1="1106" y1="393" x2="1106" y2="486" stroke="#000" stroke-width="1.65" stroke-linecap="butt"/>
<path d="M1106.3 440 L1108.3 436.5 L1108.3 429 L1106.9 427 L1105.1 427 L1103.7 429 L1103.7 436.5 L1105.7 440 Z" fill="#000" stroke="#000" stroke-width="0.5"/>
<path d="M1106.3 461.5 L1108.3 465 L1108.3 472.5 L1106.9 474.5 L1105.1 474.5 L1103.7 472.5 L1103.7 465 L1105.7 461.5 Z" fill="#000" stroke="#000" stroke-width="0.5"/>
<text transform="translate(1105.12 420.80) rotate(-90) scale(0.7725 0.9085)" font-family="Liberation Sans" font-size="20" font-weight="bold" fill="#000">130</text>
<path d="M988 104 L1060 142 L1094 142" stroke="#000" stroke-width="1.65" fill="none" stroke-linejoin="miter"/>
<text transform="translate(1071.00 135.00) scale(1.1278 1.3768)" font-family="Liberation Sans" font-size="20" font-weight="normal" fill="#000">B</text>
<path d="M935.75 363 L947 363 L984.5 381" stroke="#000" stroke-width="1.65" fill="none" stroke-linejoin="miter"/>
<text transform="translate(937.10 358.90) scale(0.5856 1.0072)" font-family="Liberation Sans" font-size="20" font-weight="normal" fill="#000">1</text>
<path d="M1049.5 414.5 L1029.5 414.5 L1009.5 430" stroke="#000" stroke-width="1.65" fill="none" stroke-linejoin="miter"/>
<text transform="translate(1031.40 411.60) scale(1.1716 1.1377)" font-family="Liberation Sans" font-size="20" font-weight="normal" fill="#000">A</text>
<path d="M1345.5 253.75 L1333 253.75 L1288 267.5" stroke="#000" stroke-width="1.65" fill="none" stroke-linejoin="miter"/>
<text transform="translate(1334.00 250.00) scale(0.9459 1.0714)" font-family="Liberation Sans" font-size="20" font-weight="normal" fill="#000">2</text>
<path d="M1342 380 L1323 380 L1213 441" stroke="#000" stroke-width="1.65" fill="none" stroke-linejoin="miter"/>
<text transform="translate(1330.50 378.79) scale(0.9009 1.0563)" font-family="Liberation Sans" font-size="20" font-weight="normal" fill="#000">3</text>
<line x1="972.3" y1="142" x2="972.3" y2="450" stroke="#000" stroke-width="1.65" stroke-linecap="butt"/>
<line x1="975.3" y1="200" x2="975.3" y2="282" stroke="#000" stroke-width="1.65" stroke-linecap="butt"/>
<line x1="984.9" y1="100" x2="984.9" y2="455" stroke="#000" stroke-width="1.35" stroke-dasharray="14 3 2 3" stroke-linecap="butt"/>
<line x1="993.8" y1="160" x2="993.8" y2="450" stroke="#000" stroke-width="2.45" stroke-linecap="butt"/>
<line x1="988" y1="142" x2="988" y2="200" stroke="#000" stroke-width="1.65" stroke-linecap="butt"/>
<rect x="949" y="116" width="53" height="10" stroke="#000" stroke-width="1.45" fill="none" rx="3"/>
<path d="M975 116 Q985 101 995 116" stroke="#000" stroke-width="1.45" fill="none" />
<path d="M945.75 201 L945.75 126 L972 126" stroke="#000" stroke-width="1.65" fill="none" stroke-linejoin="miter"/>
<rect x="950" y="126" width="22" height="30" stroke="#000" stroke-width="1.45" fill="none"/>
<line x1="958" y1="134" x2="958" y2="165" stroke="#000" stroke-width="1.65" stroke-linecap="butt"/>
<line x1="966" y1="126" x2="966" y2="160" stroke="#000" stroke-width="1.65" stroke-linecap="butt"/>
<rect x="966" y="91" width="22" height="65" stroke="#000" stroke-width="1.45" fill="none" rx="11"/>
<rect x="961" y="286" width="15" height="44" stroke="#000" stroke-width="1.45" fill="none"/>
<rect x="964" y="300" width="2.5" height="3" fill="#000"/>
<line x1="973.7" y1="400" x2="961.4" y2="452" stroke="#000" stroke-width="1.85" stroke-linecap="butt"/>
<rect x="994.5" y="239.3" width="11.2" height="23" fill="#000"/>
<rect x="997" y="237" width="4" height="3" fill="#000"/>
<rect x="997" y="261" width="4" height="3" fill="#000"/>
<path d="M1005.7 241.5 L1013 244.5 L1050.2 247.5" stroke="#000" stroke-width="2.05" fill="none" stroke-linejoin="miter"/>
<line x1="1005.7" y1="251.2" x2="1038.3" y2="251.2" stroke="#000" stroke-width="1.45" stroke-linecap="butt"/>
<line x1="1005.7" y1="257.1" x2="1050.2" y2="257.1" stroke="#000" stroke-width="2.25" stroke-linecap="butt"/>
<rect x="1038.3" y="248.2" width="30.4" height="8.9" stroke="#000" stroke-width="2.15" fill="none"/>
<line x1="1068.7" y1="249" x2="1099" y2="249" stroke="#000" stroke-width="1.45" stroke-linecap="butt"/>
<line x1="1068.7" y1="252.7" x2="1085.8" y2="252.7" stroke="#000" stroke-width="1.45" stroke-linecap="butt"/>
<rect x="1078.4" y="253.4" width="7.4" height="7.4" fill="#000"/>
<line x1="1091" y1="243" x2="1160.7" y2="243" stroke="#000" stroke-width="1.85" stroke-linecap="butt"/>
<rect x="1117.3" y="242.5" width="16.3" height="2.5" stroke="#000" stroke-width="1.65" fill="none"/>
<rect x="1123.6" y="244" width="5" height="11" stroke="#000" stroke-width="2.05" fill="none"/>
<rect x="994.5" y="426" width="10.7" height="27.7" fill="#000"/>
<rect x="996.5" y="423.5" width="4" height="3" fill="#000"/>
<line x1="1005.2" y1="438.2" x2="1049.5" y2="438.2" stroke="#000" stroke-width="2.25" stroke-linecap="butt"/>
<line x1="1005.2" y1="442" x2="1039.5" y2="442" stroke="#000" stroke-width="1.45" stroke-linecap="butt"/>
<line x1="1005.2" y1="444.1" x2="1039.5" y2="444.1" stroke="#000" stroke-width="1.45" stroke-linecap="butt"/>
<line x1="1005.2" y1="446.8" x2="1039.5" y2="446.8" stroke="#000" stroke-width="1.65" stroke-linecap="butt"/>
<rect x="1037.2" y="440.4" width="33.1" height="8.5" stroke="#000" stroke-width="2.25" fill="none"/>
<line x1="1067" y1="441.5" x2="1092.5" y2="441.5" stroke="#000" stroke-width="1.75" stroke-linecap="butt"/>
<rect x="1078.9" y="447.3" width="6.4" height="6.4" fill="#000"/>
<circle cx="997" cy="442.5" r="16" stroke="#000" stroke-width="1.45" fill="none"/>
<line x1="1050" y1="440.9" x2="1110" y2="440.9" stroke="#000" stroke-width="1.45" stroke-linecap="butt"/>
<line x1="1275.4" y1="126" x2="1275.4" y2="450" stroke="#000" stroke-width="2.05" stroke-linecap="butt"/>
<line x1="1297" y1="126" x2="1297" y2="450" stroke="#000" stroke-width="1.65" stroke-linecap="butt"/>
<line x1="1290" y1="180" x2="1290" y2="450" stroke="#000" stroke-width="1.65" stroke-linecap="butt"/>
<line x1="1285" y1="100" x2="1285" y2="455" stroke="#000" stroke-width="1.35" stroke-dasharray="14 3 2 3" stroke-linecap="butt"/>
<rect x="1268" y="114" width="54" height="12" stroke="#000" stroke-width="1.45" fill="none" rx="3"/>
<path d="M1274 114 Q1284 99 1294 114" stroke="#000" stroke-width="1.45" fill="none" />
<path d="M1297 126 L1325.5 126 L1325.5 201" stroke="#000" stroke-width="1.65" fill="none" stroke-linejoin="miter"/>
<rect x="1302" y="126" width="16" height="28" stroke="#000" stroke-width="1.45" fill="none"/>
<line x1="1310" y1="126" x2="1310" y2="158" stroke="#000" stroke-width="1.65" stroke-linecap="butt"/>
<line x1="1298.6" y1="400" x2="1309.5" y2="452" stroke="#000" stroke-width="1.85" stroke-linecap="butt"/>
<rect x="1264.7" y="426" width="10.7" height="27.7" fill="#000"/>
<rect x="1269.4" y="423.5" width="4" height="3" fill="#000"/>
<line x1="1264.7" y1="438.2" x2="1220.4" y2="438.2" stroke="#000" stroke-width="2.25" stroke-linecap="butt"/>
<line x1="1264.7" y1="442" x2="1230.4" y2="442" stroke="#000" stroke-width="1.45" stroke-linecap="butt"/>
<line x1="1264.7" y1="444.1" x2="1230.4" y2="444.1" stroke="#000" stroke-width="1.45" stroke-linecap="butt"/>
<line x1="1264.7" y1="446.8" x2="1230.4" y2="446.8" stroke="#000" stroke-width="1.65" stroke-linecap="butt"/>
<rect x="1199.6" y="440.4" width="33.1" height="8.5" stroke="#000" stroke-width="2.25" fill="none"/>
<line x1="1202.9" y1="441.5" x2="1177.4" y2="441.5" stroke="#000" stroke-width="1.75" stroke-linecap="butt"/>
<rect x="1184.6" y="447.3" width="6.4" height="6.4" fill="#000"/>
<clipPath id="fr"><path d="M925.7 454.6 L1343.6 454.6 L1343.6 494 C1320 494 1290 493 1260 491 C1220 488 1200 486 1150 484.6 C1100 484 1060 485.5 1020 491.7 C1000 494 990 496 984.7 496.3 C970 500 960 503.2 945 503 C935 500 928 490 926.5 475 Z"/></clipPath>
<g clip-path="url(#fr)" stroke="#000" stroke-width="1.0"><line x1="748" y1="450" x2="808" y2="510"/><line x1="748" y1="510" x2="808" y2="450"/><line x1="755.6" y1="450" x2="815.6" y2="510"/><line x1="755.6" y1="510" x2="815.6" y2="450"/><line x1="763.2" y1="450" x2="823.2" y2="510"/><line x1="763.2" y1="510" x2="823.2" y2="450"/><line x1="770.8" y1="450" x2="830.8" y2="510"/><line x1="770.8" y1="510" x2="830.8" y2="450"/><line x1="778.4" y1="450" x2="838.4" y2="510"/><line x1="778.4" y1="510" x2="838.4" y2="450"/><line x1="786" y1="450" x2="846" y2="510"/><line x1="786" y1="510" x2="846" y2="450"/><line x1="793.6" y1="450" x2="853.6" y2="510"/><line x1="793.6" y1="510" x2="853.6" y2="450"/><line x1="801.2" y1="450" x2="861.2" y2="510"/><line x1="801.2" y1="510" x2="861.2" y2="450"/><line x1="808.8" y1="450" x2="868.8" y2="510"/><line x1="808.8" y1="510" x2="868.8" y2="450"/><line x1="816.4" y1="450" x2="876.4" y2="510"/><line x1="816.4" y1="510" x2="876.4" y2="450"/><line x1="824" y1="450" x2="884" y2="510"/><line x1="824" y1="510" x2="884" y2="450"/><line x1="831.6" y1="450" x2="891.6" y2="510"/><line x1="831.6" y1="510" x2="891.6" y2="450"/><line x1="839.2" y1="450" x2="899.2" y2="510"/><line x1="839.2" y1="510" x2="899.2" y2="450"/><line x1="846.8" y1="450" x2="906.8" y2="510"/><line x1="846.8" y1="510" x2="906.8" y2="450"/><line x1="854.4" y1="450" x2="914.4" y2="510"/><line x1="854.4" y1="510" x2="914.4" y2="450"/><line x1="862" y1="450" x2="922" y2="510"/><line x1="862" y1="510" x2="922" y2="450"/><line x1="869.6" y1="450" x2="929.6" y2="510"/><line x1="869.6" y1="510" x2="929.6" y2="450"/><line x1="877.2" y1="450" x2="937.2" y2="510"/><line x1="877.2" y1="510" x2="937.2" y2="450"/><line x1="884.8" y1="450" x2="944.8" y2="510"/><line x1="884.8" y1="510" x2="944.8" y2="450"/><line x1="892.4" y1="450" x2="952.4" y2="510"/><line x1="892.4" y1="510" x2="952.4" y2="450"/><line x1="900" y1="450" x2="960" y2="510"/><line x1="900" y1="510" x2="960" y2="450"/><line x1="907.6" y1="450" x2="967.6" y2="510"/><line x1="907.6" y1="510" x2="967.6" y2="450"/><line x1="915.2" y1="450" x2="975.2" y2="510"/><line x1="915.2" y1="510" x2="975.2" y2="450"/><line x1="922.8" y1="450" x2="982.8" y2="510"/><line x1="922.8" y1="510" x2="982.8" y2="450"/><line x1="930.4" y1="450" x2="990.4" y2="510"/><line x1="930.4" y1="510" x2="990.4" y2="450"/><line x1="938" y1="450" x2="998" y2="510"/><line x1="938" y1="510" x2="998" y2="450"/><line x1="945.6" y1="450" x2="1005.6" y2="510"/><line x1="945.6" y1="510" x2="1005.6" y2="450"/><line x1="953.2" y1="450" x2="1013.2" y2="510"/><line x1="953.2" y1="510" x2="1013.2" y2="450"/><line x1="960.8" y1="450" x2="1020.8" y2="510"/><line x1="960.8" y1="510" x2="1020.8" y2="450"/><line x1="968.4" y1="450" x2="1028.4" y2="510"/><line x1="968.4" y1="510" x2="1028.4" y2="450"/><line x1="976" y1="450" x2="1036" y2="510"/><line x1="976" y1="510" x2="1036" y2="450"/><line x1="983.6" y1="450" x2="1043.6" y2="510"/><line x1="983.6" y1="510" x2="1043.6" y2="450"/><line x1="991.2" y1="450" x2="1051.2" y2="510"/><line x1="991.2" y1="510" x2="1051.2" y2="450"/><line x1="998.8" y1="450" x2="1058.8" y2="510"/><line x1="998.8" y1="510" x2="1058.8" y2="450"/><line x1="1006.4" y1="450" x2="1066.4" y2="510"/><line x1="1006.4" y1="510" x2="1066.4" y2="450"/><line x1="1014" y1="450" x2="1074" y2="510"/><line x1="1014" y1="510" x2="1074" y2="450"/><line x1="1021.6" y1="450" x2="1081.6" y2="510"/><line x1="1021.6" y1="510" x2="1081.6" y2="450"/><line x1="1029.2" y1="450" x2="1089.2" y2="510"/><line x1="1029.2" y1="510" x2="1089.2" y2="450"/><line x1="1036.8" y1="450" x2="1096.8" y2="510"/><line x1="1036.8" y1="510" x2="1096.8" y2="450"/><line x1="1044.4" y1="450" x2="1104.4" y2="510"/><line x1="1044.4" y1="510" x2="1104.4" y2="450"/><line x1="1052" y1="450" x2="1112" y2="510"/><line x1="1052" y1="510" x2="1112" y2="450"/><line x1="1059.6" y1="450" x2="1119.6" y2="510"/><line x1="1059.6" y1="510" x2="1119.6" y2="450"/><line x1="1067.2" y1="450" x2="1127.2" y2="510"/><line x1="1067.2" y1="510" x2="1127.2" y2="450"/><line x1="1074.8" y1="450" x2="1134.8" y2="510"/><line x1="1074.8" y1="510" x2="1134.8" y2="450"/><line x1="1082.4" y1="450" x2="1142.4" y2="510"/><line x1="1082.4" y1="510" x2="1142.4" y2="450"/><line x1="1090" y1="450" x2="1150" y2="510"/><line x1="1090" y1="510" x2="1150" y2="450"/><line x1="1097.6" y1="450" x2="1157.6" y2="510"/><line x1="1097.6" y1="510" x2="1157.6" y2="450"/><line x1="1105.2" y1="450" x2="1165.2" y2="510"/><line x1="1105.2" y1="510" x2="1165.2" y2="450"/><line x1="1112.8" y1="450" x2="1172.8" y2="510"/><line x1="1112.8" y1="510" x2="1172.8" y2="450"/><line x1="1120.4" y1="450" x2="1180.4" y2="510"/><line x1="1120.4" y1="510" x2="1180.4" y2="450"/><line x1="1128" y1="450" x2="1188" y2="510"/><line x1="1128" y1="510" x2="1188" y2="450"/><line x1="1135.6" y1="450" x2="1195.6" y2="510"/><line x1="1135.6" y1="510" x2="1195.6" y2="450"/><line x1="1143.2" y1="450" x2="1203.2" y2="510"/><line x1="1143.2" y1="510" x2="1203.2" y2="450"/><line x1="1150.8" y1="450" x2="1210.8" y2="510"/><line x1="1150.8" y1="510" x2="1210.8" y2="450"/><line x1="1158.4" y1="450" x2="1218.4" y2="510"/><line x1="1158.4" y1="510" x2="1218.4" y2="450"/><line x1="1166" y1="450" x2="1226" y2="510"/><line x1="1166" y1="510" x2="1226" y2="450"/><line x1="1173.6" y1="450" x2="1233.6" y2="510"/><line x1="1173.6" y1="510" x2="1233.6" y2="450"/><line x1="1181.2" y1="450" x2="1241.2" y2="510"/><line x1="1181.2" y1="510" x2="1241.2" y2="450"/><line x1="1188.8" y1="450" x2="1248.8" y2="510"/><line x1="1188.8" y1="510" x2="1248.8" y2="450"/><line x1="1196.4" y1="450" x2="1256.4" y2="510"/><line x1="1196.4" y1="510" x2="1256.4" y2="450"/><line x1="1204" y1="450" x2="1264" y2="510"/><line x1="1204" y1="510" x2="1264" y2="450"/><line x1="1211.6" y1="450" x2="1271.6" y2="510"/><line x1="1211.6" y1="510" x2="1271.6" y2="450"/><line x1="1219.2" y1="450" x2="1279.2" y2="510"/><line x1="1219.2" y1="510" x2="1279.2" y2="450"/><line x1="1226.8" y1="450" x2="1286.8" y2="510"/><line x1="1226.8" y1="510" x2="1286.8" y2="450"/><line x1="1234.4" y1="450" x2="1294.4" y2="510"/><line x1="1234.4" y1="510" x2="1294.4" y2="450"/><line x1="1242" y1="450" x2="1302" y2="510"/><line x1="1242" y1="510" x2="1302" y2="450"/><line x1="1249.6" y1="450" x2="1309.6" y2="510"/><line x1="1249.6" y1="510" x2="1309.6" y2="450"/><line x1="1257.2" y1="450" x2="1317.2" y2="510"/><line x1="1257.2" y1="510" x2="1317.2" y2="450"/><line x1="1264.8" y1="450" x2="1324.8" y2="510"/><line x1="1264.8" y1="510" x2="1324.8" y2="450"/><line x1="1272.4" y1="450" x2="1332.4" y2="510"/><line x1="1272.4" y1="510" x2="1332.4" y2="450"/><line x1="1280" y1="450" x2="1340" y2="510"/><line x1="1280" y1="510" x2="1340" y2="450"/><line x1="1287.6" y1="450" x2="1347.6" y2="510"/><line x1="1287.6" y1="510" x2="1347.6" y2="450"/><line x1="1295.2" y1="450" x2="1355.2" y2="510"/><line x1="1295.2" y1="510" x2="1355.2" y2="450"/><line x1="1302.8" y1="450" x2="1362.8" y2="510"/><line x1="1302.8" y1="510" x2="1362.8" y2="450"/><line x1="1310.4" y1="450" x2="1370.4" y2="510"/><line x1="1310.4" y1="510" x2="1370.4" y2="450"/><line x1="1318" y1="450" x2="1378" y2="510"/><line x1="1318" y1="510" x2="1378" y2="450"/><line x1="1325.6" y1="450" x2="1385.6" y2="510"/><line x1="1325.6" y1="510" x2="1385.6" y2="450"/><line x1="1333.2" y1="450" x2="1393.2" y2="510"/><line x1="1333.2" y1="510" x2="1393.2" y2="450"/><line x1="1340.8" y1="450" x2="1400.8" y2="510"/><line x1="1340.8" y1="510" x2="1400.8" y2="450"/><line x1="1348.4" y1="450" x2="1408.4" y2="510"/><line x1="1348.4" y1="510" x2="1408.4" y2="450"/><line x1="1356" y1="450" x2="1416" y2="510"/><line x1="1356" y1="510" x2="1416" y2="450"/><line x1="1363.6" y1="450" x2="1423.6" y2="510"/><line x1="1363.6" y1="510" x2="1423.6" y2="450"/><line x1="1371.2" y1="450" x2="1431.2" y2="510"/><line x1="1371.2" y1="510" x2="1431.2" y2="450"/><line x1="1378.8" y1="450" x2="1438.8" y2="510"/><line x1="1378.8" y1="510" x2="1438.8" y2="450"/><line x1="1386.4" y1="450" x2="1446.4" y2="510"/><line x1="1386.4" y1="510" x2="1446.4" y2="450"/><line x1="1394" y1="450" x2="1454" y2="510"/><line x1="1394" y1="510" x2="1454" y2="450"/><line x1="1401.6" y1="450" x2="1461.6" y2="510"/><line x1="1401.6" y1="510" x2="1461.6" y2="450"/><line x1="1409.2" y1="450" x2="1469.2" y2="510"/><line x1="1409.2" y1="510" x2="1469.2" y2="450"/><line x1="1416.8" y1="450" x2="1476.8" y2="510"/><line x1="1416.8" y1="510" x2="1476.8" y2="450"/><line x1="1424.4" y1="450" x2="1484.4" y2="510"/><line x1="1424.4" y1="510" x2="1484.4" y2="450"/><line x1="1432" y1="450" x2="1492" y2="510"/><line x1="1432" y1="510" x2="1492" y2="450"/><line x1="1439.6" y1="450" x2="1499.6" y2="510"/><line x1="1439.6" y1="510" x2="1499.6" y2="450"/><line x1="1447.2" y1="450" x2="1507.2" y2="510"/><line x1="1447.2" y1="510" x2="1507.2" y2="450"/><line x1="1454.8" y1="450" x2="1514.8" y2="510"/><line x1="1454.8" y1="510" x2="1514.8" y2="450"/><line x1="1462.4" y1="450" x2="1522.4" y2="510"/><line x1="1462.4" y1="510" x2="1522.4" y2="450"/><line x1="1470" y1="450" x2="1530" y2="510"/><line x1="1470" y1="510" x2="1530" y2="450"/><line x1="1477.6" y1="450" x2="1537.6" y2="510"/><line x1="1477.6" y1="510" x2="1537.6" y2="450"/><line x1="1485.2" y1="450" x2="1545.2" y2="510"/><line x1="1485.2" y1="510" x2="1545.2" y2="450"/><line x1="1492.8" y1="450" x2="1552.8" y2="510"/><line x1="1492.8" y1="510" x2="1552.8" y2="450"/><line x1="1500.4" y1="450" x2="1560.4" y2="510"/><line x1="1500.4" y1="510" x2="1560.4" y2="450"/></g><g clip-path="url(#fr)" fill="#000"><rect x="890.95" y="448.55" width="2.1" height="2.1"/><rect x="898.55" y="448.55" width="2.1" height="2.1"/><rect x="906.15" y="448.55" width="2.1" height="2.1"/><rect x="913.75" y="448.55" width="2.1" height="2.1"/><rect x="921.35" y="448.55" width="2.1" height="2.1"/><rect x="928.95" y="448.55" width="2.1" height="2.1"/><rect x="936.55" y="448.55" width="2.1" height="2.1"/><rect x="944.15" y="448.55" width="2.1" height="2.1"/><rect x="951.75" y="448.55" width="2.1" height="2.1"/><rect x="959.35" y="448.55" width="2.1" height="2.1"/><rect x="966.95" y="448.55" width="2.1" height="2.1"/><rect x="974.55" y="448.55" width="2.1" height="2.1"/><rect x="982.15" y="448.55" width="2.1" height="2.1"/><rect x="989.75" y="448.55" width="2.1" height="2.1"/><rect x="997.35" y="448.55" width="2.1" height="2.1"/><rect x="1004.95" y="448.55" width="2.1" height="2.1"/><rect x="1012.55" y="448.55" width="2.1" height="2.1"/><rect x="1020.15" y="448.55" width="2.1" height="2.1"/><rect x="1027.75" y="448.55" width="2.1" height="2.1"/><rect x="1035.35" y="448.55" width="2.1" height="2.1"/><rect x="1042.95" y="448.55" width="2.1" height="2.1"/><rect x="1050.55" y="448.55" width="2.1" height="2.1"/><rect x="1058.15" y="448.55" width="2.1" height="2.1"/><rect x="1065.75" y="448.55" width="2.1" height="2.1"/><rect x="1073.35" y="448.55" width="2.1" height="2.1"/><rect x="1080.95" y="448.55" width="2.1" height="2.1"/><rect x="1088.55" y="448.55" width="2.1" height="2.1"/><rect x="1096.15" y="448.55" width="2.1" height="2.1"/><rect x="1103.75" y="448.55" width="2.1" height="2.1"/><rect x="1111.35" y="448.55" width="2.1" height="2.1"/><rect x="1118.95" y="448.55" width="2.1" height="2.1"/><rect x="1126.55" y="448.55" width="2.1" height="2.1"/><rect x="1134.15" y="448.55" width="2.1" height="2.1"/><rect x="1141.75" y="448.55" width="2.1" height="2.1"/><rect x="1149.35" y="448.55" width="2.1" height="2.1"/><rect x="1156.95" y="448.55" width="2.1" height="2.1"/><rect x="1164.55" y="448.55" width="2.1" height="2.1"/><rect x="1172.15" y="448.55" width="2.1" height="2.1"/><rect x="1179.75" y="448.55" width="2.1" height="2.1"/><rect x="1187.35" y="448.55" width="2.1" height="2.1"/><rect x="1194.95" y="448.55" width="2.1" height="2.1"/><rect x="1202.55" y="448.55" width="2.1" height="2.1"/><rect x="1210.15" y="448.55" width="2.1" height="2.1"/><rect x="1217.75" y="448.55" width="2.1" height="2.1"/><rect x="1225.35" y="448.55" width="2.1" height="2.1"/><rect x="1232.95" y="448.55" width="2.1" height="2.1"/><rect x="1240.55" y="448.55" width="2.1" height="2.1"/><rect x="1248.15" y="448.55" width="2.1" height="2.1"/><rect x="1255.75" y="448.55" width="2.1" height="2.1"/><rect x="1263.35" y="448.55" width="2.1" height="2.1"/><rect x="1270.95" y="448.55" width="2.1" height="2.1"/><rect x="1278.55" y="448.55" width="2.1" height="2.1"/><rect x="1286.15" y="448.55" width="2.1" height="2.1"/><rect x="1293.75" y="448.55" width="2.1" height="2.1"/><rect x="1301.35" y="448.55" width="2.1" height="2.1"/><rect x="1308.95" y="448.55" width="2.1" height="2.1"/><rect x="1316.55" y="448.55" width="2.1" height="2.1"/><rect x="1324.15" y="448.55" width="2.1" height="2.1"/><rect x="1331.75" y="448.55" width="2.1" height="2.1"/><rect x="1339.35" y="448.55" width="2.1" height="2.1"/><rect x="1346.95" y="448.55" width="2.1" height="2.1"/><rect x="1354.55" y="448.55" width="2.1" height="2.1"/><rect x="1362.15" y="448.55" width="2.1" height="2.1"/><rect x="1369.75" y="448.55" width="2.1" height="2.1"/><rect x="1377.35" y="448.55" width="2.1" height="2.1"/><rect x="1384.95" y="448.55" width="2.1" height="2.1"/><rect x="1392.55" y="448.55" width="2.1" height="2.1"/><rect x="1400.15" y="448.55" width="2.1" height="2.1"/><rect x="1407.75" y="448.55" width="2.1" height="2.1"/><rect x="1415.35" y="448.55" width="2.1" height="2.1"/><rect x="1422.95" y="448.55" width="2.1" height="2.1"/><rect x="1430.55" y="448.55" width="2.1" height="2.1"/><rect x="1438.15" y="448.55" width="2.1" height="2.1"/><rect x="1445.75" y="448.55" width="2.1" height="2.1"/><rect x="1453.35" y="448.55" width="2.1" height="2.1"/><rect x="1460.95" y="448.55" width="2.1" height="2.1"/><rect x="1468.55" y="448.55" width="2.1" height="2.1"/><rect x="1476.15" y="448.55" width="2.1" height="2.1"/><rect x="1483.75" y="448.55" width="2.1" height="2.1"/><rect x="1491.35" y="448.55" width="2.1" height="2.1"/><rect x="1498.95" y="448.55" width="2.1" height="2.1"/><rect x="1506.55" y="448.55" width="2.1" height="2.1"/><rect x="1514.15" y="448.55" width="2.1" height="2.1"/><rect x="1521.75" y="448.55" width="2.1" height="2.1"/><rect x="1529.35" y="448.55" width="2.1" height="2.1"/><rect x="1536.95" y="448.55" width="2.1" height="2.1"/><rect x="1544.55" y="448.55" width="2.1" height="2.1"/><rect x="1552.15" y="448.55" width="2.1" height="2.1"/><rect x="1559.75" y="448.55" width="2.1" height="2.1"/><rect x="1567.35" y="448.55" width="2.1" height="2.1"/><rect x="1574.95" y="448.55" width="2.1" height="2.1"/><rect x="1582.55" y="448.55" width="2.1" height="2.1"/><rect x="1590.15" y="448.55" width="2.1" height="2.1"/><rect x="1597.75" y="448.55" width="2.1" height="2.1"/><rect x="1605.35" y="448.55" width="2.1" height="2.1"/><rect x="1612.95" y="448.55" width="2.1" height="2.1"/><rect x="1620.55" y="448.55" width="2.1" height="2.1"/><rect x="1628.15" y="448.55" width="2.1" height="2.1"/><rect x="1635.75" y="448.55" width="2.1" height="2.1"/><rect x="1643.35" y="448.55" width="2.1" height="2.1"/><rect x="1650.95" y="448.55" width="2.1" height="2.1"/><rect x="1658.55" y="448.55" width="2.1" height="2.1"/><rect x="1666.15" y="448.55" width="2.1" height="2.1"/><rect x="1673.75" y="448.55" width="2.1" height="2.1"/><rect x="1681.35" y="448.55" width="2.1" height="2.1"/><rect x="1688.95" y="448.55" width="2.1" height="2.1"/><rect x="1696.55" y="448.55" width="2.1" height="2.1"/><rect x="1704.15" y="448.55" width="2.1" height="2.1"/><rect x="1711.75" y="448.55" width="2.1" height="2.1"/><rect x="1719.35" y="448.55" width="2.1" height="2.1"/><rect x="1726.95" y="448.55" width="2.1" height="2.1"/><rect x="1734.55" y="448.55" width="2.1" height="2.1"/><rect x="1742.15" y="448.55" width="2.1" height="2.1"/><rect x="1749.75" y="448.55" width="2.1" height="2.1"/><rect x="1757.35" y="448.55" width="2.1" height="2.1"/><rect x="1764.95" y="448.55" width="2.1" height="2.1"/><rect x="1772.55" y="448.55" width="2.1" height="2.1"/><rect x="1780.15" y="448.55" width="2.1" height="2.1"/><rect x="1787.75" y="448.55" width="2.1" height="2.1"/><rect x="1795.35" y="448.55" width="2.1" height="2.1"/><rect x="894.75" y="452.35" width="2.1" height="2.1"/><rect x="902.35" y="452.35" width="2.1" height="2.1"/><rect x="909.95" y="452.35" width="2.1" height="2.1"/><rect x="917.55" y="452.35" width="2.1" height="2.1"/><rect x="925.15" y="452.35" width="2.1" height="2.1"/><rect x="932.75" y="452.35" width="2.1" height="2.1"/><rect x="940.35" y="452.35" width="2.1" height="2.1"/><rect x="947.95" y="452.35" width="2.1" height="2.1"/><rect x="955.55" y="452.35" width="2.1" height="2.1"/><rect x="963.15" y="452.35" width="2.1" height="2.1"/><rect x="970.75" y="452.35" width="2.1" height="2.1"/><rect x="978.35" y="452.35" width="2.1" height="2.1"/><rect x="985.95" y="452.35" width="2.1" height="2.1"/><rect x="993.55" y="452.35" width="2.1" height="2.1"/><rect x="1001.15" y="452.35" width="2.1" height="2.1"/><rect x="1008.75" y="452.35" width="2.1" height="2.1"/><rect x="1016.35" y="452.35" width="2.1" height="2.1"/><rect x="1023.95" y="452.35" width="2.1" height="2.1"/><rect x="1031.55" y="452.35" width="2.1" height="2.1"/><rect x="1039.15" y="452.35" width="2.1" height="2.1"/><rect x="1046.75" y="452.35" width="2.1" height="2.1"/><rect x="1054.35" y="452.35" width="2.1" height="2.1"/><rect x="1061.95" y="452.35" width="2.1" height="2.1"/><rect x="1069.55" y="452.35" width="2.1" height="2.1"/><rect x="1077.15" y="452.35" width="2.1" height="2.1"/><rect x="1084.75" y="452.35" width="2.1" height="2.1"/><rect x="1092.35" y="452.35" width="2.1" height="2.1"/><rect x="1099.95" y="452.35" width="2.1" height="2.1"/><rect x="1107.55" y="452.35" width="2.1" height="2.1"/><rect x="1115.15" y="452.35" width="2.1" height="2.1"/><rect x="1122.75" y="452.35" width="2.1" height="2.1"/><rect x="1130.35" y="452.35" width="2.1" height="2.1"/><rect x="1137.95" y="452.35" width="2.1" height="2.1"/><rect x="1145.55" y="452.35" width="2.1" height="2.1"/><rect x="1153.15" y="452.35" width="2.1" height="2.1"/><rect x="1160.75" y="452.35" width="2.1" height="2.1"/><rect x="1168.35" y="452.35" width="2.1" height="2.1"/><rect x="1175.95" y="452.35" width="2.1" height="2.1"/><rect x="1183.55" y="452.35" width="2.1" height="2.1"/><rect x="1191.15" y="452.35" width="2.1" height="2.1"/><rect x="1198.75" y="452.35" width="2.1" height="2.1"/><rect x="1206.35" y="452.35" width="2.1" height="2.1"/><rect x="1213.95" y="452.35" width="2.1" height="2.1"/><rect x="1221.55" y="452.35" width="2.1" height="2.1"/><rect x="1229.15" y="452.35" width="2.1" height="2.1"/><rect x="1236.75" y="452.35" width="2.1" height="2.1"/><rect x="1244.35" y="452.35" width="2.1" height="2.1"/><rect x="1251.95" y="452.35" width="2.1" height="2.1"/><rect x="1259.55" y="452.35" width="2.1" height="2.1"/><rect x="1267.15" y="452.35" width="2.1" height="2.1"/><rect x="1274.75" y="452.35" width="2.1" height="2.1"/><rect x="1282.35" y="452.35" width="2.1" height="2.1"/><rect x="1289.95" y="452.35" width="2.1" height="2.1"/><rect x="1297.55" y="452.35" width="2.1" height="2.1"/><rect x="1305.15" y="452.35" width="2.1" height="2.1"/><rect x="1312.75" y="452.35" width="2.1" height="2.1"/><rect x="1320.35" y="452.35" width="2.1" height="2.1"/><rect x="1327.95" y="452.35" width="2.1" height="2.1"/><rect x="1335.55" y="452.35" width="2.1" height="2.1"/><rect x="1343.15" y="452.35" width="2.1" height="2.1"/><rect x="1350.75" y="452.35" width="2.1" height="2.1"/><rect x="1358.35" y="452.35" width="2.1" height="2.1"/><rect x="1365.95" y="452.35" width="2.1" height="2.1"/><rect x="1373.55" y="452.35" width="2.1" height="2.1"/><rect x="1381.15" y="452.35" width="2.1" height="2.1"/><rect x="1388.75" y="452.35" width="2.1" height="2.1"/><rect x="1396.35" y="452.35" width="2.1" height="2.1"/><rect x="1403.95" y="452.35" width="2.1" height="2.1"/><rect x="1411.55" y="452.35" width="2.1" height="2.1"/><rect x="1419.15" y="452.35" width="2.1" height="2.1"/><rect x="1426.75" y="452.35" width="2.1" height="2.1"/><rect x="1434.35" y="452.35" width="2.1" height="2.1"/><rect x="1441.95" y="452.35" width="2.1" height="2.1"/><rect x="1449.55" y="452.35" width="2.1" height="2.1"/><rect x="1457.15" y="452.35" width="2.1" height="2.1"/><rect x="1464.75" y="452.35" width="2.1" height="2.1"/><rect x="1472.35" y="452.35" width="2.1" height="2.1"/><rect x="1479.95" y="452.35" width="2.1" height="2.1"/><rect x="1487.55" y="452.35" width="2.1" height="2.1"/><rect x="1495.15" y="452.35" width="2.1" height="2.1"/><rect x="1502.75" y="452.35" width="2.1" height="2.1"/><rect x="1510.35" y="452.35" width="2.1" height="2.1"/><rect x="1517.95" y="452.35" width="2.1" height="2.1"/><rect x="1525.55" y="452.35" width="2.1" height="2.1"/><rect x="1533.15" y="452.35" width="2.1" height="2.1"/><rect x="1540.75" y="452.35" width="2.1" height="2.1"/><rect x="1548.35" y="452.35" width="2.1" height="2.1"/><rect x="1555.95" y="452.35" width="2.1" height="2.1"/><rect x="1563.55" y="452.35" width="2.1" height="2.1"/><rect x="1571.15" y="452.35" width="2.1" height="2.1"/><rect x="1578.75" y="452.35" width="2.1" height="2.1"/><rect x="1586.35" y="452.35" width="2.1" height="2.1"/><rect x="1593.95" y="452.35" width="2.1" height="2.1"/><rect x="1601.55" y="452.35" width="2.1" height="2.1"/><rect x="1609.15" y="452.35" width="2.1" height="2.1"/><rect x="1616.75" y="452.35" width="2.1" height="2.1"/><rect x="1624.35" y="452.35" width="2.1" height="2.1"/><rect x="1631.95" y="452.35" width="2.1" height="2.1"/><rect x="1639.55" y="452.35" width="2.1" height="2.1"/><rect x="1647.15" y="452.35" width="2.1" height="2.1"/><rect x="1654.75" y="452.35" width="2.1" height="2.1"/><rect x="1662.35" y="452.35" width="2.1" height="2.1"/><rect x="1669.95" y="452.35" width="2.1" height="2.1"/><rect x="1677.55" y="452.35" width="2.1" height="2.1"/><rect x="1685.15" y="452.35" width="2.1" height="2.1"/><rect x="1692.75" y="452.35" width="2.1" height="2.1"/><rect x="1700.35" y="452.35" width="2.1" height="2.1"/><rect x="1707.95" y="452.35" width="2.1" height="2.1"/><rect x="1715.55" y="452.35" width="2.1" height="2.1"/><rect x="1723.15" y="452.35" width="2.1" height="2.1"/><rect x="1730.75" y="452.35" width="2.1" height="2.1"/><rect x="1738.35" y="452.35" width="2.1" height="2.1"/><rect x="1745.95" y="452.35" width="2.1" height="2.1"/><rect x="1753.55" y="452.35" width="2.1" height="2.1"/><rect x="1761.15" y="452.35" width="2.1" height="2.1"/><rect x="1768.75" y="452.35" width="2.1" height="2.1"/><rect x="1776.35" y="452.35" width="2.1" height="2.1"/><rect x="1783.95" y="452.35" width="2.1" height="2.1"/><rect x="1791.55" y="452.35" width="2.1" height="2.1"/><rect x="1799.15" y="452.35" width="2.1" height="2.1"/><rect x="890.95" y="456.15" width="2.1" height="2.1"/><rect x="898.55" y="456.15" width="2.1" height="2.1"/><rect x="906.15" y="456.15" width="2.1" height="2.1"/><rect x="913.75" y="456.15" width="2.1" height="2.1"/><rect x="921.35" y="456.15" width="2.1" height="2.1"/><rect x="928.95" y="456.15" width="2.1" height="2.1"/><rect x="936.55" y="456.15" width="2.1" height="2.1"/><rect x="944.15" y="456.15" width="2.1" height="2.1"/><rect x="951.75" y="456.15" width="2.1" height="2.1"/><rect x="959.35" y="456.15" width="2.1" height="2.1"/><rect x="966.95" y="456.15" width="2.1" height="2.1"/><rect x="974.55" y="456.15" width="2.1" height="2.1"/><rect x="982.15" y="456.15" width="2.1" height="2.1"/><rect x="989.75" y="456.15" width="2.1" height="2.1"/><rect x="997.35" y="456.15" width="2.1" height="2.1"/><rect x="1004.95" y="456.15" width="2.1" height="2.1"/><rect x="1012.55" y="456.15" width="2.1" height="2.1"/><rect x="1020.15" y="456.15" width="2.1" height="2.1"/><rect x="1027.75" y="456.15" width="2.1" height="2.1"/><rect x="1035.35" y="456.15" width="2.1" height="2.1"/><rect x="1042.95" y="456.15" width="2.1" height="2.1"/><rect x="1050.55" y="456.15" width="2.1" height="2.1"/><rect x="1058.15" y="456.15" width="2.1" height="2.1"/><rect x="1065.75" y="456.15" width="2.1" height="2.1"/><rect x="1073.35" y="456.15" width="2.1" height="2.1"/><rect x="1080.95" y="456.15" width="2.1" height="2.1"/><rect x="1088.55" y="456.15" width="2.1" height="2.1"/><rect x="1096.15" y="456.15" width="2.1" height="2.1"/><rect x="1103.75" y="456.15" width="2.1" height="2.1"/><rect x="1111.35" y="456.15" width="2.1" height="2.1"/><rect x="1118.95" y="456.15" width="2.1" height="2.1"/><rect x="1126.55" y="456.15" width="2.1" height="2.1"/><rect x="1134.15" y="456.15" width="2.1" height="2.1"/><rect x="1141.75" y="456.15" width="2.1" height="2.1"/><rect x="1149.35" y="456.15" width="2.1" height="2.1"/><rect x="1156.95" y="456.15" width="2.1" height="2.1"/><rect x="1164.55" y="456.15" width="2.1" height="2.1"/><rect x="1172.15" y="456.15" width="2.1" height="2.1"/><rect x="1179.75" y="456.15" width="2.1" height="2.1"/><rect x="1187.35" y="456.15" width="2.1" height="2.1"/><rect x="1194.95" y="456.15" width="2.1" height="2.1"/><rect x="1202.55" y="456.15" width="2.1" height="2.1"/><rect x="1210.15" y="456.15" width="2.1" height="2.1"/><rect x="1217.75" y="456.15" width="2.1" height="2.1"/><rect x="1225.35" y="456.15" width="2.1" height="2.1"/><rect x="1232.95" y="456.15" width="2.1" height="2.1"/><rect x="1240.55" y="456.15" width="2.1" height="2.1"/><rect x="1248.15" y="456.15" width="2.1" height="2.1"/><rect x="1255.75" y="456.15" width="2.1" height="2.1"/><rect x="1263.35" y="456.15" width="2.1" height="2.1"/><rect x="1270.95" y="456.15" width="2.1" height="2.1"/><rect x="1278.55" y="456.15" width="2.1" height="2.1"/><rect x="1286.15" y="456.15" width="2.1" height="2.1"/><rect x="1293.75" y="456.15" width="2.1" height="2.1"/><rect x="1301.35" y="456.15" width="2.1" height="2.1"/><rect x="1308.95" y="456.15" width="2.1" height="2.1"/><rect x="1316.55" y="456.15" width="2.1" height="2.1"/><rect x="1324.15" y="456.15" width="2.1" height="2.1"/><rect x="1331.75" y="456.15" width="2.1" height="2.1"/><rect x="1339.35" y="456.15" width="2.1" height="2.1"/><rect x="1346.95" y="456.15" width="2.1" height="2.1"/><rect x="1354.55" y="456.15" width="2.1" height="2.1"/><rect x="1362.15" y="456.15" width="2.1" height="2.1"/><rect x="1369.75" y="456.15" width="2.1" height="2.1"/><rect x="1377.35" y="456.15" width="2.1" height="2.1"/><rect x="1384.95" y="456.15" width="2.1" height="2.1"/><rect x="1392.55" y="456.15" width="2.1" height="2.1"/><rect x="1400.15" y="456.15" width="2.1" height="2.1"/><rect x="1407.75" y="456.15" width="2.1" height="2.1"/><rect x="1415.35" y="456.15" width="2.1" height="2.1"/><rect x="1422.95" y="456.15" width="2.1" height="2.1"/><rect x="1430.55" y="456.15" width="2.1" height="2.1"/><rect x="1438.15" y="456.15" width="2.1" height="2.1"/><rect x="1445.75" y="456.15" width="2.1" height="2.1"/><rect x="1453.35" y="456.15" width="2.1" height="2.1"/><rect x="1460.95" y="456.15" width="2.1" height="2.1"/><rect x="1468.55" y="456.15" width="2.1" height="2.1"/><rect x="1476.15" y="456.15" width="2.1" height="2.1"/><rect x="1483.75" y="456.15" width="2.1" height="2.1"/><rect x="1491.35" y="456.15" width="2.1" height="2.1"/><rect x="1498.95" y="456.15" width="2.1" height="2.1"/><rect x="1506.55" y="456.15" width="2.1" height="2.1"/><rect x="1514.15" y="456.15" width="2.1" height="2.1"/><rect x="1521.75" y="456.15" width="2.1" height="2.1"/><rect x="1529.35" y="456.15" width="2.1" height="2.1"/><rect x="1536.95" y="456.15" width="2.1" height="2.1"/><rect x="1544.55" y="456.15" width="2.1" height="2.1"/><rect x="1552.15" y="456.15" width="2.1" height="2.1"/><rect x="1559.75" y="456.15" width="2.1" height="2.1"/><rect x="1567.35" y="456.15" width="2.1" height="2.1"/><rect x="1574.95" y="456.15" width="2.1" height="2.1"/><rect x="1582.55" y="456.15" width="2.1" height="2.1"/><rect x="1590.15" y="456.15" width="2.1" height="2.1"/><rect x="1597.75" y="456.15" width="2.1" height="2.1"/><rect x="1605.35" y="456.15" width="2.1" height="2.1"/><rect x="1612.95" y="456.15" width="2.1" height="2.1"/><rect x="1620.55" y="456.15" width="2.1" height="2.1"/><rect x="1628.15" y="456.15" width="2.1" height="2.1"/><rect x="1635.75" y="456.15" width="2.1" height="2.1"/><rect x="1643.35" y="456.15" width="2.1" height="2.1"/><rect x="1650.95" y="456.15" width="2.1" height="2.1"/><rect x="1658.55" y="456.15" width="2.1" height="2.1"/><rect x="1666.15" y="456.15" width="2.1" height="2.1"/><rect x="1673.75" y="456.15" width="2.1" height="2.1"/><rect x="1681.35" y="456.15" width="2.1" height="2.1"/><rect x="1688.95" y="456.15" width="2.1" height="2.1"/><rect x="1696.55" y="456.15" width="2.1" height="2.1"/><rect x="1704.15" y="456.15" width="2.1" height="2.1"/><rect x="1711.75" y="456.15" width="2.1" height="2.1"/><rect x="1719.35" y="456.15" width="2.1" height="2.1"/><rect x="1726.95" y="456.15" width="2.1" height="2.1"/><rect x="1734.55" y="456.15" width="2.1" height="2.1"/><rect x="1742.15" y="456.15" width="2.1" height="2.1"/><rect x="1749.75" y="456.15" width="2.1" height="2.1"/><rect x="1757.35" y="456.15" width="2.1" height="2.1"/><rect x="1764.95" y="456.15" width="2.1" height="2.1"/><rect x="1772.55" y="456.15" width="2.1" height="2.1"/><rect x="1780.15" y="456.15" width="2.1" height="2.1"/><rect x="1787.75" y="456.15" width="2.1" height="2.1"/><rect x="1795.35" y="456.15" width="2.1" height="2.1"/><rect x="894.75" y="459.95" width="2.1" height="2.1"/><rect x="902.35" y="459.95" width="2.1" height="2.1"/><rect x="909.95" y="459.95" width="2.1" height="2.1"/><rect x="917.55" y="459.95" width="2.1" height="2.1"/><rect x="925.15" y="459.95" width="2.1" height="2.1"/><rect x="932.75" y="459.95" width="2.1" height="2.1"/><rect x="940.35" y="459.95" width="2.1" height="2.1"/><rect x="947.95" y="459.95" width="2.1" height="2.1"/><rect x="955.55" y="459.95" width="2.1" height="2.1"/><rect x="963.15" y="459.95" width="2.1" height="2.1"/><rect x="970.75" y="459.95" width="2.1" height="2.1"/><rect x="978.35" y="459.95" width="2.1" height="2.1"/><rect x="985.95" y="459.95" width="2.1" height="2.1"/><rect x="993.55" y="459.95" width="2.1" height="2.1"/><rect x="1001.15" y="459.95" width="2.1" height="2.1"/><rect x="1008.75" y="459.95" width="2.1" height="2.1"/><rect x="1016.35" y="459.95" width="2.1" height="2.1"/><rect x="1023.95" y="459.95" width="2.1" height="2.1"/><rect x="1031.55" y="459.95" width="2.1" height="2.1"/><rect x="1039.15" y="459.95" width="2.1" height="2.1"/><rect x="1046.75" y="459.95" width="2.1" height="2.1"/><rect x="1054.35" y="459.95" width="2.1" height="2.1"/><rect x="1061.95" y="459.95" width="2.1" height="2.1"/><rect x="1069.55" y="459.95" width="2.1" height="2.1"/><rect x="1077.15" y="459.95" width="2.1" height="2.1"/><rect x="1084.75" y="459.95" width="2.1" height="2.1"/><rect x="1092.35" y="459.95" width="2.1" height="2.1"/><rect x="1099.95" y="459.95" width="2.1" height="2.1"/><rect x="1107.55" y="459.95" width="2.1" height="2.1"/><rect x="1115.15" y="459.95" width="2.1" height="2.1"/><rect x="1122.75" y="459.95" width="2.1" height="2.1"/><rect x="1130.35" y="459.95" width="2.1" height="2.1"/><rect x="1137.95" y="459.95" width="2.1" height="2.1"/><rect x="1145.55" y="459.95" width="2.1" height="2.1"/><rect x="1153.15" y="459.95" width="2.1" height="2.1"/><rect x="1160.75" y="459.95" width="2.1" height="2.1"/><rect x="1168.35" y="459.95" width="2.1" height="2.1"/><rect x="1175.95" y="459.95" width="2.1" height="2.1"/><rect x="1183.55" y="459.95" width="2.1" height="2.1"/><rect x="1191.15" y="459.95" width="2.1" height="2.1"/><rect x="1198.75" y="459.95" width="2.1" height="2.1"/><rect x="1206.35" y="459.95" width="2.1" height="2.1"/><rect x="1213.95" y="459.95" width="2.1" height="2.1"/><rect x="1221.55" y="459.95" width="2.1" height="2.1"/><rect x="1229.15" y="459.95" width="2.1" height="2.1"/><rect x="1236.75" y="459.95" width="2.1" height="2.1"/><rect x="1244.35" y="459.95" width="2.1" height="2.1"/><rect x="1251.95" y="459.95" width="2.1" height="2.1"/><rect x="1259.55" y="459.95" width="2.1" height="2.1"/><rect x="1267.15" y="459.95" width="2.1" height="2.1"/><rect x="1274.75" y="459.95" width="2.1" height="2.1"/><rect x="1282.35" y="459.95" width="2.1" height="2.1"/><rect x="1289.95" y="459.95" width="2.1" height="2.1"/><rect x="1297.55" y="459.95" width="2.1" height="2.1"/><rect x="1305.15" y="459.95" width="2.1" height="2.1"/><rect x="1312.75" y="459.95" width="2.1" height="2.1"/><rect x="1320.35" y="459.95" width="2.1" height="2.1"/><rect x="1327.95" y="459.95" width="2.1" height="2.1"/><rect x="1335.55" y="459.95" width="2.1" height="2.1"/><rect x="1343.15" y="459.95" width="2.1" height="2.1"/><rect x="1350.75" y="459.95" width="2.1" height="2.1"/><rect x="1358.35" y="459.95" width="2.1" height="2.1"/><rect x="1365.95" y="459.95" width="2.1" height="2.1"/><rect x="1373.55" y="459.95" width="2.1" height="2.1"/><rect x="1381.15" y="459.95" width="2.1" height="2.1"/><rect x="1388.75" y="459.95" width="2.1" height="2.1"/><rect x="1396.35" y="459.95" width="2.1" height="2.1"/><rect x="1403.95" y="459.95" width="2.1" height="2.1"/><rect x="1411.55" y="459.95" width="2.1" height="2.1"/><rect x="1419.15" y="459.95" width="2.1" height="2.1"/><rect x="1426.75" y="459.95" width="2.1" height="2.1"/><rect x="1434.35" y="459.95" width="2.1" height="2.1"/><rect x="1441.95" y="459.95" width="2.1" height="2.1"/><rect x="1449.55" y="459.95" width="2.1" height="2.1"/><rect x="1457.15" y="459.95" width="2.1" height="2.1"/><rect x="1464.75" y="459.95" width="2.1" height="2.1"/><rect x="1472.35" y="459.95" width="2.1" height="2.1"/><rect x="1479.95" y="459.95" width="2.1" height="2.1"/><rect x="1487.55" y="459.95" width="2.1" height="2.1"/><rect x="1495.15" y="459.95" width="2.1" height="2.1"/><rect x="1502.75" y="459.95" width="2.1" height="2.1"/><rect x="1510.35" y="459.95" width="2.1" height="2.1"/><rect x="1517.95" y="459.95" width="2.1" height="2.1"/><rect x="1525.55" y="459.95" width="2.1" height="2.1"/><rect x="1533.15" y="459.95" width="2.1" height="2.1"/><rect x="1540.75" y="459.95" width="2.1" height="2.1"/><rect x="1548.35" y="459.95" width="2.1" height="2.1"/><rect x="1555.95" y="459.95" width="2.1" height="2.1"/><rect x="1563.55" y="459.95" width="2.1" height="2.1"/><rect x="1571.15" y="459.95" width="2.1" height="2.1"/><rect x="1578.75" y="459.95" width="2.1" height="2.1"/><rect x="1586.35" y="459.95" width="2.1" height="2.1"/><rect x="1593.95" y="459.95" width="2.1" height="2.1"/><rect x="1601.55" y="459.95" width="2.1" height="2.1"/><rect x="1609.15" y="459.95" width="2.1" height="2.1"/><rect x="1616.75" y="459.95" width="2.1" height="2.1"/><rect x="1624.35" y="459.95" width="2.1" height="2.1"/><rect x="1631.95" y="459.95" width="2.1" height="2.1"/><rect x="1639.55" y="459.95" width="2.1" height="2.1"/><rect x="1647.15" y="459.95" width="2.1" height="2.1"/><rect x="1654.75" y="459.95" width="2.1" height="2.1"/><rect x="1662.35" y="459.95" width="2.1" height="2.1"/><rect x="1669.95" y="459.95" width="2.1" height="2.1"/><rect x="1677.55" y="459.95" width="2.1" height="2.1"/><rect x="1685.15" y="459.95" width="2.1" height="2.1"/><rect x="1692.75" y="459.95" width="2.1" height="2.1"/><rect x="1700.35" y="459.95" width="2.1" height="2.1"/><rect x="1707.95" y="459.95" width="2.1" height="2.1"/><rect x="1715.55" y="459.95" width="2.1" height="2.1"/><rect x="1723.15" y="459.95" width="2.1" height="2.1"/><rect x="1730.75" y="459.95" width="2.1" height="2.1"/><rect x="1738.35" y="459.95" width="2.1" height="2.1"/><rect x="1745.95" y="459.95" width="2.1" height="2.1"/><rect x="1753.55" y="459.95" width="2.1" height="2.1"/><rect x="1761.15" y="459.95" width="2.1" height="2.1"/><rect x="1768.75" y="459.95" width="2.1" height="2.1"/><rect x="1776.35" y="459.95" width="2.1" height="2.1"/><rect x="1783.95" y="459.95" width="2.1" height="2.1"/><rect x="1791.55" y="459.95" width="2.1" height="2.1"/><rect x="1799.15" y="459.95" width="2.1" height="2.1"/><rect x="890.95" y="463.75" width="2.1" height="2.1"/><rect x="898.55" y="463.75" width="2.1" height="2.1"/><rect x="906.15" y="463.75" width="2.1" height="2.1"/><rect x="913.75" y="463.75" width="2.1" height="2.1"/><rect x="921.35" y="463.75" width="2.1" height="2.1"/><rect x="928.95" y="463.75" width="2.1" height="2.1"/><rect x="936.55" y="463.75" width="2.1" height="2.1"/><rect x="944.15" y="463.75" width="2.1" height="2.1"/><rect x="951.75" y="463.75" width="2.1" height="2.1"/><rect x="959.35" y="463.75" width="2.1" height="2.1"/><rect x="966.95" y="463.75" width="2.1" height="2.1"/><rect x="974.55" y="463.75" width="2.1" height="2.1"/><rect x="982.15" y="463.75" width="2.1" height="2.1"/><rect x="989.75" y="463.75" width="2.1" height="2.1"/><rect x="997.35" y="463.75" width="2.1" height="2.1"/><rect x="1004.95" y="463.75" width="2.1" height="2.1"/><rect x="1012.55" y="463.75" width="2.1" height="2.1"/><rect x="1020.15" y="463.75" width="2.1" height="2.1"/><rect x="1027.75" y="463.75" width="2.1" height="2.1"/><rect x="1035.35" y="463.75" width="2.1" height="2.1"/><rect x="1042.95" y="463.75" width="2.1" height="2.1"/><rect x="1050.55" y="463.75" width="2.1" height="2.1"/><rect x="1058.15" y="463.75" width="2.1" height="2.1"/><rect x="1065.75" y="463.75" width="2.1" height="2.1"/><rect x="1073.35" y="463.75" width="2.1" height="2.1"/><rect x="1080.95" y="463.75" width="2.1" height="2.1"/><rect x="1088.55" y="463.75" width="2.1" height="2.1"/><rect x="1096.15" y="463.75" width="2.1" height="2.1"/><rect x="1103.75" y="463.75" width="2.1" height="2.1"/><rect x="1111.35" y="463.75" width="2.1" height="2.1"/><rect x="1118.95" y="463.75" width="2.1" height="2.1"/><rect x="1126.55" y="463.75" width="2.1" height="2.1"/><rect x="1134.15" y="463.75" width="2.1" height="2.1"/><rect x="1141.75" y="463.75" width="2.1" height="2.1"/><rect x="1149.35" y="463.75" width="2.1" height="2.1"/><rect x="1156.95" y="463.75" width="2.1" height="2.1"/><rect x="1164.55" y="463.75" width="2.1" height="2.1"/><rect x="1172.15" y="463.75" width="2.1" height="2.1"/><rect x="1179.75" y="463.75" width="2.1" height="2.1"/><rect x="1187.35" y="463.75" width="2.1" height="2.1"/><rect x="1194.95" y="463.75" width="2.1" height="2.1"/><rect x="1202.55" y="463.75" width="2.1" height="2.1"/><rect x="1210.15" y="463.75" width="2.1" height="2.1"/><rect x="1217.75" y="463.75" width="2.1" height="2.1"/><rect x="1225.35" y="463.75" width="2.1" height="2.1"/><rect x="1232.95" y="463.75" width="2.1" height="2.1"/><rect x="1240.55" y="463.75" width="2.1" height="2.1"/><rect x="1248.15" y="463.75" width="2.1" height="2.1"/><rect x="1255.75" y="463.75" width="2.1" height="2.1"/><rect x="1263.35" y="463.75" width="2.1" height="2.1"/><rect x="1270.95" y="463.75" width="2.1" height="2.1"/><rect x="1278.55" y="463.75" width="2.1" height="2.1"/><rect x="1286.15" y="463.75" width="2.1" height="2.1"/><rect x="1293.75" y="463.75" width="2.1" height="2.1"/><rect x="1301.35" y="463.75" width="2.1" height="2.1"/><rect x="1308.95" y="463.75" width="2.1" height="2.1"/><rect x="1316.55" y="463.75" width="2.1" height="2.1"/><rect x="1324.15" y="463.75" width="2.1" height="2.1"/><rect x="1331.75" y="463.75" width="2.1" height="2.1"/><rect x="1339.35" y="463.75" width="2.1" height="2.1"/><rect x="1346.95" y="463.75" width="2.1" height="2.1"/><rect x="1354.55" y="463.75" width="2.1" height="2.1"/><rect x="1362.15" y="463.75" width="2.1" height="2.1"/><rect x="1369.75" y="463.75" width="2.1" height="2.1"/><rect x="1377.35" y="463.75" width="2.1" height="2.1"/><rect x="1384.95" y="463.75" width="2.1" height="2.1"/><rect x="1392.55" y="463.75" width="2.1" height="2.1"/><rect x="1400.15" y="463.75" width="2.1" height="2.1"/><rect x="1407.75" y="463.75" width="2.1" height="2.1"/><rect x="1415.35" y="463.75" width="2.1" height="2.1"/><rect x="1422.95" y="463.75" width="2.1" height="2.1"/><rect x="1430.55" y="463.75" width="2.1" height="2.1"/><rect x="1438.15" y="463.75" width="2.1" height="2.1"/><rect x="1445.75" y="463.75" width="2.1" height="2.1"/><rect x="1453.35" y="463.75" width="2.1" height="2.1"/><rect x="1460.95" y="463.75" width="2.1" height="2.1"/><rect x="1468.55" y="463.75" width="2.1" height="2.1"/><rect x="1476.15" y="463.75" width="2.1" height="2.1"/><rect x="1483.75" y="463.75" width="2.1" height="2.1"/><rect x="1491.35" y="463.75" width="2.1" height="2.1"/><rect x="1498.95" y="463.75" width="2.1" height="2.1"/><rect x="1506.55" y="463.75" width="2.1" height="2.1"/><rect x="1514.15" y="463.75" width="2.1" height="2.1"/><rect x="1521.75" y="463.75" width="2.1" height="2.1"/><rect x="1529.35" y="463.75" width="2.1" height="2.1"/><rect x="1536.95" y="463.75" width="2.1" height="2.1"/><rect x="1544.55" y="463.75" width="2.1" height="2.1"/><rect x="1552.15" y="463.75" width="2.1" height="2.1"/><rect x="1559.75" y="463.75" width="2.1" height="2.1"/><rect x="1567.35" y="463.75" width="2.1" height="2.1"/><rect x="1574.95" y="463.75" width="2.1" height="2.1"/><rect x="1582.55" y="463.75" width="2.1" height="2.1"/><rect x="1590.15" y="463.75" width="2.1" height="2.1"/><rect x="1597.75" y="463.75" width="2.1" height="2.1"/><rect x="1605.35" y="463.75" width="2.1" height="2.1"/><rect x="1612.95" y="463.75" width="2.1" height="2.1"/><rect x="1620.55" y="463.75" width="2.1" height="2.1"/><rect x="1628.15" y="463.75" width="2.1" height="2.1"/><rect x="1635.75" y="463.75" width="2.1" height="2.1"/><rect x="1643.35" y="463.75" width="2.1" height="2.1"/><rect x="1650.95" y="463.75" width="2.1" height="2.1"/><rect x="1658.55" y="463.75" width="2.1" height="2.1"/><rect x="1666.15" y="463.75" width="2.1" height="2.1"/><rect x="1673.75" y="463.75" width="2.1" height="2.1"/><rect x="1681.35" y="463.75" width="2.1" height="2.1"/><rect x="1688.95" y="463.75" width="2.1" height="2.1"/><rect x="1696.55" y="463.75" width="2.1" height="2.1"/><rect x="1704.15" y="463.75" width="2.1" height="2.1"/><rect x="1711.75" y="463.75" width="2.1" height="2.1"/><rect x="1719.35" y="463.75" width="2.1" height="2.1"/><rect x="1726.95" y="463.75" width="2.1" height="2.1"/><rect x="1734.55" y="463.75" width="2.1" height="2.1"/><rect x="1742.15" y="463.75" width="2.1" height="2.1"/><rect x="1749.75" y="463.75" width="2.1" height="2.1"/><rect x="1757.35" y="463.75" width="2.1" height="2.1"/><rect x="1764.95" y="463.75" width="2.1" height="2.1"/><rect x="1772.55" y="463.75" width="2.1" height="2.1"/><rect x="1780.15" y="463.75" width="2.1" height="2.1"/><rect x="1787.75" y="463.75" width="2.1" height="2.1"/><rect x="1795.35" y="463.75" width="2.1" height="2.1"/><rect x="894.75" y="467.55" width="2.1" height="2.1"/><rect x="902.35" y="467.55" width="2.1" height="2.1"/><rect x="909.95" y="467.55" width="2.1" height="2.1"/><rect x="917.55" y="467.55" width="2.1" height="2.1"/><rect x="925.15" y="467.55" width="2.1" height="2.1"/><rect x="932.75" y="467.55" width="2.1" height="2.1"/><rect x="940.35" y="467.55" width="2.1" height="2.1"/><rect x="947.95" y="467.55" width="2.1" height="2.1"/><rect x="955.55" y="467.55" width="2.1" height="2.1"/><rect x="963.15" y="467.55" width="2.1" height="2.1"/><rect x="970.75" y="467.55" width="2.1" height="2.1"/><rect x="978.35" y="467.55" width="2.1" height="2.1"/><rect x="985.95" y="467.55" width="2.1" height="2.1"/><rect x="993.55" y="467.55" width="2.1" height="2.1"/><rect x="1001.15" y="467.55" width="2.1" height="2.1"/><rect x="1008.75" y="467.55" width="2.1" height="2.1"/><rect x="1016.35" y="467.55" width="2.1" height="2.1"/><rect x="1023.95" y="467.55" width="2.1" height="2.1"/><rect x="1031.55" y="467.55" width="2.1" height="2.1"/><rect x="1039.15" y="467.55" width="2.1" height="2.1"/><rect x="1046.75" y="467.55" width="2.1" height="2.1"/><rect x="1054.35" y="467.55" width="2.1" height="2.1"/><rect x="1061.95" y="467.55" width="2.1" height="2.1"/><rect x="1069.55" y="467.55" width="2.1" height="2.1"/><rect x="1077.15" y="467.55" width="2.1" height="2.1"/><rect x="1084.75" y="467.55" width="2.1" height="2.1"/><rect x="1092.35" y="467.55" width="2.1" height="2.1"/><rect x="1099.95" y="467.55" width="2.1" height="2.1"/><rect x="1107.55" y="467.55" width="2.1" height="2.1"/><rect x="1115.15" y="467.55" width="2.1" height="2.1"/><rect x="1122.75" y="467.55" width="2.1" height="2.1"/><rect x="1130.35" y="467.55" width="2.1" height="2.1"/><rect x="1137.95" y="467.55" width="2.1" height="2.1"/><rect x="1145.55" y="467.55" width="2.1" height="2.1"/><rect x="1153.15" y="467.55" width="2.1" height="2.1"/><rect x="1160.75" y="467.55" width="2.1" height="2.1"/><rect x="1168.35" y="467.55" width="2.1" height="2.1"/><rect x="1175.95" y="467.55" width="2.1" height="2.1"/><rect x="1183.55" y="467.55" width="2.1" height="2.1"/><rect x="1191.15" y="467.55" width="2.1" height="2.1"/><rect x="1198.75" y="467.55" width="2.1" height="2.1"/><rect x="1206.35" y="467.55" width="2.1" height="2.1"/><rect x="1213.95" y="467.55" width="2.1" height="2.1"/><rect x="1221.55" y="467.55" width="2.1" height="2.1"/><rect x="1229.15" y="467.55" width="2.1" height="2.1"/><rect x="1236.75" y="467.55" width="2.1" height="2.1"/><rect x="1244.35" y="467.55" width="2.1" height="2.1"/><rect x="1251.95" y="467.55" width="2.1" height="2.1"/><rect x="1259.55" y="467.55" width="2.1" height="2.1"/><rect x="1267.15" y="467.55" width="2.1" height="2.1"/><rect x="1274.75" y="467.55" width="2.1" height="2.1"/><rect x="1282.35" y="467.55" width="2.1" height="2.1"/><rect x="1289.95" y="467.55" width="2.1" height="2.1"/><rect x="1297.55" y="467.55" width="2.1" height="2.1"/><rect x="1305.15" y="467.55" width="2.1" height="2.1"/><rect x="1312.75" y="467.55" width="2.1" height="2.1"/><rect x="1320.35" y="467.55" width="2.1" height="2.1"/><rect x="1327.95" y="467.55" width="2.1" height="2.1"/><rect x="1335.55" y="467.55" width="2.1" height="2.1"/><rect x="1343.15" y="467.55" width="2.1" height="2.1"/><rect x="1350.75" y="467.55" width="2.1" height="2.1"/><rect x="1358.35" y="467.55" width="2.1" height="2.1"/><rect x="1365.95" y="467.55" width="2.1" height="2.1"/><rect x="1373.55" y="467.55" width="2.1" height="2.1"/><rect x="1381.15" y="467.55" width="2.1" height="2.1"/><rect x="1388.75" y="467.55" width="2.1" height="2.1"/><rect x="1396.35" y="467.55" width="2.1" height="2.1"/><rect x="1403.95" y="467.55" width="2.1" height="2.1"/><rect x="1411.55" y="467.55" width="2.1" height="2.1"/><rect x="1419.15" y="467.55" width="2.1" height="2.1"/><rect x="1426.75" y="467.55" width="2.1" height="2.1"/><rect x="1434.35" y="467.55" width="2.1" height="2.1"/><rect x="1441.95" y="467.55" width="2.1" height="2.1"/><rect x="1449.55" y="467.55" width="2.1" height="2.1"/><rect x="1457.15" y="467.55" width="2.1" height="2.1"/><rect x="1464.75" y="467.55" width="2.1" height="2.1"/><rect x="1472.35" y="467.55" width="2.1" height="2.1"/><rect x="1479.95" y="467.55" width="2.1" height="2.1"/><rect x="1487.55" y="467.55" width="2.1" height="2.1"/><rect x="1495.15" y="467.55" width="2.1" height="2.1"/><rect x="1502.75" y="467.55" width="2.1" height="2.1"/><rect x="1510.35" y="467.55" width="2.1" height="2.1"/><rect x="1517.95" y="467.55" width="2.1" height="2.1"/><rect x="1525.55" y="467.55" width="2.1" height="2.1"/><rect x="1533.15" y="467.55" width="2.1" height="2.1"/><rect x="1540.75" y="467.55" width="2.1" height="2.1"/><rect x="1548.35" y="467.55" width="2.1" height="2.1"/><rect x="1555.95" y="467.55" width="2.1" height="2.1"/><rect x="1563.55" y="467.55" width="2.1" height="2.1"/><rect x="1571.15" y="467.55" width="2.1" height="2.1"/><rect x="1578.75" y="467.55" width="2.1" height="2.1"/><rect x="1586.35" y="467.55" width="2.1" height="2.1"/><rect x="1593.95" y="467.55" width="2.1" height="2.1"/><rect x="1601.55" y="467.55" width="2.1" height="2.1"/><rect x="1609.15" y="467.55" width="2.1" height="2.1"/><rect x="1616.75" y="467.55" width="2.1" height="2.1"/><rect x="1624.35" y="467.55" width="2.1" height="2.1"/><rect x="1631.95" y="467.55" width="2.1" height="2.1"/><rect x="1639.55" y="467.55" width="2.1" height="2.1"/><rect x="1647.15" y="467.55" width="2.1" height="2.1"/><rect x="1654.75" y="467.55" width="2.1" height="2.1"/><rect x="1662.35" y="467.55" width="2.1" height="2.1"/><rect x="1669.95" y="467.55" width="2.1" height="2.1"/><rect x="1677.55" y="467.55" width="2.1" height="2.1"/><rect x="1685.15" y="467.55" width="2.1" height="2.1"/><rect x="1692.75" y="467.55" width="2.1" height="2.1"/><rect x="1700.35" y="467.55" width="2.1" height="2.1"/><rect x="1707.95" y="467.55" width="2.1" height="2.1"/><rect x="1715.55" y="467.55" width="2.1" height="2.1"/><rect x="1723.15" y="467.55" width="2.1" height="2.1"/><rect x="1730.75" y="467.55" width="2.1" height="2.1"/><rect x="1738.35" y="467.55" width="2.1" height="2.1"/><rect x="1745.95" y="467.55" width="2.1" height="2.1"/><rect x="1753.55" y="467.55" width="2.1" height="2.1"/><rect x="1761.15" y="467.55" width="2.1" height="2.1"/><rect x="1768.75" y="467.55" width="2.1" height="2.1"/><rect x="1776.35" y="467.55" width="2.1" height="2.1"/><rect x="1783.95" y="467.55" width="2.1" height="2.1"/><rect x="1791.55" y="467.55" width="2.1" height="2.1"/><rect x="1799.15" y="467.55" width="2.1" height="2.1"/><rect x="890.95" y="471.35" width="2.1" height="2.1"/><rect x="898.55" y="471.35" width="2.1" height="2.1"/><rect x="906.15" y="471.35" width="2.1" height="2.1"/><rect x="913.75" y="471.35" width="2.1" height="2.1"/><rect x="921.35" y="471.35" width="2.1" height="2.1"/><rect x="928.95" y="471.35" width="2.1" height="2.1"/><rect x="936.55" y="471.35" width="2.1" height="2.1"/><rect x="944.15" y="471.35" width="2.1" height="2.1"/><rect x="951.75" y="471.35" width="2.1" height="2.1"/><rect x="959.35" y="471.35" width="2.1" height="2.1"/><rect x="966.95" y="471.35" width="2.1" height="2.1"/><rect x="974.55" y="471.35" width="2.1" height="2.1"/><rect x="982.15" y="471.35" width="2.1" height="2.1"/><rect x="989.75" y="471.35" width="2.1" height="2.1"/><rect x="997.35" y="471.35" width="2.1" height="2.1"/><rect x="1004.95" y="471.35" width="2.1" height="2.1"/><rect x="1012.55" y="471.35" width="2.1" height="2.1"/><rect x="1020.15" y="471.35" width="2.1" height="2.1"/><rect x="1027.75" y="471.35" width="2.1" height="2.1"/><rect x="1035.35" y="471.35" width="2.1" height="2.1"/><rect x="1042.95" y="471.35" width="2.1" height="2.1"/><rect x="1050.55" y="471.35" width="2.1" height="2.1"/><rect x="1058.15" y="471.35" width="2.1" height="2.1"/><rect x="1065.75" y="471.35" width="2.1" height="2.1"/><rect x="1073.35" y="471.35" width="2.1" height="2.1"/><rect x="1080.95" y="471.35" width="2.1" height="2.1"/><rect x="1088.55" y="471.35" width="2.1" height="2.1"/><rect x="1096.15" y="471.35" width="2.1" height="2.1"/><rect x="1103.75" y="471.35" width="2.1" height="2.1"/><rect x="1111.35" y="471.35" width="2.1" height="2.1"/><rect x="1118.95" y="471.35" width="2.1" height="2.1"/><rect x="1126.55" y="471.35" width="2.1" height="2.1"/><rect x="1134.15" y="471.35" width="2.1" height="2.1"/><rect x="1141.75" y="471.35" width="2.1" height="2.1"/><rect x="1149.35" y="471.35" width="2.1" height="2.1"/><rect x="1156.95" y="471.35" width="2.1" height="2.1"/><rect x="1164.55" y="471.35" width="2.1" height="2.1"/><rect x="1172.15" y="471.35" width="2.1" height="2.1"/><rect x="1179.75" y="471.35" width="2.1" height="2.1"/><rect x="1187.35" y="471.35" width="2.1" height="2.1"/><rect x="1194.95" y="471.35" width="2.1" height="2.1"/><rect x="1202.55" y="471.35" width="2.1" height="2.1"/><rect x="1210.15" y="471.35" width="2.1" height="2.1"/><rect x="1217.75" y="471.35" width="2.1" height="2.1"/><rect x="1225.35" y="471.35" width="2.1" height="2.1"/><rect x="1232.95" y="471.35" width="2.1" height="2.1"/><rect x="1240.55" y="471.35" width="2.1" height="2.1"/><rect x="1248.15" y="471.35" width="2.1" height="2.1"/><rect x="1255.75" y="471.35" width="2.1" height="2.1"/><rect x="1263.35" y="471.35" width="2.1" height="2.1"/><rect x="1270.95" y="471.35" width="2.1" height="2.1"/><rect x="1278.55" y="471.35" width="2.1" height="2.1"/><rect x="1286.15" y="471.35" width="2.1" height="2.1"/><rect x="1293.75" y="471.35" width="2.1" height="2.1"/><rect x="1301.35" y="471.35" width="2.1" height="2.1"/><rect x="1308.95" y="471.35" width="2.1" height="2.1"/><rect x="1316.55" y="471.35" width="2.1" height="2.1"/><rect x="1324.15" y="471.35" width="2.1" height="2.1"/><rect x="1331.75" y="471.35" width="2.1" height="2.1"/><rect x="1339.35" y="471.35" width="2.1" height="2.1"/><rect x="1346.95" y="471.35" width="2.1" height="2.1"/><rect x="1354.55" y="471.35" width="2.1" height="2.1"/><rect x="1362.15" y="471.35" width="2.1" height="2.1"/><rect x="1369.75" y="471.35" width="2.1" height="2.1"/><rect x="1377.35" y="471.35" width="2.1" height="2.1"/><rect x="1384.95" y="471.35" width="2.1" height="2.1"/><rect x="1392.55" y="471.35" width="2.1" height="2.1"/><rect x="1400.15" y="471.35" width="2.1" height="2.1"/><rect x="1407.75" y="471.35" width="2.1" height="2.1"/><rect x="1415.35" y="471.35" width="2.1" height="2.1"/><rect x="1422.95" y="471.35" width="2.1" height="2.1"/><rect x="1430.55" y="471.35" width="2.1" height="2.1"/><rect x="1438.15" y="471.35" width="2.1" height="2.1"/><rect x="1445.75" y="471.35" width="2.1" height="2.1"/><rect x="1453.35" y="471.35" width="2.1" height="2.1"/><rect x="1460.95" y="471.35" width="2.1" height="2.1"/><rect x="1468.55" y="471.35" width="2.1" height="2.1"/><rect x="1476.15" y="471.35" width="2.1" height="2.1"/><rect x="1483.75" y="471.35" width="2.1" height="2.1"/><rect x="1491.35" y="471.35" width="2.1" height="2.1"/><rect x="1498.95" y="471.35" width="2.1" height="2.1"/><rect x="1506.55" y="471.35" width="2.1" height="2.1"/><rect x="1514.15" y="471.35" width="2.1" height="2.1"/><rect x="1521.75" y="471.35" width="2.1" height="2.1"/><rect x="1529.35" y="471.35" width="2.1" height="2.1"/><rect x="1536.95" y="471.35" width="2.1" height="2.1"/><rect x="1544.55" y="471.35" width="2.1" height="2.1"/><rect x="1552.15" y="471.35" width="2.1" height="2.1"/><rect x="1559.75" y="471.35" width="2.1" height="2.1"/><rect x="1567.35" y="471.35" width="2.1" height="2.1"/><rect x="1574.95" y="471.35" width="2.1" height="2.1"/><rect x="1582.55" y="471.35" width="2.1" height="2.1"/><rect x="1590.15" y="471.35" width="2.1" height="2.1"/><rect x="1597.75" y="471.35" width="2.1" height="2.1"/><rect x="1605.35" y="471.35" width="2.1" height="2.1"/><rect x="1612.95" y="471.35" width="2.1" height="2.1"/><rect x="1620.55" y="471.35" width="2.1" height="2.1"/><rect x="1628.15" y="471.35" width="2.1" height="2.1"/><rect x="1635.75" y="471.35" width="2.1" height="2.1"/><rect x="1643.35" y="471.35" width="2.1" height="2.1"/><rect x="1650.95" y="471.35" width="2.1" height="2.1"/><rect x="1658.55" y="471.35" width="2.1" height="2.1"/><rect x="1666.15" y="471.35" width="2.1" height="2.1"/><rect x="1673.75" y="471.35" width="2.1" height="2.1"/><rect x="1681.35" y="471.35" width="2.1" height="2.1"/><rect x="1688.95" y="471.35" width="2.1" height="2.1"/><rect x="1696.55" y="471.35" width="2.1" height="2.1"/><rect x="1704.15" y="471.35" width="2.1" height="2.1"/><rect x="1711.75" y="471.35" width="2.1" height="2.1"/><rect x="1719.35" y="471.35" width="2.1" height="2.1"/><rect x="1726.95" y="471.35" width="2.1" height="2.1"/><rect x="1734.55" y="471.35" width="2.1" height="2.1"/><rect x="1742.15" y="471.35" width="2.1" height="2.1"/><rect x="1749.75" y="471.35" width="2.1" height="2.1"/><rect x="1757.35" y="471.35" width="2.1" height="2.1"/><rect x="1764.95" y="471.35" width="2.1" height="2.1"/><rect x="1772.55" y="471.35" width="2.1" height="2.1"/><rect x="1780.15" y="471.35" width="2.1" height="2.1"/><rect x="1787.75" y="471.35" width="2.1" height="2.1"/><rect x="1795.35" y="471.35" width="2.1" height="2.1"/><rect x="894.75" y="475.15" width="2.1" height="2.1"/><rect x="902.35" y="475.15" width="2.1" height="2.1"/><rect x="909.95" y="475.15" width="2.1" height="2.1"/><rect x="917.55" y="475.15" width="2.1" height="2.1"/><rect x="925.15" y="475.15" width="2.1" height="2.1"/><rect x="932.75" y="475.15" width="2.1" height="2.1"/><rect x="940.35" y="475.15" width="2.1" height="2.1"/><rect x="947.95" y="475.15" width="2.1" height="2.1"/><rect x="955.55" y="475.15" width="2.1" height="2.1"/><rect x="963.15" y="475.15" width="2.1" height="2.1"/><rect x="970.75" y="475.15" width="2.1" height="2.1"/><rect x="978.35" y="475.15" width="2.1" height="2.1"/><rect x="985.95" y="475.15" width="2.1" height="2.1"/><rect x="993.55" y="475.15" width="2.1" height="2.1"/><rect x="1001.15" y="475.15" width="2.1" height="2.1"/><rect x="1008.75" y="475.15" width="2.1" height="2.1"/><rect x="1016.35" y="475.15" width="2.1" height="2.1"/><rect x="1023.95" y="475.15" width="2.1" height="2.1"/><rect x="1031.55" y="475.15" width="2.1" height="2.1"/><rect x="1039.15" y="475.15" width="2.1" height="2.1"/><rect x="1046.75" y="475.15" width="2.1" height="2.1"/><rect x="1054.35" y="475.15" width="2.1" height="2.1"/><rect x="1061.95" y="475.15" width="2.1" height="2.1"/><rect x="1069.55" y="475.15" width="2.1" height="2.1"/><rect x="1077.15" y="475.15" width="2.1" height="2.1"/><rect x="1084.75" y="475.15" width="2.1" height="2.1"/><rect x="1092.35" y="475.15" width="2.1" height="2.1"/><rect x="1099.95" y="475.15" width="2.1" height="2.1"/><rect x="1107.55" y="475.15" width="2.1" height="2.1"/><rect x="1115.15" y="475.15" width="2.1" height="2.1"/><rect x="1122.75" y="475.15" width="2.1" height="2.1"/><rect x="1130.35" y="475.15" width="2.1" height="2.1"/><rect x="1137.95" y="475.15" width="2.1" height="2.1"/><rect x="1145.55" y="475.15" width="2.1" height="2.1"/><rect x="1153.15" y="475.15" width="2.1" height="2.1"/><rect x="1160.75" y="475.15" width="2.1" height="2.1"/><rect x="1168.35" y="475.15" width="2.1" height="2.1"/><rect x="1175.95" y="475.15" width="2.1" height="2.1"/><rect x="1183.55" y="475.15" width="2.1" height="2.1"/><rect x="1191.15" y="475.15" width="2.1" height="2.1"/><rect x="1198.75" y="475.15" width="2.1" height="2.1"/><rect x="1206.35" y="475.15" width="2.1" height="2.1"/><rect x="1213.95" y="475.15" width="2.1" height="2.1"/><rect x="1221.55" y="475.15" width="2.1" height="2.1"/><rect x="1229.15" y="475.15" width="2.1" height="2.1"/><rect x="1236.75" y="475.15" width="2.1" height="2.1"/><rect x="1244.35" y="475.15" width="2.1" height="2.1"/><rect x="1251.95" y="475.15" width="2.1" height="2.1"/><rect x="1259.55" y="475.15" width="2.1" height="2.1"/><rect x="1267.15" y="475.15" width="2.1" height="2.1"/><rect x="1274.75" y="475.15" width="2.1" height="2.1"/><rect x="1282.35" y="475.15" width="2.1" height="2.1"/><rect x="1289.95" y="475.15" width="2.1" height="2.1"/><rect x="1297.55" y="475.15" width="2.1" height="2.1"/><rect x="1305.15" y="475.15" width="2.1" height="2.1"/><rect x="1312.75" y="475.15" width="2.1" height="2.1"/><rect x="1320.35" y="475.15" width="2.1" height="2.1"/><rect x="1327.95" y="475.15" width="2.1" height="2.1"/><rect x="1335.55" y="475.15" width="2.1" height="2.1"/><rect x="1343.15" y="475.15" width="2.1" height="2.1"/><rect x="1350.75" y="475.15" width="2.1" height="2.1"/><rect x="1358.35" y="475.15" width="2.1" height="2.1"/><rect x="1365.95" y="475.15" width="2.1" height="2.1"/><rect x="1373.55" y="475.15" width="2.1" height="2.1"/><rect x="1381.15" y="475.15" width="2.1" height="2.1"/><rect x="1388.75" y="475.15" width="2.1" height="2.1"/><rect x="1396.35" y="475.15" width="2.1" height="2.1"/><rect x="1403.95" y="475.15" width="2.1" height="2.1"/><rect x="1411.55" y="475.15" width="2.1" height="2.1"/><rect x="1419.15" y="475.15" width="2.1" height="2.1"/><rect x="1426.75" y="475.15" width="2.1" height="2.1"/><rect x="1434.35" y="475.15" width="2.1" height="2.1"/><rect x="1441.95" y="475.15" width="2.1" height="2.1"/><rect x="1449.55" y="475.15" width="2.1" height="2.1"/><rect x="1457.15" y="475.15" width="2.1" height="2.1"/><rect x="1464.75" y="475.15" width="2.1" height="2.1"/><rect x="1472.35" y="475.15" width="2.1" height="2.1"/><rect x="1479.95" y="475.15" width="2.1" height="2.1"/><rect x="1487.55" y="475.15" width="2.1" height="2.1"/><rect x="1495.15" y="475.15" width="2.1" height="2.1"/><rect x="1502.75" y="475.15" width="2.1" height="2.1"/><rect x="1510.35" y="475.15" width="2.1" height="2.1"/><rect x="1517.95" y="475.15" width="2.1" height="2.1"/><rect x="1525.55" y="475.15" width="2.1" height="2.1"/><rect x="1533.15" y="475.15" width="2.1" height="2.1"/><rect x="1540.75" y="475.15" width="2.1" height="2.1"/><rect x="1548.35" y="475.15" width="2.1" height="2.1"/><rect x="1555.95" y="475.15" width="2.1" height="2.1"/><rect x="1563.55" y="475.15" width="2.1" height="2.1"/><rect x="1571.15" y="475.15" width="2.1" height="2.1"/><rect x="1578.75" y="475.15" width="2.1" height="2.1"/><rect x="1586.35" y="475.15" width="2.1" height="2.1"/><rect x="1593.95" y="475.15" width="2.1" height="2.1"/><rect x="1601.55" y="475.15" width="2.1" height="2.1"/><rect x="1609.15" y="475.15" width="2.1" height="2.1"/><rect x="1616.75" y="475.15" width="2.1" height="2.1"/><rect x="1624.35" y="475.15" width="2.1" height="2.1"/><rect x="1631.95" y="475.15" width="2.1" height="2.1"/><rect x="1639.55" y="475.15" width="2.1" height="2.1"/><rect x="1647.15" y="475.15" width="2.1" height="2.1"/><rect x="1654.75" y="475.15" width="2.1" height="2.1"/><rect x="1662.35" y="475.15" width="2.1" height="2.1"/><rect x="1669.95" y="475.15" width="2.1" height="2.1"/><rect x="1677.55" y="475.15" width="2.1" height="2.1"/><rect x="1685.15" y="475.15" width="2.1" height="2.1"/><rect x="1692.75" y="475.15" width="2.1" height="2.1"/><rect x="1700.35" y="475.15" width="2.1" height="2.1"/><rect x="1707.95" y="475.15" width="2.1" height="2.1"/><rect x="1715.55" y="475.15" width="2.1" height="2.1"/><rect x="1723.15" y="475.15" width="2.1" height="2.1"/><rect x="1730.75" y="475.15" width="2.1" height="2.1"/><rect x="1738.35" y="475.15" width="2.1" height="2.1"/><rect x="1745.95" y="475.15" width="2.1" height="2.1"/><rect x="1753.55" y="475.15" width="2.1" height="2.1"/><rect x="1761.15" y="475.15" width="2.1" height="2.1"/><rect x="1768.75" y="475.15" width="2.1" height="2.1"/><rect x="1776.35" y="475.15" width="2.1" height="2.1"/><rect x="1783.95" y="475.15" width="2.1" height="2.1"/><rect x="1791.55" y="475.15" width="2.1" height="2.1"/><rect x="1799.15" y="475.15" width="2.1" height="2.1"/><rect x="890.95" y="478.95" width="2.1" height="2.1"/><rect x="898.55" y="478.95" width="2.1" height="2.1"/><rect x="906.15" y="478.95" width="2.1" height="2.1"/><rect x="913.75" y="478.95" width="2.1" height="2.1"/><rect x="921.35" y="478.95" width="2.1" height="2.1"/><rect x="928.95" y="478.95" width="2.1" height="2.1"/><rect x="936.55" y="478.95" width="2.1" height="2.1"/><rect x="944.15" y="478.95" width="2.1" height="2.1"/><rect x="951.75" y="478.95" width="2.1" height="2.1"/><rect x="959.35" y="478.95" width="2.1" height="2.1"/><rect x="966.95" y="478.95" width="2.1" height="2.1"/><rect x="974.55" y="478.95" width="2.1" height="2.1"/><rect x="982.15" y="478.95" width="2.1" height="2.1"/><rect x="989.75" y="478.95" width="2.1" height="2.1"/><rect x="997.35" y="478.95" width="2.1" height="2.1"/><rect x="1004.95" y="478.95" width="2.1" height="2.1"/><rect x="1012.55" y="478.95" width="2.1" height="2.1"/><rect x="1020.15" y="478.95" width="2.1" height="2.1"/><rect x="1027.75" y="478.95" width="2.1" height="2.1"/><rect x="1035.35" y="478.95" width="2.1" height="2.1"/><rect x="1042.95" y="478.95" width="2.1" height="2.1"/><rect x="1050.55" y="478.95" width="2.1" height="2.1"/><rect x="1058.15" y="478.95" width="2.1" height="2.1"/><rect x="1065.75" y="478.95" width="2.1" height="2.1"/><rect x="1073.35" y="478.95" width="2.1" height="2.1"/><rect x="1080.95" y="478.95" width="2.1" height="2.1"/><rect x="1088.55" y="478.95" width="2.1" height="2.1"/><rect x="1096.15" y="478.95" width="2.1" height="2.1"/><rect x="1103.75" y="478.95" width="2.1" height="2.1"/><rect x="1111.35" y="478.95" width="2.1" height="2.1"/><rect x="1118.95" y="478.95" width="2.1" height="2.1"/><rect x="1126.55" y="478.95" width="2.1" height="2.1"/><rect x="1134.15" y="478.95" width="2.1" height="2.1"/><rect x="1141.75" y="478.95" width="2.1" height="2.1"/><rect x="1149.35" y="478.95" width="2.1" height="2.1"/><rect x="1156.95" y="478.95" width="2.1" height="2.1"/><rect x="1164.55" y="478.95" width="2.1" height="2.1"/><rect x="1172.15" y="478.95" width="2.1" height="2.1"/><rect x="1179.75" y="478.95" width="2.1" height="2.1"/><rect x="1187.35" y="478.95" width="2.1" height="2.1"/><rect x="1194.95" y="478.95" width="2.1" height="2.1"/><rect x="1202.55" y="478.95" width="2.1" height="2.1"/><rect x="1210.15" y="478.95" width="2.1" height="2.1"/><rect x="1217.75" y="478.95" width="2.1" height="2.1"/><rect x="1225.35" y="478.95" width="2.1" height="2.1"/><rect x="1232.95" y="478.95" width="2.1" height="2.1"/><rect x="1240.55" y="478.95" width="2.1" height="2.1"/><rect x="1248.15" y="478.95" width="2.1" height="2.1"/><rect x="1255.75" y="478.95" width="2.1" height="2.1"/><rect x="1263.35" y="478.95" width="2.1" height="2.1"/><rect x="1270.95" y="478.95" width="2.1" height="2.1"/><rect x="1278.55" y="478.95" width="2.1" height="2.1"/><rect x="1286.15" y="478.95" width="2.1" height="2.1"/><rect x="1293.75" y="478.95" width="2.1" height="2.1"/><rect x="1301.35" y="478.95" width="2.1" height="2.1"/><rect x="1308.95" y="478.95" width="2.1" height="2.1"/><rect x="1316.55" y="478.95" width="2.1" height="2.1"/><rect x="1324.15" y="478.95" width="2.1" height="2.1"/><rect x="1331.75" y="478.95" width="2.1" height="2.1"/><rect x="1339.35" y="478.95" width="2.1" height="2.1"/><rect x="1346.95" y="478.95" width="2.1" height="2.1"/><rect x="1354.55" y="478.95" width="2.1" height="2.1"/><rect x="1362.15" y="478.95" width="2.1" height="2.1"/><rect x="1369.75" y="478.95" width="2.1" height="2.1"/><rect x="1377.35" y="478.95" width="2.1" height="2.1"/><rect x="1384.95" y="478.95" width="2.1" height="2.1"/><rect x="1392.55" y="478.95" width="2.1" height="2.1"/><rect x="1400.15" y="478.95" width="2.1" height="2.1"/><rect x="1407.75" y="478.95" width="2.1" height="2.1"/><rect x="1415.35" y="478.95" width="2.1" height="2.1"/><rect x="1422.95" y="478.95" width="2.1" height="2.1"/><rect x="1430.55" y="478.95" width="2.1" height="2.1"/><rect x="1438.15" y="478.95" width="2.1" height="2.1"/><rect x="1445.75" y="478.95" width="2.1" height="2.1"/><rect x="1453.35" y="478.95" width="2.1" height="2.1"/><rect x="1460.95" y="478.95" width="2.1" height="2.1"/><rect x="1468.55" y="478.95" width="2.1" height="2.1"/><rect x="1476.15" y="478.95" width="2.1" height="2.1"/><rect x="1483.75" y="478.95" width="2.1" height="2.1"/><rect x="1491.35" y="478.95" width="2.1" height="2.1"/><rect x="1498.95" y="478.95" width="2.1" height="2.1"/><rect x="1506.55" y="478.95" width="2.1" height="2.1"/><rect x="1514.15" y="478.95" width="2.1" height="2.1"/><rect x="1521.75" y="478.95" width="2.1" height="2.1"/><rect x="1529.35" y="478.95" width="2.1" height="2.1"/><rect x="1536.95" y="478.95" width="2.1" height="2.1"/><rect x="1544.55" y="478.95" width="2.1" height="2.1"/><rect x="1552.15" y="478.95" width="2.1" height="2.1"/><rect x="1559.75" y="478.95" width="2.1" height="2.1"/><rect x="1567.35" y="478.95" width="2.1" height="2.1"/><rect x="1574.95" y="478.95" width="2.1" height="2.1"/><rect x="1582.55" y="478.95" width="2.1" height="2.1"/><rect x="1590.15" y="478.95" width="2.1" height="2.1"/><rect x="1597.75" y="478.95" width="2.1" height="2.1"/><rect x="1605.35" y="478.95" width="2.1" height="2.1"/><rect x="1612.95" y="478.95" width="2.1" height="2.1"/><rect x="1620.55" y="478.95" width="2.1" height="2.1"/><rect x="1628.15" y="478.95" width="2.1" height="2.1"/><rect x="1635.75" y="478.95" width="2.1" height="2.1"/><rect x="1643.35" y="478.95" width="2.1" height="2.1"/><rect x="1650.95" y="478.95" width="2.1" height="2.1"/><rect x="1658.55" y="478.95" width="2.1" height="2.1"/><rect x="1666.15" y="478.95" width="2.1" height="2.1"/><rect x="1673.75" y="478.95" width="2.1" height="2.1"/><rect x="1681.35" y="478.95" width="2.1" height="2.1"/><rect x="1688.95" y="478.95" width="2.1" height="2.1"/><rect x="1696.55" y="478.95" width="2.1" height="2.1"/><rect x="1704.15" y="478.95" width="2.1" height="2.1"/><rect x="1711.75" y="478.95" width="2.1" height="2.1"/><rect x="1719.35" y="478.95" width="2.1" height="2.1"/><rect x="1726.95" y="478.95" width="2.1" height="2.1"/><rect x="1734.55" y="478.95" width="2.1" height="2.1"/><rect x="1742.15" y="478.95" width="2.1" height="2.1"/><rect x="1749.75" y="478.95" width="2.1" height="2.1"/><rect x="1757.35" y="478.95" width="2.1" height="2.1"/><rect x="1764.95" y="478.95" width="2.1" height="2.1"/><rect x="1772.55" y="478.95" width="2.1" height="2.1"/><rect x="1780.15" y="478.95" width="2.1" height="2.1"/><rect x="1787.75" y="478.95" width="2.1" height="2.1"/><rect x="1795.35" y="478.95" width="2.1" height="2.1"/><rect x="894.75" y="482.75" width="2.1" height="2.1"/><rect x="902.35" y="482.75" width="2.1" height="2.1"/><rect x="909.95" y="482.75" width="2.1" height="2.1"/><rect x="917.55" y="482.75" width="2.1" height="2.1"/><rect x="925.15" y="482.75" width="2.1" height="2.1"/><rect x="932.75" y="482.75" width="2.1" height="2.1"/><rect x="940.35" y="482.75" width="2.1" height="2.1"/><rect x="947.95" y="482.75" width="2.1" height="2.1"/><rect x="955.55" y="482.75" width="2.1" height="2.1"/><rect x="963.15" y="482.75" width="2.1" height="2.1"/><rect x="970.75" y="482.75" width="2.1" height="2.1"/><rect x="978.35" y="482.75" width="2.1" height="2.1"/><rect x="985.95" y="482.75" width="2.1" height="2.1"/><rect x="993.55" y="482.75" width="2.1" height="2.1"/><rect x="1001.15" y="482.75" width="2.1" height="2.1"/><rect x="1008.75" y="482.75" width="2.1" height="2.1"/><rect x="1016.35" y="482.75" width="2.1" height="2.1"/><rect x="1023.95" y="482.75" width="2.1" height="2.1"/><rect x="1031.55" y="482.75" width="2.1" height="2.1"/><rect x="1039.15" y="482.75" width="2.1" height="2.1"/><rect x="1046.75" y="482.75" width="2.1" height="2.1"/><rect x="1054.35" y="482.75" width="2.1" height="2.1"/><rect x="1061.95" y="482.75" width="2.1" height="2.1"/><rect x="1069.55" y="482.75" width="2.1" height="2.1"/><rect x="1077.15" y="482.75" width="2.1" height="2.1"/><rect x="1084.75" y="482.75" width="2.1" height="2.1"/><rect x="1092.35" y="482.75" width="2.1" height="2.1"/><rect x="1099.95" y="482.75" width="2.1" height="2.1"/><rect x="1107.55" y="482.75" width="2.1" height="2.1"/><rect x="1115.15" y="482.75" width="2.1" height="2.1"/><rect x="1122.75" y="482.75" width="2.1" height="2.1"/><rect x="1130.35" y="482.75" width="2.1" height="2.1"/><rect x="1137.95" y="482.75" width="2.1" height="2.1"/><rect x="1145.55" y="482.75" width="2.1" height="2.1"/><rect x="1153.15" y="482.75" width="2.1" height="2.1"/><rect x="1160.75" y="482.75" width="2.1" height="2.1"/><rect x="1168.35" y="482.75" width="2.1" height="2.1"/><rect x="1175.95" y="482.75" width="2.1" height="2.1"/><rect x="1183.55" y="482.75" width="2.1" height="2.1"/><rect x="1191.15" y="482.75" width="2.1" height="2.1"/><rect x="1198.75" y="482.75" width="2.1" height="2.1"/><rect x="1206.35" y="482.75" width="2.1" height="2.1"/><rect x="1213.95" y="482.75" width="2.1" height="2.1"/><rect x="1221.55" y="482.75" width="2.1" height="2.1"/><rect x="1229.15" y="482.75" width="2.1" height="2.1"/><rect x="1236.75" y="482.75" width="2.1" height="2.1"/><rect x="1244.35" y="482.75" width="2.1" height="2.1"/><rect x="1251.95" y="482.75" width="2.1" height="2.1"/><rect x="1259.55" y="482.75" width="2.1" height="2.1"/><rect x="1267.15" y="482.75" width="2.1" height="2.1"/><rect x="1274.75" y="482.75" width="2.1" height="2.1"/><rect x="1282.35" y="482.75" width="2.1" height="2.1"/><rect x="1289.95" y="482.75" width="2.1" height="2.1"/><rect x="1297.55" y="482.75" width="2.1" height="2.1"/><rect x="1305.15" y="482.75" width="2.1" height="2.1"/><rect x="1312.75" y="482.75" width="2.1" height="2.1"/><rect x="1320.35" y="482.75" width="2.1" height="2.1"/><rect x="1327.95" y="482.75" width="2.1" height="2.1"/><rect x="1335.55" y="482.75" width="2.1" height="2.1"/><rect x="1343.15" y="482.75" width="2.1" height="2.1"/><rect x="1350.75" y="482.75" width="2.1" height="2.1"/><rect x="1358.35" y="482.75" width="2.1" height="2.1"/><rect x="1365.95" y="482.75" width="2.1" height="2.1"/><rect x="1373.55" y="482.75" width="2.1" height="2.1"/><rect x="1381.15" y="482.75" width="2.1" height="2.1"/><rect x="1388.75" y="482.75" width="2.1" height="2.1"/><rect x="1396.35" y="482.75" width="2.1" height="2.1"/><rect x="1403.95" y="482.75" width="2.1" height="2.1"/><rect x="1411.55" y="482.75" width="2.1" height="2.1"/><rect x="1419.15" y="482.75" width="2.1" height="2.1"/><rect x="1426.75" y="482.75" width="2.1" height="2.1"/><rect x="1434.35" y="482.75" width="2.1" height="2.1"/><rect x="1441.95" y="482.75" width="2.1" height="2.1"/><rect x="1449.55" y="482.75" width="2.1" height="2.1"/><rect x="1457.15" y="482.75" width="2.1" height="2.1"/><rect x="1464.75" y="482.75" width="2.1" height="2.1"/><rect x="1472.35" y="482.75" width="2.1" height="2.1"/><rect x="1479.95" y="482.75" width="2.1" height="2.1"/><rect x="1487.55" y="482.75" width="2.1" height="2.1"/><rect x="1495.15" y="482.75" width="2.1" height="2.1"/><rect x="1502.75" y="482.75" width="2.1" height="2.1"/><rect x="1510.35" y="482.75" width="2.1" height="2.1"/><rect x="1517.95" y="482.75" width="2.1" height="2.1"/><rect x="1525.55" y="482.75" width="2.1" height="2.1"/><rect x="1533.15" y="482.75" width="2.1" height="2.1"/><rect x="1540.75" y="482.75" width="2.1" height="2.1"/><rect x="1548.35" y="482.75" width="2.1" height="2.1"/><rect x="1555.95" y="482.75" width="2.1" height="2.1"/><rect x="1563.55" y="482.75" width="2.1" height="2.1"/><rect x="1571.15" y="482.75" width="2.1" height="2.1"/><rect x="1578.75" y="482.75" width="2.1" height="2.1"/><rect x="1586.35" y="482.75" width="2.1" height="2.1"/><rect x="1593.95" y="482.75" width="2.1" height="2.1"/><rect x="1601.55" y="482.75" width="2.1" height="2.1"/><rect x="1609.15" y="482.75" width="2.1" height="2.1"/><rect x="1616.75" y="482.75" width="2.1" height="2.1"/><rect x="1624.35" y="482.75" width="2.1" height="2.1"/><rect x="1631.95" y="482.75" width="2.1" height="2.1"/><rect x="1639.55" y="482.75" width="2.1" height="2.1"/><rect x="1647.15" y="482.75" width="2.1" height="2.1"/><rect x="1654.75" y="482.75" width="2.1" height="2.1"/><rect x="1662.35" y="482.75" width="2.1" height="2.1"/><rect x="1669.95" y="482.75" width="2.1" height="2.1"/><rect x="1677.55" y="482.75" width="2.1" height="2.1"/><rect x="1685.15" y="482.75" width="2.1" height="2.1"/><rect x="1692.75" y="482.75" width="2.1" height="2.1"/><rect x="1700.35" y="482.75" width="2.1" height="2.1"/><rect x="1707.95" y="482.75" width="2.1" height="2.1"/><rect x="1715.55" y="482.75" width="2.1" height="2.1"/><rect x="1723.15" y="482.75" width="2.1" height="2.1"/><rect x="1730.75" y="482.75" width="2.1" height="2.1"/><rect x="1738.35" y="482.75" width="2.1" height="2.1"/><rect x="1745.95" y="482.75" width="2.1" height="2.1"/><rect x="1753.55" y="482.75" width="2.1" height="2.1"/><rect x="1761.15" y="482.75" width="2.1" height="2.1"/><rect x="1768.75" y="482.75" width="2.1" height="2.1"/><rect x="1776.35" y="482.75" width="2.1" height="2.1"/><rect x="1783.95" y="482.75" width="2.1" height="2.1"/><rect x="1791.55" y="482.75" width="2.1" height="2.1"/><rect x="1799.15" y="482.75" width="2.1" height="2.1"/><rect x="890.95" y="486.55" width="2.1" height="2.1"/><rect x="898.55" y="486.55" width="2.1" height="2.1"/><rect x="906.15" y="486.55" width="2.1" height="2.1"/><rect x="913.75" y="486.55" width="2.1" height="2.1"/><rect x="921.35" y="486.55" width="2.1" height="2.1"/><rect x="928.95" y="486.55" width="2.1" height="2.1"/><rect x="936.55" y="486.55" width="2.1" height="2.1"/><rect x="944.15" y="486.55" width="2.1" height="2.1"/><rect x="951.75" y="486.55" width="2.1" height="2.1"/><rect x="959.35" y="486.55" width="2.1" height="2.1"/><rect x="966.95" y="486.55" width="2.1" height="2.1"/><rect x="974.55" y="486.55" width="2.1" height="2.1"/><rect x="982.15" y="486.55" width="2.1" height="2.1"/><rect x="989.75" y="486.55" width="2.1" height="2.1"/><rect x="997.35" y="486.55" width="2.1" height="2.1"/><rect x="1004.95" y="486.55" width="2.1" height="2.1"/><rect x="1012.55" y="486.55" width="2.1" height="2.1"/><rect x="1020.15" y="486.55" width="2.1" height="2.1"/><rect x="1027.75" y="486.55" width="2.1" height="2.1"/><rect x="1035.35" y="486.55" width="2.1" height="2.1"/><rect x="1042.95" y="486.55" width="2.1" height="2.1"/><rect x="1050.55" y="486.55" width="2.1" height="2.1"/><rect x="1058.15" y="486.55" width="2.1" height="2.1"/><rect x="1065.75" y="486.55" width="2.1" height="2.1"/><rect x="1073.35" y="486.55" width="2.1" height="2.1"/><rect x="1080.95" y="486.55" width="2.1" height="2.1"/><rect x="1088.55" y="486.55" width="2.1" height="2.1"/><rect x="1096.15" y="486.55" width="2.1" height="2.1"/><rect x="1103.75" y="486.55" width="2.1" height="2.1"/><rect x="1111.35" y="486.55" width="2.1" height="2.1"/><rect x="1118.95" y="486.55" width="2.1" height="2.1"/><rect x="1126.55" y="486.55" width="2.1" height="2.1"/><rect x="1134.15" y="486.55" width="2.1" height="2.1"/><rect x="1141.75" y="486.55" width="2.1" height="2.1"/><rect x="1149.35" y="486.55" width="2.1" height="2.1"/><rect x="1156.95" y="486.55" width="2.1" height="2.1"/><rect x="1164.55" y="486.55" width="2.1" height="2.1"/><rect x="1172.15" y="486.55" width="2.1" height="2.1"/><rect x="1179.75" y="486.55" width="2.1" height="2.1"/><rect x="1187.35" y="486.55" width="2.1" height="2.1"/><rect x="1194.95" y="486.55" width="2.1" height="2.1"/><rect x="1202.55" y="486.55" width="2.1" height="2.1"/><rect x="1210.15" y="486.55" width="2.1" height="2.1"/><rect x="1217.75" y="486.55" width="2.1" height="2.1"/><rect x="1225.35" y="486.55" width="2.1" height="2.1"/><rect x="1232.95" y="486.55" width="2.1" height="2.1"/><rect x="1240.55" y="486.55" width="2.1" height="2.1"/><rect x="1248.15" y="486.55" width="2.1" height="2.1"/><rect x="1255.75" y="486.55" width="2.1" height="2.1"/><rect x="1263.35" y="486.55" width="2.1" height="2.1"/><rect x="1270.95" y="486.55" width="2.1" height="2.1"/><rect x="1278.55" y="486.55" width="2.1" height="2.1"/><rect x="1286.15" y="486.55" width="2.1" height="2.1"/><rect x="1293.75" y="486.55" width="2.1" height="2.1"/><rect x="1301.35" y="486.55" width="2.1" height="2.1"/><rect x="1308.95" y="486.55" width="2.1" height="2.1"/><rect x="1316.55" y="486.55" width="2.1" height="2.1"/><rect x="1324.15" y="486.55" width="2.1" height="2.1"/><rect x="1331.75" y="486.55" width="2.1" height="2.1"/><rect x="1339.35" y="486.55" width="2.1" height="2.1"/><rect x="1346.95" y="486.55" width="2.1" height="2.1"/><rect x="1354.55" y="486.55" width="2.1" height="2.1"/><rect x="1362.15" y="486.55" width="2.1" height="2.1"/><rect x="1369.75" y="486.55" width="2.1" height="2.1"/><rect x="1377.35" y="486.55" width="2.1" height="2.1"/><rect x="1384.95" y="486.55" width="2.1" height="2.1"/><rect x="1392.55" y="486.55" width="2.1" height="2.1"/><rect x="1400.15" y="486.55" width="2.1" height="2.1"/><rect x="1407.75" y="486.55" width="2.1" height="2.1"/><rect x="1415.35" y="486.55" width="2.1" height="2.1"/><rect x="1422.95" y="486.55" width="2.1" height="2.1"/><rect x="1430.55" y="486.55" width="2.1" height="2.1"/><rect x="1438.15" y="486.55" width="2.1" height="2.1"/><rect x="1445.75" y="486.55" width="2.1" height="2.1"/><rect x="1453.35" y="486.55" width="2.1" height="2.1"/><rect x="1460.95" y="486.55" width="2.1" height="2.1"/><rect x="1468.55" y="486.55" width="2.1" height="2.1"/><rect x="1476.15" y="486.55" width="2.1" height="2.1"/><rect x="1483.75" y="486.55" width="2.1" height="2.1"/><rect x="1491.35" y="486.55" width="2.1" height="2.1"/><rect x="1498.95" y="486.55" width="2.1" height="2.1"/><rect x="1506.55" y="486.55" width="2.1" height="2.1"/><rect x="1514.15" y="486.55" width="2.1" height="2.1"/><rect x="1521.75" y="486.55" width="2.1" height="2.1"/><rect x="1529.35" y="486.55" width="2.1" height="2.1"/><rect x="1536.95" y="486.55" width="2.1" height="2.1"/><rect x="1544.55" y="486.55" width="2.1" height="2.1"/><rect x="1552.15" y="486.55" width="2.1" height="2.1"/><rect x="1559.75" y="486.55" width="2.1" height="2.1"/><rect x="1567.35" y="486.55" width="2.1" height="2.1"/><rect x="1574.95" y="486.55" width="2.1" height="2.1"/><rect x="1582.55" y="486.55" width="2.1" height="2.1"/><rect x="1590.15" y="486.55" width="2.1" height="2.1"/><rect x="1597.75" y="486.55" width="2.1" height="2.1"/><rect x="1605.35" y="486.55" width="2.1" height="2.1"/><rect x="1612.95" y="486.55" width="2.1" height="2.1"/><rect x="1620.55" y="486.55" width="2.1" height="2.1"/><rect x="1628.15" y="486.55" width="2.1" height="2.1"/><rect x="1635.75" y="486.55" width="2.1" height="2.1"/><rect x="1643.35" y="486.55" width="2.1" height="2.1"/><rect x="1650.95" y="486.55" width="2.1" height="2.1"/><rect x="1658.55" y="486.55" width="2.1" height="2.1"/><rect x="1666.15" y="486.55" width="2.1" height="2.1"/><rect x="1673.75" y="486.55" width="2.1" height="2.1"/><rect x="1681.35" y="486.55" width="2.1" height="2.1"/><rect x="1688.95" y="486.55" width="2.1" height="2.1"/><rect x="1696.55" y="486.55" width="2.1" height="2.1"/><rect x="1704.15" y="486.55" width="2.1" height="2.1"/><rect x="1711.75" y="486.55" width="2.1" height="2.1"/><rect x="1719.35" y="486.55" width="2.1" height="2.1"/><rect x="1726.95" y="486.55" width="2.1" height="2.1"/><rect x="1734.55" y="486.55" width="2.1" height="2.1"/><rect x="1742.15" y="486.55" width="2.1" height="2.1"/><rect x="1749.75" y="486.55" width="2.1" height="2.1"/><rect x="1757.35" y="486.55" width="2.1" height="2.1"/><rect x="1764.95" y="486.55" width="2.1" height="2.1"/><rect x="1772.55" y="486.55" width="2.1" height="2.1"/><rect x="1780.15" y="486.55" width="2.1" height="2.1"/><rect x="1787.75" y="486.55" width="2.1" height="2.1"/><rect x="1795.35" y="486.55" width="2.1" height="2.1"/><rect x="894.75" y="490.35" width="2.1" height="2.1"/><rect x="902.35" y="490.35" width="2.1" height="2.1"/><rect x="909.95" y="490.35" width="2.1" height="2.1"/><rect x="917.55" y="490.35" width="2.1" height="2.1"/><rect x="925.15" y="490.35" width="2.1" height="2.1"/><rect x="932.75" y="490.35" width="2.1" height="2.1"/><rect x="940.35" y="490.35" width="2.1" height="2.1"/><rect x="947.95" y="490.35" width="2.1" height="2.1"/><rect x="955.55" y="490.35" width="2.1" height="2.1"/><rect x="963.15" y="490.35" width="2.1" height="2.1"/><rect x="970.75" y="490.35" width="2.1" height="2.1"/><rect x="978.35" y="490.35" width="2.1" height="2.1"/><rect x="985.95" y="490.35" width="2.1" height="2.1"/><rect x="993.55" y="490.35" width="2.1" height="2.1"/><rect x="1001.15" y="490.35" width="2.1" height="2.1"/><rect x="1008.75" y="490.35" width="2.1" height="2.1"/><rect x="1016.35" y="490.35" width="2.1" height="2.1"/><rect x="1023.95" y="490.35" width="2.1" height="2.1"/><rect x="1031.55" y="490.35" width="2.1" height="2.1"/><rect x="1039.15" y="490.35" width="2.1" height="2.1"/><rect x="1046.75" y="490.35" width="2.1" height="2.1"/><rect x="1054.35" y="490.35" width="2.1" height="2.1"/><rect x="1061.95" y="490.35" width="2.1" height="2.1"/><rect x="1069.55" y="490.35" width="2.1" height="2.1"/><rect x="1077.15" y="490.35" width="2.1" height="2.1"/><rect x="1084.75" y="490.35" width="2.1" height="2.1"/><rect x="1092.35" y="490.35" width="2.1" height="2.1"/><rect x="1099.95" y="490.35" width="2.1" height="2.1"/><rect x="1107.55" y="490.35" width="2.1" height="2.1"/><rect x="1115.15" y="490.35" width="2.1" height="2.1"/><rect x="1122.75" y="490.35" width="2.1" height="2.1"/><rect x="1130.35" y="490.35" width="2.1" height="2.1"/><rect x="1137.95" y="490.35" width="2.1" height="2.1"/><rect x="1145.55" y="490.35" width="2.1" height="2.1"/><rect x="1153.15" y="490.35" width="2.1" height="2.1"/><rect x="1160.75" y="490.35" width="2.1" height="2.1"/><rect x="1168.35" y="490.35" width="2.1" height="2.1"/><rect x="1175.95" y="490.35" width="2.1" height="2.1"/><rect x="1183.55" y="490.35" width="2.1" height="2.1"/><rect x="1191.15" y="490.35" width="2.1" height="2.1"/><rect x="1198.75" y="490.35" width="2.1" height="2.1"/><rect x="1206.35" y="490.35" width="2.1" height="2.1"/><rect x="1213.95" y="490.35" width="2.1" height="2.1"/><rect x="1221.55" y="490.35" width="2.1" height="2.1"/><rect x="1229.15" y="490.35" width="2.1" height="2.1"/><rect x="1236.75" y="490.35" width="2.1" height="2.1"/><rect x="1244.35" y="490.35" width="2.1" height="2.1"/><rect x="1251.95" y="490.35" width="2.1" height="2.1"/><rect x="1259.55" y="490.35" width="2.1" height="2.1"/><rect x="1267.15" y="490.35" width="2.1" height="2.1"/><rect x="1274.75" y="490.35" width="2.1" height="2.1"/><rect x="1282.35" y="490.35" width="2.1" height="2.1"/><rect x="1289.95" y="490.35" width="2.1" height="2.1"/><rect x="1297.55" y="490.35" width="2.1" height="2.1"/><rect x="1305.15" y="490.35" width="2.1" height="2.1"/><rect x="1312.75" y="490.35" width="2.1" height="2.1"/><rect x="1320.35" y="490.35" width="2.1" height="2.1"/><rect x="1327.95" y="490.35" width="2.1" height="2.1"/><rect x="1335.55" y="490.35" width="2.1" height="2.1"/><rect x="1343.15" y="490.35" width="2.1" height="2.1"/><rect x="1350.75" y="490.35" width="2.1" height="2.1"/><rect x="1358.35" y="490.35" width="2.1" height="2.1"/><rect x="1365.95" y="490.35" width="2.1" height="2.1"/><rect x="1373.55" y="490.35" width="2.1" height="2.1"/><rect x="1381.15" y="490.35" width="2.1" height="2.1"/><rect x="1388.75" y="490.35" width="2.1" height="2.1"/><rect x="1396.35" y="490.35" width="2.1" height="2.1"/><rect x="1403.95" y="490.35" width="2.1" height="2.1"/><rect x="1411.55" y="490.35" width="2.1" height="2.1"/><rect x="1419.15" y="490.35" width="2.1" height="2.1"/><rect x="1426.75" y="490.35" width="2.1" height="2.1"/><rect x="1434.35" y="490.35" width="2.1" height="2.1"/><rect x="1441.95" y="490.35" width="2.1" height="2.1"/><rect x="1449.55" y="490.35" width="2.1" height="2.1"/><rect x="1457.15" y="490.35" width="2.1" height="2.1"/><rect x="1464.75" y="490.35" width="2.1" height="2.1"/><rect x="1472.35" y="490.35" width="2.1" height="2.1"/><rect x="1479.95" y="490.35" width="2.1" height="2.1"/><rect x="1487.55" y="490.35" width="2.1" height="2.1"/><rect x="1495.15" y="490.35" width="2.1" height="2.1"/><rect x="1502.75" y="490.35" width="2.1" height="2.1"/><rect x="1510.35" y="490.35" width="2.1" height="2.1"/><rect x="1517.95" y="490.35" width="2.1" height="2.1"/><rect x="1525.55" y="490.35" width="2.1" height="2.1"/><rect x="1533.15" y="490.35" width="2.1" height="2.1"/><rect x="1540.75" y="490.35" width="2.1" height="2.1"/><rect x="1548.35" y="490.35" width="2.1" height="2.1"/><rect x="1555.95" y="490.35" width="2.1" height="2.1"/><rect x="1563.55" y="490.35" width="2.1" height="2.1"/><rect x="1571.15" y="490.35" width="2.1" height="2.1"/><rect x="1578.75" y="490.35" width="2.1" height="2.1"/><rect x="1586.35" y="490.35" width="2.1" height="2.1"/><rect x="1593.95" y="490.35" width="2.1" height="2.1"/><rect x="1601.55" y="490.35" width="2.1" height="2.1"/><rect x="1609.15" y="490.35" width="2.1" height="2.1"/><rect x="1616.75" y="490.35" width="2.1" height="2.1"/><rect x="1624.35" y="490.35" width="2.1" height="2.1"/><rect x="1631.95" y="490.35" width="2.1" height="2.1"/><rect x="1639.55" y="490.35" width="2.1" height="2.1"/><rect x="1647.15" y="490.35" width="2.1" height="2.1"/><rect x="1654.75" y="490.35" width="2.1" height="2.1"/><rect x="1662.35" y="490.35" width="2.1" height="2.1"/><rect x="1669.95" y="490.35" width="2.1" height="2.1"/><rect x="1677.55" y="490.35" width="2.1" height="2.1"/><rect x="1685.15" y="490.35" width="2.1" height="2.1"/><rect x="1692.75" y="490.35" width="2.1" height="2.1"/><rect x="1700.35" y="490.35" width="2.1" height="2.1"/><rect x="1707.95" y="490.35" width="2.1" height="2.1"/><rect x="1715.55" y="490.35" width="2.1" height="2.1"/><rect x="1723.15" y="490.35" width="2.1" height="2.1"/><rect x="1730.75" y="490.35" width="2.1" height="2.1"/><rect x="1738.35" y="490.35" width="2.1" height="2.1"/><rect x="1745.95" y="490.35" width="2.1" height="2.1"/><rect x="1753.55" y="490.35" width="2.1" height="2.1"/><rect x="1761.15" y="490.35" width="2.1" height="2.1"/><rect x="1768.75" y="490.35" width="2.1" height="2.1"/><rect x="1776.35" y="490.35" width="2.1" height="2.1"/><rect x="1783.95" y="490.35" width="2.1" height="2.1"/><rect x="1791.55" y="490.35" width="2.1" height="2.1"/><rect x="1799.15" y="490.35" width="2.1" height="2.1"/><rect x="890.95" y="494.15" width="2.1" height="2.1"/><rect x="898.55" y="494.15" width="2.1" height="2.1"/><rect x="906.15" y="494.15" width="2.1" height="2.1"/><rect x="913.75" y="494.15" width="2.1" height="2.1"/><rect x="921.35" y="494.15" width="2.1" height="2.1"/><rect x="928.95" y="494.15" width="2.1" height="2.1"/><rect x="936.55" y="494.15" width="2.1" height="2.1"/><rect x="944.15" y="494.15" width="2.1" height="2.1"/><rect x="951.75" y="494.15" width="2.1" height="2.1"/><rect x="959.35" y="494.15" width="2.1" height="2.1"/><rect x="966.95" y="494.15" width="2.1" height="2.1"/><rect x="974.55" y="494.15" width="2.1" height="2.1"/><rect x="982.15" y="494.15" width="2.1" height="2.1"/><rect x="989.75" y="494.15" width="2.1" height="2.1"/><rect x="997.35" y="494.15" width="2.1" height="2.1"/><rect x="1004.95" y="494.15" width="2.1" height="2.1"/><rect x="1012.55" y="494.15" width="2.1" height="2.1"/><rect x="1020.15" y="494.15" width="2.1" height="2.1"/><rect x="1027.75" y="494.15" width="2.1" height="2.1"/><rect x="1035.35" y="494.15" width="2.1" height="2.1"/><rect x="1042.95" y="494.15" width="2.1" height="2.1"/><rect x="1050.55" y="494.15" width="2.1" height="2.1"/><rect x="1058.15" y="494.15" width="2.1" height="2.1"/><rect x="1065.75" y="494.15" width="2.1" height="2.1"/><rect x="1073.35" y="494.15" width="2.1" height="2.1"/><rect x="1080.95" y="494.15" width="2.1" height="2.1"/><rect x="1088.55" y="494.15" width="2.1" height="2.1"/><rect x="1096.15" y="494.15" width="2.1" height="2.1"/><rect x="1103.75" y="494.15" width="2.1" height="2.1"/><rect x="1111.35" y="494.15" width="2.1" height="2.1"/><rect x="1118.95" y="494.15" width="2.1" height="2.1"/><rect x="1126.55" y="494.15" width="2.1" height="2.1"/><rect x="1134.15" y="494.15" width="2.1" height="2.1"/><rect x="1141.75" y="494.15" width="2.1" height="2.1"/><rect x="1149.35" y="494.15" width="2.1" height="2.1"/><rect x="1156.95" y="494.15" width="2.1" height="2.1"/><rect x="1164.55" y="494.15" width="2.1" height="2.1"/><rect x="1172.15" y="494.15" width="2.1" height="2.1"/><rect x="1179.75" y="494.15" width="2.1" height="2.1"/><rect x="1187.35" y="494.15" width="2.1" height="2.1"/><rect x="1194.95" y="494.15" width="2.1" height="2.1"/><rect x="1202.55" y="494.15" width="2.1" height="2.1"/><rect x="1210.15" y="494.15" width="2.1" height="2.1"/><rect x="1217.75" y="494.15" width="2.1" height="2.1"/><rect x="1225.35" y="494.15" width="2.1" height="2.1"/><rect x="1232.95" y="494.15" width="2.1" height="2.1"/><rect x="1240.55" y="494.15" width="2.1" height="2.1"/><rect x="1248.15" y="494.15" width="2.1" height="2.1"/><rect x="1255.75" y="494.15" width="2.1" height="2.1"/><rect x="1263.35" y="494.15" width="2.1" height="2.1"/><rect x="1270.95" y="494.15" width="2.1" height="2.1"/><rect x="1278.55" y="494.15" width="2.1" height="2.1"/><rect x="1286.15" y="494.15" width="2.1" height="2.1"/><rect x="1293.75" y="494.15" width="2.1" height="2.1"/><rect x="1301.35" y="494.15" width="2.1" height="2.1"/><rect x="1308.95" y="494.15" width="2.1" height="2.1"/><rect x="1316.55" y="494.15" width="2.1" height="2.1"/><rect x="1324.15" y="494.15" width="2.1" height="2.1"/><rect x="1331.75" y="494.15" width="2.1" height="2.1"/><rect x="1339.35" y="494.15" width="2.1" height="2.1"/><rect x="1346.95" y="494.15" width="2.1" height="2.1"/><rect x="1354.55" y="494.15" width="2.1" height="2.1"/><rect x="1362.15" y="494.15" width="2.1" height="2.1"/><rect x="1369.75" y="494.15" width="2.1" height="2.1"/><rect x="1377.35" y="494.15" width="2.1" height="2.1"/><rect x="1384.95" y="494.15" width="2.1" height="2.1"/><rect x="1392.55" y="494.15" width="2.1" height="2.1"/><rect x="1400.15" y="494.15" width="2.1" height="2.1"/><rect x="1407.75" y="494.15" width="2.1" height="2.1"/><rect x="1415.35" y="494.15" width="2.1" height="2.1"/><rect x="1422.95" y="494.15" width="2.1" height="2.1"/><rect x="1430.55" y="494.15" width="2.1" height="2.1"/><rect x="1438.15" y="494.15" width="2.1" height="2.1"/><rect x="1445.75" y="494.15" width="2.1" height="2.1"/><rect x="1453.35" y="494.15" width="2.1" height="2.1"/><rect x="1460.95" y="494.15" width="2.1" height="2.1"/><rect x="1468.55" y="494.15" width="2.1" height="2.1"/><rect x="1476.15" y="494.15" width="2.1" height="2.1"/><rect x="1483.75" y="494.15" width="2.1" height="2.1"/><rect x="1491.35" y="494.15" width="2.1" height="2.1"/><rect x="1498.95" y="494.15" width="2.1" height="2.1"/><rect x="1506.55" y="494.15" width="2.1" height="2.1"/><rect x="1514.15" y="494.15" width="2.1" height="2.1"/><rect x="1521.75" y="494.15" width="2.1" height="2.1"/><rect x="1529.35" y="494.15" width="2.1" height="2.1"/><rect x="1536.95" y="494.15" width="2.1" height="2.1"/><rect x="1544.55" y="494.15" width="2.1" height="2.1"/><rect x="1552.15" y="494.15" width="2.1" height="2.1"/><rect x="1559.75" y="494.15" width="2.1" height="2.1"/><rect x="1567.35" y="494.15" width="2.1" height="2.1"/><rect x="1574.95" y="494.15" width="2.1" height="2.1"/><rect x="1582.55" y="494.15" width="2.1" height="2.1"/><rect x="1590.15" y="494.15" width="2.1" height="2.1"/><rect x="1597.75" y="494.15" width="2.1" height="2.1"/><rect x="1605.35" y="494.15" width="2.1" height="2.1"/><rect x="1612.95" y="494.15" width="2.1" height="2.1"/><rect x="1620.55" y="494.15" width="2.1" height="2.1"/><rect x="1628.15" y="494.15" width="2.1" height="2.1"/><rect x="1635.75" y="494.15" width="2.1" height="2.1"/><rect x="1643.35" y="494.15" width="2.1" height="2.1"/><rect x="1650.95" y="494.15" width="2.1" height="2.1"/><rect x="1658.55" y="494.15" width="2.1" height="2.1"/><rect x="1666.15" y="494.15" width="2.1" height="2.1"/><rect x="1673.75" y="494.15" width="2.1" height="2.1"/><rect x="1681.35" y="494.15" width="2.1" height="2.1"/><rect x="1688.95" y="494.15" width="2.1" height="2.1"/><rect x="1696.55" y="494.15" width="2.1" height="2.1"/><rect x="1704.15" y="494.15" width="2.1" height="2.1"/><rect x="1711.75" y="494.15" width="2.1" height="2.1"/><rect x="1719.35" y="494.15" width="2.1" height="2.1"/><rect x="1726.95" y="494.15" width="2.1" height="2.1"/><rect x="1734.55" y="494.15" width="2.1" height="2.1"/><rect x="1742.15" y="494.15" width="2.1" height="2.1"/><rect x="1749.75" y="494.15" width="2.1" height="2.1"/><rect x="1757.35" y="494.15" width="2.1" height="2.1"/><rect x="1764.95" y="494.15" width="2.1" height="2.1"/><rect x="1772.55" y="494.15" width="2.1" height="2.1"/><rect x="1780.15" y="494.15" width="2.1" height="2.1"/><rect x="1787.75" y="494.15" width="2.1" height="2.1"/><rect x="1795.35" y="494.15" width="2.1" height="2.1"/><rect x="894.75" y="497.95" width="2.1" height="2.1"/><rect x="902.35" y="497.95" width="2.1" height="2.1"/><rect x="909.95" y="497.95" width="2.1" height="2.1"/><rect x="917.55" y="497.95" width="2.1" height="2.1"/><rect x="925.15" y="497.95" width="2.1" height="2.1"/><rect x="932.75" y="497.95" width="2.1" height="2.1"/><rect x="940.35" y="497.95" width="2.1" height="2.1"/><rect x="947.95" y="497.95" width="2.1" height="2.1"/><rect x="955.55" y="497.95" width="2.1" height="2.1"/><rect x="963.15" y="497.95" width="2.1" height="2.1"/><rect x="970.75" y="497.95" width="2.1" height="2.1"/><rect x="978.35" y="497.95" width="2.1" height="2.1"/><rect x="985.95" y="497.95" width="2.1" height="2.1"/><rect x="993.55" y="497.95" width="2.1" height="2.1"/><rect x="1001.15" y="497.95" width="2.1" height="2.1"/><rect x="1008.75" y="497.95" width="2.1" height="2.1"/><rect x="1016.35" y="497.95" width="2.1" height="2.1"/><rect x="1023.95" y="497.95" width="2.1" height="2.1"/><rect x="1031.55" y="497.95" width="2.1" height="2.1"/><rect x="1039.15" y="497.95" width="2.1" height="2.1"/><rect x="1046.75" y="497.95" width="2.1" height="2.1"/><rect x="1054.35" y="497.95" width="2.1" height="2.1"/><rect x="1061.95" y="497.95" width="2.1" height="2.1"/><rect x="1069.55" y="497.95" width="2.1" height="2.1"/><rect x="1077.15" y="497.95" width="2.1" height="2.1"/><rect x="1084.75" y="497.95" width="2.1" height="2.1"/><rect x="1092.35" y="497.95" width="2.1" height="2.1"/><rect x="1099.95" y="497.95" width="2.1" height="2.1"/><rect x="1107.55" y="497.95" width="2.1" height="2.1"/><rect x="1115.15" y="497.95" width="2.1" height="2.1"/><rect x="1122.75" y="497.95" width="2.1" height="2.1"/><rect x="1130.35" y="497.95" width="2.1" height="2.1"/><rect x="1137.95" y="497.95" width="2.1" height="2.1"/><rect x="1145.55" y="497.95" width="2.1" height="2.1"/><rect x="1153.15" y="497.95" width="2.1" height="2.1"/><rect x="1160.75" y="497.95" width="2.1" height="2.1"/><rect x="1168.35" y="497.95" width="2.1" height="2.1"/><rect x="1175.95" y="497.95" width="2.1" height="2.1"/><rect x="1183.55" y="497.95" width="2.1" height="2.1"/><rect x="1191.15" y="497.95" width="2.1" height="2.1"/><rect x="1198.75" y="497.95" width="2.1" height="2.1"/><rect x="1206.35" y="497.95" width="2.1" height="2.1"/><rect x="1213.95" y="497.95" width="2.1" height="2.1"/><rect x="1221.55" y="497.95" width="2.1" height="2.1"/><rect x="1229.15" y="497.95" width="2.1" height="2.1"/><rect x="1236.75" y="497.95" width="2.1" height="2.1"/><rect x="1244.35" y="497.95" width="2.1" height="2.1"/><rect x="1251.95" y="497.95" width="2.1" height="2.1"/><rect x="1259.55" y="497.95" width="2.1" height="2.1"/><rect x="1267.15" y="497.95" width="2.1" height="2.1"/><rect x="1274.75" y="497.95" width="2.1" height="2.1"/><rect x="1282.35" y="497.95" width="2.1" height="2.1"/><rect x="1289.95" y="497.95" width="2.1" height="2.1"/><rect x="1297.55" y="497.95" width="2.1" height="2.1"/><rect x="1305.15" y="497.95" width="2.1" height="2.1"/><rect x="1312.75" y="497.95" width="2.1" height="2.1"/><rect x="1320.35" y="497.95" width="2.1" height="2.1"/><rect x="1327.95" y="497.95" width="2.1" height="2.1"/><rect x="1335.55" y="497.95" width="2.1" height="2.1"/><rect x="1343.15" y="497.95" width="2.1" height="2.1"/><rect x="1350.75" y="497.95" width="2.1" height="2.1"/><rect x="1358.35" y="497.95" width="2.1" height="2.1"/><rect x="1365.95" y="497.95" width="2.1" height="2.1"/><rect x="1373.55" y="497.95" width="2.1" height="2.1"/><rect x="1381.15" y="497.95" width="2.1" height="2.1"/><rect x="1388.75" y="497.95" width="2.1" height="2.1"/><rect x="1396.35" y="497.95" width="2.1" height="2.1"/><rect x="1403.95" y="497.95" width="2.1" height="2.1"/><rect x="1411.55" y="497.95" width="2.1" height="2.1"/><rect x="1419.15" y="497.95" width="2.1" height="2.1"/><rect x="1426.75" y="497.95" width="2.1" height="2.1"/><rect x="1434.35" y="497.95" width="2.1" height="2.1"/><rect x="1441.95" y="497.95" width="2.1" height="2.1"/><rect x="1449.55" y="497.95" width="2.1" height="2.1"/><rect x="1457.15" y="497.95" width="2.1" height="2.1"/><rect x="1464.75" y="497.95" width="2.1" height="2.1"/><rect x="1472.35" y="497.95" width="2.1" height="2.1"/><rect x="1479.95" y="497.95" width="2.1" height="2.1"/><rect x="1487.55" y="497.95" width="2.1" height="2.1"/><rect x="1495.15" y="497.95" width="2.1" height="2.1"/><rect x="1502.75" y="497.95" width="2.1" height="2.1"/><rect x="1510.35" y="497.95" width="2.1" height="2.1"/><rect x="1517.95" y="497.95" width="2.1" height="2.1"/><rect x="1525.55" y="497.95" width="2.1" height="2.1"/><rect x="1533.15" y="497.95" width="2.1" height="2.1"/><rect x="1540.75" y="497.95" width="2.1" height="2.1"/><rect x="1548.35" y="497.95" width="2.1" height="2.1"/><rect x="1555.95" y="497.95" width="2.1" height="2.1"/><rect x="1563.55" y="497.95" width="2.1" height="2.1"/><rect x="1571.15" y="497.95" width="2.1" height="2.1"/><rect x="1578.75" y="497.95" width="2.1" height="2.1"/><rect x="1586.35" y="497.95" width="2.1" height="2.1"/><rect x="1593.95" y="497.95" width="2.1" height="2.1"/><rect x="1601.55" y="497.95" width="2.1" height="2.1"/><rect x="1609.15" y="497.95" width="2.1" height="2.1"/><rect x="1616.75" y="497.95" width="2.1" height="2.1"/><rect x="1624.35" y="497.95" width="2.1" height="2.1"/><rect x="1631.95" y="497.95" width="2.1" height="2.1"/><rect x="1639.55" y="497.95" width="2.1" height="2.1"/><rect x="1647.15" y="497.95" width="2.1" height="2.1"/><rect x="1654.75" y="497.95" width="2.1" height="2.1"/><rect x="1662.35" y="497.95" width="2.1" height="2.1"/><rect x="1669.95" y="497.95" width="2.1" height="2.1"/><rect x="1677.55" y="497.95" width="2.1" height="2.1"/><rect x="1685.15" y="497.95" width="2.1" height="2.1"/><rect x="1692.75" y="497.95" width="2.1" height="2.1"/><rect x="1700.35" y="497.95" width="2.1" height="2.1"/><rect x="1707.95" y="497.95" width="2.1" height="2.1"/><rect x="1715.55" y="497.95" width="2.1" height="2.1"/><rect x="1723.15" y="497.95" width="2.1" height="2.1"/><rect x="1730.75" y="497.95" width="2.1" height="2.1"/><rect x="1738.35" y="497.95" width="2.1" height="2.1"/><rect x="1745.95" y="497.95" width="2.1" height="2.1"/><rect x="1753.55" y="497.95" width="2.1" height="2.1"/><rect x="1761.15" y="497.95" width="2.1" height="2.1"/><rect x="1768.75" y="497.95" width="2.1" height="2.1"/><rect x="1776.35" y="497.95" width="2.1" height="2.1"/><rect x="1783.95" y="497.95" width="2.1" height="2.1"/><rect x="1791.55" y="497.95" width="2.1" height="2.1"/><rect x="1799.15" y="497.95" width="2.1" height="2.1"/><rect x="890.95" y="501.75" width="2.1" height="2.1"/><rect x="898.55" y="501.75" width="2.1" height="2.1"/><rect x="906.15" y="501.75" width="2.1" height="2.1"/><rect x="913.75" y="501.75" width="2.1" height="2.1"/><rect x="921.35" y="501.75" width="2.1" height="2.1"/><rect x="928.95" y="501.75" width="2.1" height="2.1"/><rect x="936.55" y="501.75" width="2.1" height="2.1"/><rect x="944.15" y="501.75" width="2.1" height="2.1"/><rect x="951.75" y="501.75" width="2.1" height="2.1"/><rect x="959.35" y="501.75" width="2.1" height="2.1"/><rect x="966.95" y="501.75" width="2.1" height="2.1"/><rect x="974.55" y="501.75" width="2.1" height="2.1"/><rect x="982.15" y="501.75" width="2.1" height="2.1"/><rect x="989.75" y="501.75" width="2.1" height="2.1"/><rect x="997.35" y="501.75" width="2.1" height="2.1"/><rect x="1004.95" y="501.75" width="2.1" height="2.1"/><rect x="1012.55" y="501.75" width="2.1" height="2.1"/><rect x="1020.15" y="501.75" width="2.1" height="2.1"/><rect x="1027.75" y="501.75" width="2.1" height="2.1"/><rect x="1035.35" y="501.75" width="2.1" height="2.1"/><rect x="1042.95" y="501.75" width="2.1" height="2.1"/><rect x="1050.55" y="501.75" width="2.1" height="2.1"/><rect x="1058.15" y="501.75" width="2.1" height="2.1"/><rect x="1065.75" y="501.75" width="2.1" height="2.1"/><rect x="1073.35" y="501.75" width="2.1" height="2.1"/><rect x="1080.95" y="501.75" width="2.1" height="2.1"/><rect x="1088.55" y="501.75" width="2.1" height="2.1"/><rect x="1096.15" y="501.75" width="2.1" height="2.1"/><rect x="1103.75" y="501.75" width="2.1" height="2.1"/><rect x="1111.35" y="501.75" width="2.1" height="2.1"/><rect x="1118.95" y="501.75" width="2.1" height="2.1"/><rect x="1126.55" y="501.75" width="2.1" height="2.1"/><rect x="1134.15" y="501.75" width="2.1" height="2.1"/><rect x="1141.75" y="501.75" width="2.1" height="2.1"/><rect x="1149.35" y="501.75" width="2.1" height="2.1"/><rect x="1156.95" y="501.75" width="2.1" height="2.1"/><rect x="1164.55" y="501.75" width="2.1" height="2.1"/><rect x="1172.15" y="501.75" width="2.1" height="2.1"/><rect x="1179.75" y="501.75" width="2.1" height="2.1"/><rect x="1187.35" y="501.75" width="2.1" height="2.1"/><rect x="1194.95" y="501.75" width="2.1" height="2.1"/><rect x="1202.55" y="501.75" width="2.1" height="2.1"/><rect x="1210.15" y="501.75" width="2.1" height="2.1"/><rect x="1217.75" y="501.75" width="2.1" height="2.1"/><rect x="1225.35" y="501.75" width="2.1" height="2.1"/><rect x="1232.95" y="501.75" width="2.1" height="2.1"/><rect x="1240.55" y="501.75" width="2.1" height="2.1"/><rect x="1248.15" y="501.75" width="2.1" height="2.1"/><rect x="1255.75" y="501.75" width="2.1" height="2.1"/><rect x="1263.35" y="501.75" width="2.1" height="2.1"/><rect x="1270.95" y="501.75" width="2.1" height="2.1"/><rect x="1278.55" y="501.75" width="2.1" height="2.1"/><rect x="1286.15" y="501.75" width="2.1" height="2.1"/><rect x="1293.75" y="501.75" width="2.1" height="2.1"/><rect x="1301.35" y="501.75" width="2.1" height="2.1"/><rect x="1308.95" y="501.75" width="2.1" height="2.1"/><rect x="1316.55" y="501.75" width="2.1" height="2.1"/><rect x="1324.15" y="501.75" width="2.1" height="2.1"/><rect x="1331.75" y="501.75" width="2.1" height="2.1"/><rect x="1339.35" y="501.75" width="2.1" height="2.1"/><rect x="1346.95" y="501.75" width="2.1" height="2.1"/><rect x="1354.55" y="501.75" width="2.1" height="2.1"/><rect x="1362.15" y="501.75" width="2.1" height="2.1"/><rect x="1369.75" y="501.75" width="2.1" height="2.1"/><rect x="1377.35" y="501.75" width="2.1" height="2.1"/><rect x="1384.95" y="501.75" width="2.1" height="2.1"/><rect x="1392.55" y="501.75" width="2.1" height="2.1"/><rect x="1400.15" y="501.75" width="2.1" height="2.1"/><rect x="1407.75" y="501.75" width="2.1" height="2.1"/><rect x="1415.35" y="501.75" width="2.1" height="2.1"/><rect x="1422.95" y="501.75" width="2.1" height="2.1"/><rect x="1430.55" y="501.75" width="2.1" height="2.1"/><rect x="1438.15" y="501.75" width="2.1" height="2.1"/><rect x="1445.75" y="501.75" width="2.1" height="2.1"/><rect x="1453.35" y="501.75" width="2.1" height="2.1"/><rect x="1460.95" y="501.75" width="2.1" height="2.1"/><rect x="1468.55" y="501.75" width="2.1" height="2.1"/><rect x="1476.15" y="501.75" width="2.1" height="2.1"/><rect x="1483.75" y="501.75" width="2.1" height="2.1"/><rect x="1491.35" y="501.75" width="2.1" height="2.1"/><rect x="1498.95" y="501.75" width="2.1" height="2.1"/><rect x="1506.55" y="501.75" width="2.1" height="2.1"/><rect x="1514.15" y="501.75" width="2.1" height="2.1"/><rect x="1521.75" y="501.75" width="2.1" height="2.1"/><rect x="1529.35" y="501.75" width="2.1" height="2.1"/><rect x="1536.95" y="501.75" width="2.1" height="2.1"/><rect x="1544.55" y="501.75" width="2.1" height="2.1"/><rect x="1552.15" y="501.75" width="2.1" height="2.1"/><rect x="1559.75" y="501.75" width="2.1" height="2.1"/><rect x="1567.35" y="501.75" width="2.1" height="2.1"/><rect x="1574.95" y="501.75" width="2.1" height="2.1"/><rect x="1582.55" y="501.75" width="2.1" height="2.1"/><rect x="1590.15" y="501.75" width="2.1" height="2.1"/><rect x="1597.75" y="501.75" width="2.1" height="2.1"/><rect x="1605.35" y="501.75" width="2.1" height="2.1"/><rect x="1612.95" y="501.75" width="2.1" height="2.1"/><rect x="1620.55" y="501.75" width="2.1" height="2.1"/><rect x="1628.15" y="501.75" width="2.1" height="2.1"/><rect x="1635.75" y="501.75" width="2.1" height="2.1"/><rect x="1643.35" y="501.75" width="2.1" height="2.1"/><rect x="1650.95" y="501.75" width="2.1" height="2.1"/><rect x="1658.55" y="501.75" width="2.1" height="2.1"/><rect x="1666.15" y="501.75" width="2.1" height="2.1"/><rect x="1673.75" y="501.75" width="2.1" height="2.1"/><rect x="1681.35" y="501.75" width="2.1" height="2.1"/><rect x="1688.95" y="501.75" width="2.1" height="2.1"/><rect x="1696.55" y="501.75" width="2.1" height="2.1"/><rect x="1704.15" y="501.75" width="2.1" height="2.1"/><rect x="1711.75" y="501.75" width="2.1" height="2.1"/><rect x="1719.35" y="501.75" width="2.1" height="2.1"/><rect x="1726.95" y="501.75" width="2.1" height="2.1"/><rect x="1734.55" y="501.75" width="2.1" height="2.1"/><rect x="1742.15" y="501.75" width="2.1" height="2.1"/><rect x="1749.75" y="501.75" width="2.1" height="2.1"/><rect x="1757.35" y="501.75" width="2.1" height="2.1"/><rect x="1764.95" y="501.75" width="2.1" height="2.1"/><rect x="1772.55" y="501.75" width="2.1" height="2.1"/><rect x="1780.15" y="501.75" width="2.1" height="2.1"/><rect x="1787.75" y="501.75" width="2.1" height="2.1"/><rect x="1795.35" y="501.75" width="2.1" height="2.1"/><rect x="894.75" y="505.55" width="2.1" height="2.1"/><rect x="902.35" y="505.55" width="2.1" height="2.1"/><rect x="909.95" y="505.55" width="2.1" height="2.1"/><rect x="917.55" y="505.55" width="2.1" height="2.1"/><rect x="925.15" y="505.55" width="2.1" height="2.1"/><rect x="932.75" y="505.55" width="2.1" height="2.1"/><rect x="940.35" y="505.55" width="2.1" height="2.1"/><rect x="947.95" y="505.55" width="2.1" height="2.1"/><rect x="955.55" y="505.55" width="2.1" height="2.1"/><rect x="963.15" y="505.55" width="2.1" height="2.1"/><rect x="970.75" y="505.55" width="2.1" height="2.1"/><rect x="978.35" y="505.55" width="2.1" height="2.1"/><rect x="985.95" y="505.55" width="2.1" height="2.1"/><rect x="993.55" y="505.55" width="2.1" height="2.1"/><rect x="1001.15" y="505.55" width="2.1" height="2.1"/><rect x="1008.75" y="505.55" width="2.1" height="2.1"/><rect x="1016.35" y="505.55" width="2.1" height="2.1"/><rect x="1023.95" y="505.55" width="2.1" height="2.1"/><rect x="1031.55" y="505.55" width="2.1" height="2.1"/><rect x="1039.15" y="505.55" width="2.1" height="2.1"/><rect x="1046.75" y="505.55" width="2.1" height="2.1"/><rect x="1054.35" y="505.55" width="2.1" height="2.1"/><rect x="1061.95" y="505.55" width="2.1" height="2.1"/><rect x="1069.55" y="505.55" width="2.1" height="2.1"/><rect x="1077.15" y="505.55" width="2.1" height="2.1"/><rect x="1084.75" y="505.55" width="2.1" height="2.1"/><rect x="1092.35" y="505.55" width="2.1" height="2.1"/><rect x="1099.95" y="505.55" width="2.1" height="2.1"/><rect x="1107.55" y="505.55" width="2.1" height="2.1"/><rect x="1115.15" y="505.55" width="2.1" height="2.1"/><rect x="1122.75" y="505.55" width="2.1" height="2.1"/><rect x="1130.35" y="505.55" width="2.1" height="2.1"/><rect x="1137.95" y="505.55" width="2.1" height="2.1"/><rect x="1145.55" y="505.55" width="2.1" height="2.1"/><rect x="1153.15" y="505.55" width="2.1" height="2.1"/><rect x="1160.75" y="505.55" width="2.1" height="2.1"/><rect x="1168.35" y="505.55" width="2.1" height="2.1"/><rect x="1175.95" y="505.55" width="2.1" height="2.1"/><rect x="1183.55" y="505.55" width="2.1" height="2.1"/><rect x="1191.15" y="505.55" width="2.1" height="2.1"/><rect x="1198.75" y="505.55" width="2.1" height="2.1"/><rect x="1206.35" y="505.55" width="2.1" height="2.1"/><rect x="1213.95" y="505.55" width="2.1" height="2.1"/><rect x="1221.55" y="505.55" width="2.1" height="2.1"/><rect x="1229.15" y="505.55" width="2.1" height="2.1"/><rect x="1236.75" y="505.55" width="2.1" height="2.1"/><rect x="1244.35" y="505.55" width="2.1" height="2.1"/><rect x="1251.95" y="505.55" width="2.1" height="2.1"/><rect x="1259.55" y="505.55" width="2.1" height="2.1"/><rect x="1267.15" y="505.55" width="2.1" height="2.1"/><rect x="1274.75" y="505.55" width="2.1" height="2.1"/><rect x="1282.35" y="505.55" width="2.1" height="2.1"/><rect x="1289.95" y="505.55" width="2.1" height="2.1"/><rect x="1297.55" y="505.55" width="2.1" height="2.1"/><rect x="1305.15" y="505.55" width="2.1" height="2.1"/><rect x="1312.75" y="505.55" width="2.1" height="2.1"/><rect x="1320.35" y="505.55" width="2.1" height="2.1"/><rect x="1327.95" y="505.55" width="2.1" height="2.1"/><rect x="1335.55" y="505.55" width="2.1" height="2.1"/><rect x="1343.15" y="505.55" width="2.1" height="2.1"/><rect x="1350.75" y="505.55" width="2.1" height="2.1"/><rect x="1358.35" y="505.55" width="2.1" height="2.1"/><rect x="1365.95" y="505.55" width="2.1" height="2.1"/><rect x="1373.55" y="505.55" width="2.1" height="2.1"/><rect x="1381.15" y="505.55" width="2.1" height="2.1"/><rect x="1388.75" y="505.55" width="2.1" height="2.1"/><rect x="1396.35" y="505.55" width="2.1" height="2.1"/><rect x="1403.95" y="505.55" width="2.1" height="2.1"/><rect x="1411.55" y="505.55" width="2.1" height="2.1"/><rect x="1419.15" y="505.55" width="2.1" height="2.1"/><rect x="1426.75" y="505.55" width="2.1" height="2.1"/><rect x="1434.35" y="505.55" width="2.1" height="2.1"/><rect x="1441.95" y="505.55" width="2.1" height="2.1"/><rect x="1449.55" y="505.55" width="2.1" height="2.1"/><rect x="1457.15" y="505.55" width="2.1" height="2.1"/><rect x="1464.75" y="505.55" width="2.1" height="2.1"/><rect x="1472.35" y="505.55" width="2.1" height="2.1"/><rect x="1479.95" y="505.55" width="2.1" height="2.1"/><rect x="1487.55" y="505.55" width="2.1" height="2.1"/><rect x="1495.15" y="505.55" width="2.1" height="2.1"/><rect x="1502.75" y="505.55" width="2.1" height="2.1"/><rect x="1510.35" y="505.55" width="2.1" height="2.1"/><rect x="1517.95" y="505.55" width="2.1" height="2.1"/><rect x="1525.55" y="505.55" width="2.1" height="2.1"/><rect x="1533.15" y="505.55" width="2.1" height="2.1"/><rect x="1540.75" y="505.55" width="2.1" height="2.1"/><rect x="1548.35" y="505.55" width="2.1" height="2.1"/><rect x="1555.95" y="505.55" width="2.1" height="2.1"/><rect x="1563.55" y="505.55" width="2.1" height="2.1"/><rect x="1571.15" y="505.55" width="2.1" height="2.1"/><rect x="1578.75" y="505.55" width="2.1" height="2.1"/><rect x="1586.35" y="505.55" width="2.1" height="2.1"/><rect x="1593.95" y="505.55" width="2.1" height="2.1"/><rect x="1601.55" y="505.55" width="2.1" height="2.1"/><rect x="1609.15" y="505.55" width="2.1" height="2.1"/><rect x="1616.75" y="505.55" width="2.1" height="2.1"/><rect x="1624.35" y="505.55" width="2.1" height="2.1"/><rect x="1631.95" y="505.55" width="2.1" height="2.1"/><rect x="1639.55" y="505.55" width="2.1" height="2.1"/><rect x="1647.15" y="505.55" width="2.1" height="2.1"/><rect x="1654.75" y="505.55" width="2.1" height="2.1"/><rect x="1662.35" y="505.55" width="2.1" height="2.1"/><rect x="1669.95" y="505.55" width="2.1" height="2.1"/><rect x="1677.55" y="505.55" width="2.1" height="2.1"/><rect x="1685.15" y="505.55" width="2.1" height="2.1"/><rect x="1692.75" y="505.55" width="2.1" height="2.1"/><rect x="1700.35" y="505.55" width="2.1" height="2.1"/><rect x="1707.95" y="505.55" width="2.1" height="2.1"/><rect x="1715.55" y="505.55" width="2.1" height="2.1"/><rect x="1723.15" y="505.55" width="2.1" height="2.1"/><rect x="1730.75" y="505.55" width="2.1" height="2.1"/><rect x="1738.35" y="505.55" width="2.1" height="2.1"/><rect x="1745.95" y="505.55" width="2.1" height="2.1"/><rect x="1753.55" y="505.55" width="2.1" height="2.1"/><rect x="1761.15" y="505.55" width="2.1" height="2.1"/><rect x="1768.75" y="505.55" width="2.1" height="2.1"/><rect x="1776.35" y="505.55" width="2.1" height="2.1"/><rect x="1783.95" y="505.55" width="2.1" height="2.1"/><rect x="1791.55" y="505.55" width="2.1" height="2.1"/><rect x="1799.15" y="505.55" width="2.1" height="2.1"/></g>
<path d="M925.7 454.6 L1343.6 454.6 L1343.6 494 C1320 494 1290 493 1260 491 C1220 488 1200 486 1150 484.6 C1100 484 1060 485.5 1020 491.7 C1000 494 990 496 984.7 496.3 C970 500 960 503.2 945 503 C935 500 928 490 926.5 475 Z" stroke="#000" stroke-width="2.05" fill="none" />
<rect x="955.8" y="455" width="358" height="6.7" fill="#fff" stroke="#000" stroke-width="1.4"/>
<line x1="912" y1="454.6" x2="1344" y2="454.6" stroke="#000" stroke-width="2.25" stroke-linecap="butt"/>
<path d="M946.3 451 L946.3 476 Q946.3 480 941.3 480 L937.3 475" stroke="#000" stroke-width="4.95" fill="none" />
<path d="M1320.5 451 L1320.5 476 Q1320.5 480 1325.5 480 L1329.5 475" stroke="#000" stroke-width="4.95" fill="none" />
<g transform="translate(1427 213) scale(0.93) translate(-573.5 -170.4)">
<path d="M573.5 170.4 L598 168 L645 167.3 L676.5 175.6 L702.5 188.7 L728.6 207 L749.5 225 L758.6 240.8 L763.8 251 L766.4 267 L762.5 280 L760 306 L749.5 332 L736.4 353 L720 359 L708 369 L681 382.4 L610 382.4 L590 372.7 L561.7 350 L548.7 326.9 L542.2 290.4 L542.2 264.3 L546 233 L554 207 L564.3 186 Z" stroke="#000" stroke-width="1.45" fill="none" />
<line x1="572.2" y1="170.4" x2="572.2" y2="316.5" stroke="#000" stroke-width="2.65" stroke-linecap="butt"/>
<line x1="590.4" y1="208" x2="590.4" y2="316.5" stroke="#000" stroke-width="1.65" stroke-linecap="butt"/>
<line x1="576" y1="171.5" x2="591" y2="207.5" stroke="#000" stroke-width="1.45" stroke-linecap="butt"/>
<line x1="580" y1="170.6" x2="594.5" y2="208.2" stroke="#000" stroke-width="1.45" stroke-linecap="butt"/>
<line x1="594.3" y1="208.2" x2="594.3" y2="311" stroke="#000" stroke-width="1.45" stroke-linecap="butt"/>
<circle cx="612.6" cy="188.7" r="10.2" stroke="#000" stroke-width="1.65" fill="none"/>
<line x1="612.6" y1="178.5" x2="612.6" y2="198.9" stroke="#000" stroke-width="1.45" stroke-linecap="butt"/>
<line x1="602.4" y1="188.7" x2="622.8" y2="188.7" stroke="#000" stroke-width="1.45" stroke-linecap="butt"/>
<line x1="610" y1="199" x2="610" y2="334.7" stroke="#000" stroke-width="1.65" stroke-linecap="butt"/>
<line x1="615" y1="199" x2="615" y2="334.7" stroke="#000" stroke-width="1.65" stroke-linecap="butt"/>
<rect x="595.6" y="216" width="88.7" height="9.2" stroke="#000" stroke-width="1.45" fill="none"/>
<rect x="645" y="214.5" width="22" height="2" fill="#000"/>
<line x1="595.6" y1="225.2" x2="595.6" y2="302" stroke="#000" stroke-width="1.65" stroke-linecap="butt"/>
<line x1="632" y1="225.2" x2="632" y2="302" stroke="#000" stroke-width="1.65" stroke-linecap="butt"/>
<line x1="642.5" y1="225.2" x2="642.5" y2="302" stroke="#000" stroke-width="1.65" stroke-linecap="butt"/>
<line x1="647.8" y1="225.2" x2="647.8" y2="310" stroke="#000" stroke-width="1.65" stroke-linecap="butt"/>
<rect x="604" y="233" width="3" height="3" fill="#000"/>
<ellipse cx="612.5" cy="237.6" rx="10.5" ry="1.9" fill="#000"/>
<ellipse cx="612.5" cy="243.7" rx="10.5" ry="1.9" fill="#000"/>
<ellipse cx="612.5" cy="249.8" rx="10.5" ry="1.9" fill="#000"/>
<ellipse cx="612.5" cy="255.9" rx="10.5" ry="1.9" fill="#000"/>
<ellipse cx="612.5" cy="262" rx="10.5" ry="1.9" fill="#000"/>
<ellipse cx="612.5" cy="268.1" rx="10.5" ry="1.9" fill="#000"/>
<ellipse cx="612.5" cy="274.2" rx="10.5" ry="1.9" fill="#000"/>
<ellipse cx="612.5" cy="280.3" rx="10.5" ry="1.9" fill="#000"/>
<ellipse cx="612.5" cy="286.4" rx="10.5" ry="1.9" fill="#000"/>
<ellipse cx="612.5" cy="292.5" rx="10.5" ry="1.9" fill="#000"/>
<rect x="600" y="295.6" width="43" height="5" fill="#000"/>
<rect x="633" y="238" width="4" height="6" fill="#000"/>
<path d="M647.8 225.2 L702.5 225.2 L760 240.8" stroke="#000" stroke-width="1.45" fill="none" stroke-linejoin="miter"/>
<path d="M647.8 234.3 L760 251" stroke="#000" stroke-width="1.45" fill="none" stroke-linejoin="miter"/>
<path d="M652 236 L702.5 250 L715 252.6" stroke="#000" stroke-width="1.45" fill="none" stroke-linejoin="miter"/>
<line x1="650" y1="252.6" x2="760" y2="252.6" stroke="#000" stroke-width="1.45" stroke-linecap="butt"/>
<line x1="650" y1="280" x2="760" y2="280" stroke="#000" stroke-width="1.45" stroke-linecap="butt"/>
<line x1="650" y1="283.9" x2="760" y2="283.9" stroke="#000" stroke-width="1.35" stroke-dasharray="20 3 3 3" stroke-linecap="butt"/>
<line x1="650" y1="287.8" x2="760" y2="287.8" stroke="#000" stroke-width="1.45" stroke-linecap="butt"/>
<line x1="650" y1="298.2" x2="760" y2="298.2" stroke="#000" stroke-width="1.45" stroke-linecap="butt"/>
<line x1="647.8" y1="307.3" x2="760" y2="307.3" stroke="#000" stroke-width="1.45" stroke-linecap="butt"/>
<line x1="649" y1="252.6" x2="649" y2="310" stroke="#000" stroke-width="1.65" stroke-linecap="butt"/>
<line x1="640" y1="265" x2="652" y2="252" stroke="#000" stroke-width="1.65" stroke-linecap="butt"/>
<rect x="580" y="311" width="104" height="9" stroke="#000" stroke-width="1.45" fill="none"/>
<rect x="633" y="319" width="22" height="3" fill="#000"/>
<line x1="572.2" y1="316.5" x2="684" y2="316.5" stroke="#000" stroke-width="1.65" stroke-linecap="butt"/>
<rect x="586.5" y="325.6" width="22" height="7.8" stroke="#000" stroke-width="1.85" fill="none"/>
<rect x="590" y="327" width="4" height="5" fill="#000"/>
<line x1="572.2" y1="316.5" x2="572.2" y2="334.7" stroke="#000" stroke-width="1.65" stroke-linecap="butt"/>
<line x1="615" y1="316.5" x2="615" y2="355.6" stroke="#000" stroke-width="1.65" stroke-linecap="butt"/>
<line x1="545" y1="334.7" x2="615" y2="334.7" stroke="#000" stroke-width="1.65" stroke-linecap="butt"/>
<line x1="549" y1="346.4" x2="748" y2="346.4" stroke="#000" stroke-width="1.45" stroke-linecap="butt"/>
<line x1="556" y1="355.6" x2="742" y2="355.6" stroke="#000" stroke-width="1.45" stroke-linecap="butt"/>
<line x1="575" y1="368.9" x2="707" y2="368.9" stroke="#000" stroke-width="1.35" stroke-dasharray="28 4 4 4" stroke-linecap="butt"/>
<path d="M610 382.4 L617 386.6 L628.6 386.6 L628.6 388.6 L635.5 388.6 L638 383.5" stroke="#000" stroke-width="1.45" fill="none" stroke-linejoin="miter"/>
<path d="M641 382.6 L641.7 391.3 L649.4 391.3 L650.2 388.2 L664 388.2 L676.4 382.8" stroke="#000" stroke-width="1.45" fill="none" stroke-linejoin="miter"/>
</g>
<text transform="translate(1465.00 179.00) scale(1.0075 1.2319)" font-family="Liberation Sans" font-size="20" font-weight="normal" fill="#000">A</text>
<text transform="translate(1574.00 136.79) scale(0.8649 1.0704)" font-family="Liberation Sans" font-size="20" font-weight="normal" fill="#000">6</text>
<text transform="translate(1575.00 163.00) scale(0.8559 1.0870)" font-family="Liberation Sans" font-size="20" font-weight="normal" fill="#000">7</text>
<text transform="translate(1575.00 187.77) scale(0.8559 1.1429)" font-family="Liberation Sans" font-size="20" font-weight="normal" fill="#000">5</text>
<path d="M1588 142 L1569 142 L1488 258" stroke="#000" stroke-width="1.65" fill="none" stroke-linejoin="miter"/>
<path d="M1588 167.5 L1569 167.5 L1497 270" stroke="#000" stroke-width="1.65" fill="none" stroke-linejoin="miter"/>
<path d="M1589 191 L1569 191 L1485.5 307.5" stroke="#000" stroke-width="1.65" fill="none" stroke-linejoin="miter"/>
<path d="M1490 487 C1486.1 489.17 1478.6 493.5 1474.6 499.5 C1470.6 505.5 1467.1 516.47 1466 523 C1464.9 529.53 1465.7 532.83 1468 538.7 C1470.3 544.57 1473.72 554.52 1479.8 558.2 C1485.88 561.88 1496.9 563.18 1504.5 560.8 C1512.1 558.42 1520.62 550.2 1525.4 543.9 C1530.18 537.6 1532.77 529.52 1533.2 523 C1533.63 516.48 1531.7 510.02 1528 504.8 C1524.3 499.58 1516 494.75 1511 491.7 C1506 488.65 1501.5 487.28 1498 486.5 C1494.5 485.72 1493.9 484.83 1490 487 Z" stroke="#000" stroke-width="1.45" fill="none" />
<rect x="1485" y="507.5" width="23" height="35.5" fill="#111"/>
<clipPath id="bbh"><path d="M1468 511 L1487.6 511 L1487.6 529.5 L1467 529.5 Z M1503 511 L1513 511 L1513 529.5 L1503 529.5 Z M1508.5 529.5 L1517.6 529.5 L1517.6 557 L1508.5 557 Z"/></clipPath>
<path d="M1468 511 L1487.6 511 L1487.6 529.5 L1467 529.5 Z M1503 511 L1513 511 L1513 529.5 L1503 529.5 Z M1508.5 529.5 L1517.6 529.5 L1517.6 557 L1508.5 557 Z" fill="#fff"/>
<g clip-path="url(#bbh)" stroke="#000" stroke-width="0.9"><line x1="1385" y1="505" x2="1440" y2="560"/><line x1="1415" y1="505" x2="1360" y2="560"/><line x1="1388.2" y1="505" x2="1443.2" y2="560"/><line x1="1418.2" y1="505" x2="1363.2" y2="560"/><line x1="1391.4" y1="505" x2="1446.4" y2="560"/><line x1="1421.4" y1="505" x2="1366.4" y2="560"/><line x1="1394.6" y1="505" x2="1449.6" y2="560"/><line x1="1424.6" y1="505" x2="1369.6" y2="560"/><line x1="1397.8" y1="505" x2="1452.8" y2="560"/><line x1="1427.8" y1="505" x2="1372.8" y2="560"/><line x1="1401" y1="505" x2="1456" y2="560"/><line x1="1431" y1="505" x2="1376" y2="560"/><line x1="1404.2" y1="505" x2="1459.2" y2="560"/><line x1="1434.2" y1="505" x2="1379.2" y2="560"/><line x1="1407.4" y1="505" x2="1462.4" y2="560"/><line x1="1437.4" y1="505" x2="1382.4" y2="560"/><line x1="1410.6" y1="505" x2="1465.6" y2="560"/><line x1="1440.6" y1="505" x2="1385.6" y2="560"/><line x1="1413.8" y1="505" x2="1468.8" y2="560"/><line x1="1443.8" y1="505" x2="1388.8" y2="560"/><line x1="1417" y1="505" x2="1472" y2="560"/><line x1="1447" y1="505" x2="1392" y2="560"/><line x1="1420.2" y1="505" x2="1475.2" y2="560"/><line x1="1450.2" y1="505" x2="1395.2" y2="560"/><line x1="1423.4" y1="505" x2="1478.4" y2="560"/><line x1="1453.4" y1="505" x2="1398.4" y2="560"/><line x1="1426.6" y1="505" x2="1481.6" y2="560"/><line x1="1456.6" y1="505" x2="1401.6" y2="560"/><line x1="1429.8" y1="505" x2="1484.8" y2="560"/><line x1="1459.8" y1="505" x2="1404.8" y2="560"/><line x1="1433" y1="505" x2="1488" y2="560"/><line x1="1463" y1="505" x2="1408" y2="560"/><line x1="1436.2" y1="505" x2="1491.2" y2="560"/><line x1="1466.2" y1="505" x2="1411.2" y2="560"/><line x1="1439.4" y1="505" x2="1494.4" y2="560"/><line x1="1469.4" y1="505" x2="1414.4" y2="560"/><line x1="1442.6" y1="505" x2="1497.6" y2="560"/><line x1="1472.6" y1="505" x2="1417.6" y2="560"/><line x1="1445.8" y1="505" x2="1500.8" y2="560"/><line x1="1475.8" y1="505" x2="1420.8" y2="560"/><line x1="1449" y1="505" x2="1504" y2="560"/><line x1="1479" y1="505" x2="1424" y2="560"/><line x1="1452.2" y1="505" x2="1507.2" y2="560"/><line x1="1482.2" y1="505" x2="1427.2" y2="560"/><line x1="1455.4" y1="505" x2="1510.4" y2="560"/><line x1="1485.4" y1="505" x2="1430.4" y2="560"/><line x1="1458.6" y1="505" x2="1513.6" y2="560"/><line x1="1488.6" y1="505" x2="1433.6" y2="560"/><line x1="1461.8" y1="505" x2="1516.8" y2="560"/><line x1="1491.8" y1="505" x2="1436.8" y2="560"/><line x1="1465" y1="505" x2="1520" y2="560"/><line x1="1495" y1="505" x2="1440" y2="560"/><line x1="1468.2" y1="505" x2="1523.2" y2="560"/><line x1="1498.2" y1="505" x2="1443.2" y2="560"/><line x1="1471.4" y1="505" x2="1526.4" y2="560"/><line x1="1501.4" y1="505" x2="1446.4" y2="560"/><line x1="1474.6" y1="505" x2="1529.6" y2="560"/><line x1="1504.6" y1="505" x2="1449.6" y2="560"/><line x1="1477.8" y1="505" x2="1532.8" y2="560"/><line x1="1507.8" y1="505" x2="1452.8" y2="560"/><line x1="1481" y1="505" x2="1536" y2="560"/><line x1="1511" y1="505" x2="1456" y2="560"/><line x1="1484.2" y1="505" x2="1539.2" y2="560"/><line x1="1514.2" y1="505" x2="1459.2" y2="560"/><line x1="1487.4" y1="505" x2="1542.4" y2="560"/><line x1="1517.4" y1="505" x2="1462.4" y2="560"/><line x1="1490.6" y1="505" x2="1545.6" y2="560"/><line x1="1520.6" y1="505" x2="1465.6" y2="560"/><line x1="1493.8" y1="505" x2="1548.8" y2="560"/><line x1="1523.8" y1="505" x2="1468.8" y2="560"/><line x1="1497" y1="505" x2="1552" y2="560"/><line x1="1527" y1="505" x2="1472" y2="560"/><line x1="1500.2" y1="505" x2="1555.2" y2="560"/><line x1="1530.2" y1="505" x2="1475.2" y2="560"/><line x1="1503.4" y1="505" x2="1558.4" y2="560"/><line x1="1533.4" y1="505" x2="1478.4" y2="560"/><line x1="1506.6" y1="505" x2="1561.6" y2="560"/><line x1="1536.6" y1="505" x2="1481.6" y2="560"/><line x1="1509.8" y1="505" x2="1564.8" y2="560"/><line x1="1539.8" y1="505" x2="1484.8" y2="560"/><line x1="1513" y1="505" x2="1568" y2="560"/><line x1="1543" y1="505" x2="1488" y2="560"/><line x1="1516.2" y1="505" x2="1571.2" y2="560"/><line x1="1546.2" y1="505" x2="1491.2" y2="560"/><line x1="1519.4" y1="505" x2="1574.4" y2="560"/><line x1="1549.4" y1="505" x2="1494.4" y2="560"/><line x1="1522.6" y1="505" x2="1577.6" y2="560"/><line x1="1552.6" y1="505" x2="1497.6" y2="560"/><line x1="1525.8" y1="505" x2="1580.8" y2="560"/><line x1="1555.8" y1="505" x2="1500.8" y2="560"/><line x1="1529" y1="505" x2="1584" y2="560"/><line x1="1559" y1="505" x2="1504" y2="560"/><line x1="1532.2" y1="505" x2="1587.2" y2="560"/><line x1="1562.2" y1="505" x2="1507.2" y2="560"/><line x1="1535.4" y1="505" x2="1590.4" y2="560"/><line x1="1565.4" y1="505" x2="1510.4" y2="560"/><line x1="1538.6" y1="505" x2="1593.6" y2="560"/><line x1="1568.6" y1="505" x2="1513.6" y2="560"/><line x1="1541.8" y1="505" x2="1596.8" y2="560"/><line x1="1571.8" y1="505" x2="1516.8" y2="560"/><line x1="1545" y1="505" x2="1600" y2="560"/><line x1="1575" y1="505" x2="1520" y2="560"/><line x1="1548.2" y1="505" x2="1603.2" y2="560"/><line x1="1578.2" y1="505" x2="1523.2" y2="560"/><line x1="1551.4" y1="505" x2="1606.4" y2="560"/><line x1="1581.4" y1="505" x2="1526.4" y2="560"/><line x1="1554.6" y1="505" x2="1609.6" y2="560"/><line x1="1584.6" y1="505" x2="1529.6" y2="560"/><line x1="1557.8" y1="505" x2="1612.8" y2="560"/><line x1="1587.8" y1="505" x2="1532.8" y2="560"/><line x1="1561" y1="505" x2="1616" y2="560"/><line x1="1591" y1="505" x2="1536" y2="560"/><line x1="1564.2" y1="505" x2="1619.2" y2="560"/><line x1="1594.2" y1="505" x2="1539.2" y2="560"/><line x1="1567.4" y1="505" x2="1622.4" y2="560"/><line x1="1597.4" y1="505" x2="1542.4" y2="560"/></g>
<path d="M1468 511 L1487.6 511 L1487.6 529.5 L1467 529.5 Z M1503 511 L1513 511 L1513 529.5 L1503 529.5 Z M1508.5 529.5 L1517.6 529.5 L1517.6 557 L1508.5 557 Z" stroke="#000" stroke-width="1.35" fill="none" />
<line x1="1467" y1="520.4" x2="1487.6" y2="520.4" stroke="#000" stroke-width="1.45" stroke-linecap="butt"/>
<rect x="1488" y="502" width="17" height="6" stroke="#000" stroke-width="1.65" fill="#fff"/>
<rect x="1490" y="508" width="13" height="34.6" stroke="#000" stroke-width="1.65" fill="#fff"/>
<line x1="1496.5" y1="502" x2="1496.5" y2="542.6" stroke="#000" stroke-width="1.35" stroke-linecap="butt"/>
<line x1="1517.6" y1="529.5" x2="1533" y2="529.5" stroke="#000" stroke-width="1.45" stroke-linecap="butt"/>
<text transform="translate(1475.20 474.80) scale(1.0678 1.0435)" font-family="Liberation Sans" font-size="20" font-weight="bold" fill="#000">Б-Б</text>
<text transform="translate(1550.00 467.60) scale(0.9459 0.9855)" font-family="Liberation Sans" font-size="20" font-weight="normal" fill="#000">4</text>
<path d="M1568.4 471.5 L1546.3 471.5 L1499.3 502" stroke="#000" stroke-width="1.45" fill="none" stroke-linejoin="miter"/>
<g transform="translate(1511.4 696) scale(0.935) translate(-668.6 -655.6)">
<path d="M600.9 582.5 L717.5 579.3 L771 601.4 L796.2 632.9 L802.5 658 L805.7 677 L749 777.9 L704.9 771.6 L619.8 757.4 L563 718 L541 696 L534.7 661.3 L537.8 629.8 L591.4 590.4 Z" stroke="#000" stroke-width="1.45" fill="none" />
<line x1="591.4" y1="590.4" x2="745.8" y2="590.4" stroke="#000" stroke-width="2.05" stroke-linecap="butt"/>
<path d="M618 590.4 L618 603 L771 603" stroke="#000" stroke-width="2.05" fill="none" stroke-linejoin="miter"/>
<rect x="640" y="603" width="110" height="11" stroke="#000" stroke-width="1.85" fill="none"/>
<line x1="665.5" y1="603" x2="665.5" y2="614" stroke="#000" stroke-width="1.65" stroke-linecap="butt"/>
<line x1="640" y1="612.4" x2="825" y2="612.4" stroke="#000" stroke-width="1.45" stroke-linecap="butt"/>
<line x1="640" y1="617.2" x2="825" y2="617.2" stroke="#000" stroke-width="1.45" stroke-linecap="butt"/>
<line x1="750.5" y1="603" x2="750.5" y2="636" stroke="#000" stroke-width="1.85" stroke-linecap="butt"/>
<rect x="656" y="617" width="25" height="8" stroke="#000" stroke-width="2.05" fill="none"/>
<rect x="637" y="625" width="63" height="11" stroke="#000" stroke-width="2.05" fill="none"/>
<rect x="569" y="608" width="20" height="10" stroke="#000" stroke-width="2.05" fill="none"/>
<rect x="566" y="618" width="27" height="10" stroke="#000" stroke-width="2.05" fill="none"/>
<line x1="574" y1="608" x2="574" y2="628" stroke="#000" stroke-width="1.65" stroke-linecap="butt"/>
<line x1="583" y1="608" x2="583" y2="628" stroke="#000" stroke-width="1.65" stroke-linecap="butt"/>
<rect x="558" y="630" width="44" height="6" stroke="#000" stroke-width="2.05" fill="none"/>
<line x1="538" y1="636" x2="800" y2="636" stroke="#000" stroke-width="1.85" stroke-linecap="butt"/>
<rect x="534" y="653.4" width="268" height="4.2" fill="#000"/>
<line x1="535" y1="661.3" x2="700" y2="661.3" stroke="#000" stroke-width="1.85" stroke-linecap="butt"/>
<line x1="536" y1="672.3" x2="637" y2="672.3" stroke="#000" stroke-width="1.85" stroke-linecap="butt"/>
<line x1="637" y1="661.3" x2="637" y2="672.3" stroke="#000" stroke-width="1.85" stroke-linecap="butt"/>
<rect x="656" y="658" width="44" height="8" stroke="#000" stroke-width="1.85" fill="none"/>
<rect x="564.6" y="674" width="28" height="11" stroke="#000" stroke-width="2.25" fill="none"/>
<line x1="578" y1="678" x2="578" y2="685" stroke="#000" stroke-width="1.65" stroke-linecap="butt"/>
<line x1="572" y1="674" x2="572" y2="685" stroke="#000" stroke-width="1.65" stroke-linecap="butt"/>
<line x1="585" y1="674" x2="585" y2="685" stroke="#000" stroke-width="1.65" stroke-linecap="butt"/>
<line x1="577" y1="606" x2="577" y2="685" stroke="#000" stroke-width="1.45" stroke-linecap="butt"/>
<line x1="668.6" y1="617" x2="668.6" y2="775" stroke="#000" stroke-width="1.45" stroke-linecap="butt"/>
<line x1="541" y1="692.8" x2="602.4" y2="692.8" stroke="#000" stroke-width="1.85" stroke-linecap="butt"/>
<line x1="602.4" y1="692.8" x2="602.4" y2="750" stroke="#000" stroke-width="1.85" stroke-linecap="butt"/>
<path d="M656 666 L656 769 L681 769 L681 666" stroke="#000" stroke-width="2.05" fill="none" stroke-linejoin="miter"/>
<line x1="656" y1="700.7" x2="681" y2="700.7" stroke="#000" stroke-width="1.45" stroke-linecap="butt"/>
<line x1="706.4" y1="658" x2="706.4" y2="772" stroke="#000" stroke-width="2.05" stroke-linecap="butt"/>
<rect x="691" y="674" width="12" height="23" stroke="#000" stroke-width="2.25" fill="none"/>
<line x1="696" y1="676" x2="696" y2="695" stroke="#000" stroke-width="1.45" stroke-linecap="butt"/>
<line x1="691" y1="685" x2="703" y2="685" stroke="#000" stroke-width="1.45" stroke-linecap="butt"/>
<rect x="703" y="675" width="2" height="20" fill="#000"/>
<path d="M657 763 Q668 752 681 763" stroke="#000" stroke-width="1.85" fill="none" />
</g>
<text transform="translate(1491.00 604.00) scale(1.2030 1.4493)" font-family="Liberation Sans" font-size="20" font-weight="normal" fill="#000">B</text>
<text transform="translate(1642.50 625.00) rotate(-90) scale(1.0283 0.9643)" font-family="Liberation Sans" font-size="20" font-weight="normal" fill="#000">2...4</text>
<line x1="1648.5" y1="570" x2="1648.5" y2="715" stroke="#000" stroke-width="1.45" stroke-linecap="butt"/>
<path d="M1648.8 651 L1652.5 647.5 L1652.5 627 L1649.4 625 L1647.6 625 L1644.5 627 L1644.5 647.5 L1648.2 651 Z" fill="#000" stroke="#000" stroke-width="0.5"/>
<path d="M1648.8 657 L1652.5 660.5 L1652.5 682 L1649.4 684 L1647.6 684 L1644.5 682 L1644.5 660.5 L1648.2 657 Z" fill="#000" stroke="#000" stroke-width="0.5"/>
<text transform="translate(1404.00 797.77) scale(0.9910 1.1268)" font-family="Liberation Sans" font-size="20" font-weight="normal" fill="#000">9</text>
<path d="M1396 805 L1450 805 L1504 757" stroke="#000" stroke-width="1.45" fill="none" stroke-linejoin="miter"/>
<clipPath id="sc5"><path d="M957.33 581.44 A105 105 0 0 1 1110 675 L1077 675 A72 72 0 0 0 972.31 610.85 Z"/></clipPath><g clip-path="url(#sc5)" stroke="#000" stroke-width="1.5"><line x1="890" y1="560" x2="660" y2="790"/><line x1="901.46" y1="560" x2="671.46" y2="790"/><line x1="912.91" y1="560" x2="682.91" y2="790"/><line x1="924.37" y1="560" x2="694.37" y2="790"/><line x1="935.82" y1="560" x2="705.82" y2="790"/><line x1="947.28" y1="560" x2="717.28" y2="790"/><line x1="958.73" y1="560" x2="728.73" y2="790"/><line x1="970.19" y1="560" x2="740.19" y2="790"/><line x1="981.64" y1="560" x2="751.64" y2="790"/><line x1="993.1" y1="560" x2="763.1" y2="790"/><line x1="1004.55" y1="560" x2="774.55" y2="790"/><line x1="1016.01" y1="560" x2="786.01" y2="790"/><line x1="1027.46" y1="560" x2="797.46" y2="790"/><line x1="1038.92" y1="560" x2="808.92" y2="790"/><line x1="1050.37" y1="560" x2="820.37" y2="790"/><line x1="1061.83" y1="560" x2="831.83" y2="790"/><line x1="1073.28" y1="560" x2="843.28" y2="790"/><line x1="1084.74" y1="560" x2="854.74" y2="790"/><line x1="1096.19" y1="560" x2="866.19" y2="790"/><line x1="1107.65" y1="560" x2="877.65" y2="790"/><line x1="1119.1" y1="560" x2="889.1" y2="790"/><line x1="1130.56" y1="560" x2="900.56" y2="790"/><line x1="1142.01" y1="560" x2="912.01" y2="790"/><line x1="1153.47" y1="560" x2="923.47" y2="790"/><line x1="1164.92" y1="560" x2="934.92" y2="790"/><line x1="1176.38" y1="560" x2="946.38" y2="790"/><line x1="1187.83" y1="560" x2="957.83" y2="790"/><line x1="1199.29" y1="560" x2="969.29" y2="790"/><line x1="1210.74" y1="560" x2="980.74" y2="790"/><line x1="1222.2" y1="560" x2="992.2" y2="790"/><line x1="1233.65" y1="560" x2="1003.65" y2="790"/><line x1="1245.11" y1="560" x2="1015.11" y2="790"/><line x1="1256.56" y1="560" x2="1026.56" y2="790"/><line x1="1268.02" y1="560" x2="1038.02" y2="790"/><line x1="1279.47" y1="560" x2="1049.47" y2="790"/><line x1="1290.93" y1="560" x2="1060.93" y2="790"/><line x1="1302.38" y1="560" x2="1072.38" y2="790"/><line x1="1313.84" y1="560" x2="1083.84" y2="790"/><line x1="1325.29" y1="560" x2="1095.29" y2="790"/><line x1="1336.75" y1="560" x2="1106.75" y2="790"/><line x1="1348.2" y1="560" x2="1118.2" y2="790"/><line x1="1359.66" y1="560" x2="1129.66" y2="790"/></g>
<path d="M957.33 581.44 A105 105 0 0 1 1110 675 L1077 675 A72 72 0 0 0 972.31 610.85 Z" stroke="#000" stroke-width="1.65" fill="none" />
<clipPath id="sc6"><path d="M957.33 789.56 A105 105 0 0 0 1110 696 L1077 696 A72 72 0 0 1 972.31 760.15 Z"/></clipPath><g clip-path="url(#sc6)" stroke="#000" stroke-width="1.5"><line x1="890" y1="581" x2="660" y2="811"/><line x1="901.46" y1="581" x2="671.46" y2="811"/><line x1="912.91" y1="581" x2="682.91" y2="811"/><line x1="924.37" y1="581" x2="694.37" y2="811"/><line x1="935.82" y1="581" x2="705.82" y2="811"/><line x1="947.28" y1="581" x2="717.28" y2="811"/><line x1="958.73" y1="581" x2="728.73" y2="811"/><line x1="970.19" y1="581" x2="740.19" y2="811"/><line x1="981.64" y1="581" x2="751.64" y2="811"/><line x1="993.1" y1="581" x2="763.1" y2="811"/><line x1="1004.55" y1="581" x2="774.55" y2="811"/><line x1="1016.01" y1="581" x2="786.01" y2="811"/><line x1="1027.46" y1="581" x2="797.46" y2="811"/><line x1="1038.92" y1="581" x2="808.92" y2="811"/><line x1="1050.37" y1="581" x2="820.37" y2="811"/><line x1="1061.83" y1="581" x2="831.83" y2="811"/><line x1="1073.28" y1="581" x2="843.28" y2="811"/><line x1="1084.74" y1="581" x2="854.74" y2="811"/><line x1="1096.19" y1="581" x2="866.19" y2="811"/><line x1="1107.65" y1="581" x2="877.65" y2="811"/><line x1="1119.1" y1="581" x2="889.1" y2="811"/><line x1="1130.56" y1="581" x2="900.56" y2="811"/><line x1="1142.01" y1="581" x2="912.01" y2="811"/><line x1="1153.47" y1="581" x2="923.47" y2="811"/><line x1="1164.92" y1="581" x2="934.92" y2="811"/><line x1="1176.38" y1="581" x2="946.38" y2="811"/><line x1="1187.83" y1="581" x2="957.83" y2="811"/><line x1="1199.29" y1="581" x2="969.29" y2="811"/><line x1="1210.74" y1="581" x2="980.74" y2="811"/><line x1="1222.2" y1="581" x2="992.2" y2="811"/><line x1="1233.65" y1="581" x2="1003.65" y2="811"/><line x1="1245.11" y1="581" x2="1015.11" y2="811"/><line x1="1256.56" y1="581" x2="1026.56" y2="811"/><line x1="1268.02" y1="581" x2="1038.02" y2="811"/><line x1="1279.47" y1="581" x2="1049.47" y2="811"/><line x1="1290.93" y1="581" x2="1060.93" y2="811"/><line x1="1302.38" y1="581" x2="1072.38" y2="811"/><line x1="1313.84" y1="581" x2="1083.84" y2="811"/><line x1="1325.29" y1="581" x2="1095.29" y2="811"/><line x1="1336.75" y1="581" x2="1106.75" y2="811"/><line x1="1348.2" y1="581" x2="1118.2" y2="811"/><line x1="1359.66" y1="581" x2="1129.66" y2="811"/></g>
<path d="M957.33 789.56 A105 105 0 0 0 1110 696 L1077 696 A72 72 0 0 1 972.31 760.15 Z" stroke="#000" stroke-width="1.65" fill="none" />
<clipPath id="sc7"><path d="M1310.67 581.44 A105 105 0 0 0 1158 675 L1191 675 A72 72 0 0 1 1295.69 610.85 Z"/></clipPath><g clip-path="url(#sc7)" stroke="#000" stroke-width="1.5"><line x1="1148" y1="560" x2="918" y2="790"/><line x1="1159.46" y1="560" x2="929.46" y2="790"/><line x1="1170.91" y1="560" x2="940.91" y2="790"/><line x1="1182.37" y1="560" x2="952.37" y2="790"/><line x1="1193.82" y1="560" x2="963.82" y2="790"/><line x1="1205.28" y1="560" x2="975.28" y2="790"/><line x1="1216.73" y1="560" x2="986.73" y2="790"/><line x1="1228.19" y1="560" x2="998.19" y2="790"/><line x1="1239.64" y1="560" x2="1009.64" y2="790"/><line x1="1251.1" y1="560" x2="1021.1" y2="790"/><line x1="1262.55" y1="560" x2="1032.55" y2="790"/><line x1="1274.01" y1="560" x2="1044.01" y2="790"/><line x1="1285.46" y1="560" x2="1055.46" y2="790"/><line x1="1296.92" y1="560" x2="1066.92" y2="790"/><line x1="1308.37" y1="560" x2="1078.37" y2="790"/><line x1="1319.83" y1="560" x2="1089.83" y2="790"/><line x1="1331.28" y1="560" x2="1101.28" y2="790"/><line x1="1342.74" y1="560" x2="1112.74" y2="790"/><line x1="1354.19" y1="560" x2="1124.19" y2="790"/><line x1="1365.65" y1="560" x2="1135.65" y2="790"/><line x1="1377.1" y1="560" x2="1147.1" y2="790"/><line x1="1388.56" y1="560" x2="1158.56" y2="790"/><line x1="1400.01" y1="560" x2="1170.01" y2="790"/><line x1="1411.47" y1="560" x2="1181.47" y2="790"/><line x1="1422.92" y1="560" x2="1192.92" y2="790"/><line x1="1434.38" y1="560" x2="1204.38" y2="790"/><line x1="1445.83" y1="560" x2="1215.83" y2="790"/><line x1="1457.29" y1="560" x2="1227.29" y2="790"/><line x1="1468.74" y1="560" x2="1238.74" y2="790"/><line x1="1480.2" y1="560" x2="1250.2" y2="790"/><line x1="1491.65" y1="560" x2="1261.65" y2="790"/><line x1="1503.11" y1="560" x2="1273.11" y2="790"/><line x1="1514.56" y1="560" x2="1284.56" y2="790"/><line x1="1526.02" y1="560" x2="1296.02" y2="790"/><line x1="1537.47" y1="560" x2="1307.47" y2="790"/><line x1="1548.93" y1="560" x2="1318.93" y2="790"/><line x1="1560.38" y1="560" x2="1330.38" y2="790"/><line x1="1571.84" y1="560" x2="1341.84" y2="790"/><line x1="1583.29" y1="560" x2="1353.29" y2="790"/><line x1="1594.75" y1="560" x2="1364.75" y2="790"/><line x1="1606.2" y1="560" x2="1376.2" y2="790"/><line x1="1617.66" y1="560" x2="1387.66" y2="790"/></g>
<path d="M1310.67 581.44 A105 105 0 0 0 1158 675 L1191 675 A72 72 0 0 1 1295.69 610.85 Z" stroke="#000" stroke-width="1.65" fill="none" />
<clipPath id="sc8"><path d="M1310.67 789.56 A105 105 0 0 1 1158 696 L1191 696 A72 72 0 0 0 1295.69 760.15 Z"/></clipPath><g clip-path="url(#sc8)" stroke="#000" stroke-width="1.5"><line x1="1148" y1="581" x2="918" y2="811"/><line x1="1159.46" y1="581" x2="929.46" y2="811"/><line x1="1170.91" y1="581" x2="940.91" y2="811"/><line x1="1182.37" y1="581" x2="952.37" y2="811"/><line x1="1193.82" y1="581" x2="963.82" y2="811"/><line x1="1205.28" y1="581" x2="975.28" y2="811"/><line x1="1216.73" y1="581" x2="986.73" y2="811"/><line x1="1228.19" y1="581" x2="998.19" y2="811"/><line x1="1239.64" y1="581" x2="1009.64" y2="811"/><line x1="1251.1" y1="581" x2="1021.1" y2="811"/><line x1="1262.55" y1="581" x2="1032.55" y2="811"/><line x1="1274.01" y1="581" x2="1044.01" y2="811"/><line x1="1285.46" y1="581" x2="1055.46" y2="811"/><line x1="1296.92" y1="581" x2="1066.92" y2="811"/><line x1="1308.37" y1="581" x2="1078.37" y2="811"/><line x1="1319.83" y1="581" x2="1089.83" y2="811"/><line x1="1331.28" y1="581" x2="1101.28" y2="811"/><line x1="1342.74" y1="581" x2="1112.74" y2="811"/><line x1="1354.19" y1="581" x2="1124.19" y2="811"/><line x1="1365.65" y1="581" x2="1135.65" y2="811"/><line x1="1377.1" y1="581" x2="1147.1" y2="811"/><line x1="1388.56" y1="581" x2="1158.56" y2="811"/><line x1="1400.01" y1="581" x2="1170.01" y2="811"/><line x1="1411.47" y1="581" x2="1181.47" y2="811"/><line x1="1422.92" y1="581" x2="1192.92" y2="811"/><line x1="1434.38" y1="581" x2="1204.38" y2="811"/><line x1="1445.83" y1="581" x2="1215.83" y2="811"/><line x1="1457.29" y1="581" x2="1227.29" y2="811"/><line x1="1468.74" y1="581" x2="1238.74" y2="811"/><line x1="1480.2" y1="581" x2="1250.2" y2="811"/><line x1="1491.65" y1="581" x2="1261.65" y2="811"/><line x1="1503.11" y1="581" x2="1273.11" y2="811"/><line x1="1514.56" y1="581" x2="1284.56" y2="811"/><line x1="1526.02" y1="581" x2="1296.02" y2="811"/><line x1="1537.47" y1="581" x2="1307.47" y2="811"/><line x1="1548.93" y1="581" x2="1318.93" y2="811"/><line x1="1560.38" y1="581" x2="1330.38" y2="811"/><line x1="1571.84" y1="581" x2="1341.84" y2="811"/><line x1="1583.29" y1="581" x2="1353.29" y2="811"/><line x1="1594.75" y1="581" x2="1364.75" y2="811"/><line x1="1606.2" y1="581" x2="1376.2" y2="811"/><line x1="1617.66" y1="581" x2="1387.66" y2="811"/></g>
<path d="M1310.67 789.56 A105 105 0 0 1 1158 696 L1191 696 A72 72 0 0 0 1295.69 760.15 Z" stroke="#000" stroke-width="1.65" fill="none" />
<line x1="925" y1="524" x2="925" y2="649.5" stroke="#000" stroke-width="1.65" stroke-linecap="butt"/>
<line x1="1343.5" y1="524" x2="1343.5" y2="649.5" stroke="#000" stroke-width="1.65" stroke-linecap="butt"/>
<line x1="925" y1="649.5" x2="1343.5" y2="649.5" stroke="#000" stroke-width="1.65" stroke-linecap="butt"/>
<line x1="925" y1="720.5" x2="1343.5" y2="720.5" stroke="#000" stroke-width="1.65" stroke-linecap="butt"/>
<line x1="925" y1="720.5" x2="925" y2="783" stroke="#000" stroke-width="1.65" stroke-linecap="butt"/>
<line x1="1343.5" y1="720.5" x2="1343.5" y2="800" stroke="#000" stroke-width="1.65" stroke-linecap="butt"/>
<line x1="967.4" y1="590.4" x2="967.4" y2="649.5" stroke="#000" stroke-width="1.65" stroke-linecap="butt"/>
<line x1="908.7" y1="590.4" x2="967.4" y2="590.4" stroke="#000" stroke-width="1.45" stroke-linecap="butt"/>
<line x1="1300.6" y1="588.3" x2="1300.6" y2="649.5" stroke="#000" stroke-width="1.65" stroke-linecap="butt"/>
<line x1="1300.6" y1="588.3" x2="1343.5" y2="588.3" stroke="#000" stroke-width="1.45" stroke-linecap="butt"/>
<line x1="967.4" y1="720.5" x2="967.4" y2="783" stroke="#000" stroke-width="1.65" stroke-linecap="butt"/>
<line x1="908.7" y1="783" x2="967.4" y2="783" stroke="#000" stroke-width="1.45" stroke-linecap="butt"/>
<line x1="1300.6" y1="720.5" x2="1300.6" y2="780.5" stroke="#000" stroke-width="1.65" stroke-linecap="butt"/>
<line x1="1300.6" y1="780.5" x2="1343.5" y2="780.5" stroke="#000" stroke-width="1.45" stroke-linecap="butt"/>
<line x1="955" y1="666.8" x2="1315" y2="666.8" stroke="#000" stroke-width="1.65" stroke-linecap="butt"/>
<line x1="1020" y1="700" x2="1250" y2="700" stroke="#000" stroke-width="1.85" stroke-linecap="butt"/>
<line x1="1020" y1="703.2" x2="1250" y2="703.2" stroke="#000" stroke-width="2.25" stroke-linecap="butt"/>
<line x1="940" y1="685.5" x2="1330" y2="685.5" stroke="#000" stroke-width="1.35" stroke-dasharray="26 4 4 4" stroke-linecap="butt"/>
<rect x="938" y="601.3" width="17" height="170" stroke="#000" stroke-width="1.65" fill="none"/>
<rect x="1313" y="601.3" width="17" height="170" stroke="#000" stroke-width="1.65" fill="none"/>
<rect x="944" y="604.7" width="4" height="4" fill="#000"/>
<rect x="1320" y="604.7" width="4" height="4" fill="#000"/>
<rect x="944" y="637.3" width="4" height="4" fill="#000"/>
<rect x="1320" y="637.3" width="4" height="4" fill="#000"/>
<rect x="944" y="733" width="4" height="4" fill="#000"/>
<rect x="1320" y="733" width="4" height="4" fill="#000"/>
<rect x="944" y="764.4" width="4" height="4" fill="#000"/>
<rect x="1320" y="764.4" width="4" height="4" fill="#000"/>
<path d="M997.8 668.5 L954.3 673 L946.7 678.5 L945.7 685.3 L946.7 692.5 L954.3 697 L997.8 702" stroke="#000" stroke-width="1.65" fill="none" stroke-linejoin="miter"/>
<path d="M985 669 Q1003 685.5 985 701" stroke="#000" stroke-width="1.45" fill="none" />
<line x1="984.8" y1="661" x2="984.8" y2="701" stroke="#000" stroke-width="1.45" stroke-linecap="butt"/>
<rect x="954" y="667.8" width="4" height="4" fill="#000"/>
<rect x="952.3" y="699.3" width="4" height="4" fill="#000"/>
<path d="M1270.2 668.5 L1313.7 673 L1321.3 678.5 L1322.3 685.3 L1321.3 692.5 L1313.7 697 L1270.2 702" stroke="#000" stroke-width="1.65" fill="none" stroke-linejoin="miter"/>
<path d="M1283 669 Q1265 685.5 1283 701" stroke="#000" stroke-width="1.45" fill="none" />
<line x1="1283.2" y1="661" x2="1283.2" y2="701" stroke="#000" stroke-width="1.45" stroke-linecap="butt"/>
<rect x="1310" y="667.8" width="4" height="4" fill="#000"/>
<rect x="1311.7" y="699.3" width="4" height="4" fill="#000"/>
<line x1="984.8" y1="701" x2="984.8" y2="812" stroke="#000" stroke-width="1.45" stroke-linecap="butt"/>
<line x1="1284" y1="661.8" x2="1284" y2="820" stroke="#000" stroke-width="1.45" stroke-linecap="butt"/>
<g transform="">
<g transform="translate(1003 669) rotate(-42.3)">
<line x1="0" y1="-3.6" x2="88" y2="-3.6" stroke="#000" stroke-width="1.75" stroke-linecap="butt"/>
<line x1="6" y1="3.6" x2="88" y2="3.6" stroke="#000" stroke-width="1.75" stroke-linecap="butt"/>
<line x1="14" y1="-0.8" x2="82" y2="-0.8" stroke="#000" stroke-width="1.25" stroke-linecap="butt"/>
<rect x="12" y="-13.5" width="28" height="10" stroke="#000" stroke-width="3.05" fill="none" rx="2.5"/>
<line x1="17" y1="-6" x2="37" y2="-6" stroke="#000" stroke-width="1.35" stroke-linecap="butt"/>
<rect x="38" y="-5" width="17" height="12" stroke="#000" stroke-width="2.45" fill="none"/>
<line x1="44" y1="-5" x2="44" y2="7" stroke="#000" stroke-width="1.45" stroke-linecap="butt"/>
</g>
<circle cx="1059.8" cy="614.2" r="7.2" stroke="#000" stroke-width="1.85" fill="none"/>
<line x1="1052.6" y1="614.2" x2="1067" y2="614.2" stroke="#000" stroke-width="1.35" stroke-linecap="butt"/>
<line x1="1059.8" y1="607" x2="1059.8" y2="621.4" stroke="#000" stroke-width="1.35" stroke-linecap="butt"/>
<circle cx="1082.7" cy="605" r="7.5" stroke="#000" stroke-width="1.85" fill="none"/>
<line x1="1075.2" y1="605" x2="1090.2" y2="605" stroke="#000" stroke-width="1.35" stroke-linecap="butt"/>
<line x1="1082.7" y1="597.5" x2="1082.7" y2="612.5" stroke="#000" stroke-width="1.35" stroke-linecap="butt"/>
<circle cx="1072" cy="612" r="4.2" stroke="#000" stroke-width="1.85" fill="none"/>
<path d="M997.8 668.3 L1009.6 668.3 L1009.6 685.5" stroke="#000" stroke-width="1.75" fill="none" stroke-linejoin="miter"/>
<rect x="1002.4" y="673.5" width="4" height="4" fill="#000"/>
</g>
<g transform="translate(2268 0) scale(-1 1)">
<g transform="translate(1003 669) rotate(-42.3)">
<line x1="0" y1="-3.6" x2="88" y2="-3.6" stroke="#000" stroke-width="1.75" stroke-linecap="butt"/>
<line x1="6" y1="3.6" x2="88" y2="3.6" stroke="#000" stroke-width="1.75" stroke-linecap="butt"/>
<line x1="14" y1="-0.8" x2="82" y2="-0.8" stroke="#000" stroke-width="1.25" stroke-linecap="butt"/>
<rect x="12" y="-13.5" width="28" height="10" stroke="#000" stroke-width="3.05" fill="none" rx="2.5"/>
<line x1="17" y1="-6" x2="37" y2="-6" stroke="#000" stroke-width="1.35" stroke-linecap="butt"/>
<rect x="38" y="-5" width="17" height="12" stroke="#000" stroke-width="2.45" fill="none"/>
<line x1="44" y1="-5" x2="44" y2="7" stroke="#000" stroke-width="1.45" stroke-linecap="butt"/>
</g>
<circle cx="1059.8" cy="614.2" r="7.2" stroke="#000" stroke-width="1.85" fill="none"/>
<line x1="1052.6" y1="614.2" x2="1067" y2="614.2" stroke="#000" stroke-width="1.35" stroke-linecap="butt"/>
<line x1="1059.8" y1="607" x2="1059.8" y2="621.4" stroke="#000" stroke-width="1.35" stroke-linecap="butt"/>
<circle cx="1082.7" cy="605" r="7.5" stroke="#000" stroke-width="1.85" fill="none"/>
<line x1="1075.2" y1="605" x2="1090.2" y2="605" stroke="#000" stroke-width="1.35" stroke-linecap="butt"/>
<line x1="1082.7" y1="597.5" x2="1082.7" y2="612.5" stroke="#000" stroke-width="1.35" stroke-linecap="butt"/>
<circle cx="1072" cy="612" r="4.2" stroke="#000" stroke-width="1.85" fill="none"/>
<path d="M997.8 668.3 L1009.6 668.3 L1009.6 685.5" stroke="#000" stroke-width="1.75" fill="none" stroke-linejoin="miter"/>
<rect x="1002.4" y="673.5" width="4" height="4" fill="#000"/>
</g>
<g transform="translate(0 1371) scale(1 -1)">
<g transform="translate(1003 669) rotate(-42.3)">
<line x1="0" y1="-3.6" x2="88" y2="-3.6" stroke="#000" stroke-width="1.75" stroke-linecap="butt"/>
<line x1="6" y1="3.6" x2="88" y2="3.6" stroke="#000" stroke-width="1.75" stroke-linecap="butt"/>
<line x1="14" y1="-0.8" x2="82" y2="-0.8" stroke="#000" stroke-width="1.25" stroke-linecap="butt"/>
<rect x="12" y="-13.5" width="28" height="10" stroke="#000" stroke-width="3.05" fill="none" rx="2.5"/>
<line x1="17" y1="-6" x2="37" y2="-6" stroke="#000" stroke-width="1.35" stroke-linecap="butt"/>
<rect x="38" y="-5" width="17" height="12" stroke="#000" stroke-width="2.45" fill="none"/>
<line x1="44" y1="-5" x2="44" y2="7" stroke="#000" stroke-width="1.45" stroke-linecap="butt"/>
</g>
<circle cx="1059.8" cy="614.2" r="7.2" stroke="#000" stroke-width="1.85" fill="none"/>
<line x1="1052.6" y1="614.2" x2="1067" y2="614.2" stroke="#000" stroke-width="1.35" stroke-linecap="butt"/>
<line x1="1059.8" y1="607" x2="1059.8" y2="621.4" stroke="#000" stroke-width="1.35" stroke-linecap="butt"/>
<circle cx="1082.7" cy="605" r="7.5" stroke="#000" stroke-width="1.85" fill="none"/>
<line x1="1075.2" y1="605" x2="1090.2" y2="605" stroke="#000" stroke-width="1.35" stroke-linecap="butt"/>
<line x1="1082.7" y1="597.5" x2="1082.7" y2="612.5" stroke="#000" stroke-width="1.35" stroke-linecap="butt"/>
<circle cx="1072" cy="612" r="4.2" stroke="#000" stroke-width="1.85" fill="none"/>
<path d="M997.8 668.3 L1009.6 668.3 L1009.6 685.5" stroke="#000" stroke-width="1.75" fill="none" stroke-linejoin="miter"/>
<rect x="1002.4" y="673.5" width="4" height="4" fill="#000"/>
</g>
<g transform="translate(2268 0) scale(-1 1) translate(0 1371) scale(1 -1)">
<g transform="translate(1003 669) rotate(-42.3)">
<line x1="0" y1="-3.6" x2="88" y2="-3.6" stroke="#000" stroke-width="1.75" stroke-linecap="butt"/>
<line x1="6" y1="3.6" x2="88" y2="3.6" stroke="#000" stroke-width="1.75" stroke-linecap="butt"/>
<line x1="14" y1="-0.8" x2="82" y2="-0.8" stroke="#000" stroke-width="1.25" stroke-linecap="butt"/>
<rect x="12" y="-13.5" width="28" height="10" stroke="#000" stroke-width="3.05" fill="none" rx="2.5"/>
<line x1="17" y1="-6" x2="37" y2="-6" stroke="#000" stroke-width="1.35" stroke-linecap="butt"/>
<rect x="38" y="-5" width="17" height="12" stroke="#000" stroke-width="2.45" fill="none"/>
<line x1="44" y1="-5" x2="44" y2="7" stroke="#000" stroke-width="1.45" stroke-linecap="butt"/>
</g>
<circle cx="1059.8" cy="614.2" r="7.2" stroke="#000" stroke-width="1.85" fill="none"/>
<line x1="1052.6" y1="614.2" x2="1067" y2="614.2" stroke="#000" stroke-width="1.35" stroke-linecap="butt"/>
<line x1="1059.8" y1="607" x2="1059.8" y2="621.4" stroke="#000" stroke-width="1.35" stroke-linecap="butt"/>
<circle cx="1082.7" cy="605" r="7.5" stroke="#000" stroke-width="1.85" fill="none"/>
<line x1="1075.2" y1="605" x2="1090.2" y2="605" stroke="#000" stroke-width="1.35" stroke-linecap="butt"/>
<line x1="1082.7" y1="597.5" x2="1082.7" y2="612.5" stroke="#000" stroke-width="1.35" stroke-linecap="butt"/>
<circle cx="1072" cy="612" r="4.2" stroke="#000" stroke-width="1.85" fill="none"/>
<path d="M997.8 668.3 L1009.6 668.3 L1009.6 685.5" stroke="#000" stroke-width="1.75" fill="none" stroke-linejoin="miter"/>
<rect x="1002.4" y="673.5" width="4" height="4" fill="#000"/>
</g>
<text transform="translate(1124.10 519.40) scale(0.8562 1.0000)" font-family="Liberation Sans" font-size="20" font-weight="bold" fill="#000">3910</text>
<line x1="925" y1="524.2" x2="1343.5" y2="524.2" stroke="#000" stroke-width="1.45" stroke-linecap="butt"/>
<path d="M925 524.5 L928.5 526.5 L936 526.5 L938 525.1 L938 523.3 L936 521.9 L928.5 521.9 L925 523.9 Z" fill="#000" stroke="#000" stroke-width="0.5"/>
<path d="M1343.5 524.5 L1340 526.5 L1332.5 526.5 L1330.5 525.1 L1330.5 523.3 L1332.5 521.9 L1340 521.9 L1343.5 523.9 Z" fill="#000" stroke="#000" stroke-width="0.5"/>
<text transform="translate(1368.91 697.00) rotate(-90) scale(0.8584 0.9648)" font-family="Liberation Sans" font-size="20" font-weight="bold" fill="#000">2175</text>
<line x1="1374.5" y1="571.5" x2="1374.5" y2="800.3" stroke="#000" stroke-width="1.45" stroke-linecap="butt"/>
<path d="M1374.8 571.5 L1376.8 575 L1376.8 582.5 L1375.4 584.5 L1373.6 584.5 L1372.2 582.5 L1372.2 575 L1374.2 571.5 Z" fill="#000" stroke="#000" stroke-width="0.5"/>
<path d="M1374.8 800.3 L1376.8 796.8 L1376.8 789.3 L1375.4 787.3 L1373.6 787.3 L1372.2 789.3 L1372.2 796.8 L1374.2 800.3 Z" fill="#000" stroke="#000" stroke-width="0.5"/>
<line x1="1253" y1="571.5" x2="1378.7" y2="571.5" stroke="#000" stroke-width="1.45" stroke-linecap="butt"/>
<line x1="1284" y1="800.3" x2="1378.7" y2="800.3" stroke="#000" stroke-width="1.45" stroke-linecap="butt"/>
<text transform="translate(910.32 697.00) rotate(-90) scale(0.8764 0.8803)" font-family="Liberation Sans" font-size="20" font-weight="bold" fill="#000">1800</text>
<line x1="913.5" y1="591" x2="913.5" y2="783" stroke="#000" stroke-width="1.45" stroke-linecap="butt"/>
<path d="M913.8 591 L915.8 594.5 L915.8 602 L914.4 604 L912.6 604 L911.2 602 L911.2 594.5 L913.2 591 Z" fill="#000" stroke="#000" stroke-width="0.5"/>
<path d="M913.8 783 L915.8 779.5 L915.8 772 L914.4 770 L912.6 770 L911.2 772 L911.2 779.5 L913.2 783 Z" fill="#000" stroke="#000" stroke-width="0.5"/>
<text transform="translate(1025.20 558.52) scale(0.8180 0.8803)" font-family="Liberation Sans" font-size="20" font-weight="bold" fill="#000">R990</text>
<path d="M1024 561.5 L1078 561.5 L1052 594.8" stroke="#000" stroke-width="1.45" fill="none" stroke-linejoin="miter"/>
<path d="M1052 594.8 L1055.5 587.3 L1058 589 Z" fill="#000" stroke="#000" stroke-width="1.5"/>
<text transform="translate(970.30 624.92) scale(0.8285 0.8873)" font-family="Liberation Sans" font-size="20" font-weight="bold" fill="#000">R690</text>
<path d="M968.5 627.4 L1011 627.4 L1025 606.7" stroke="#000" stroke-width="1.45" fill="none" stroke-linejoin="miter"/>
<path d="M1025 606.7 L1020.3 614 L1023 615.3 Z" fill="#000" stroke="#000" stroke-width="1.5"/>
<text transform="translate(1136.41 582.60) rotate(-90) scale(0.8293 0.9577)" font-family="Liberation Sans" font-size="20" font-weight="bold" fill="#000">800</text>
<line x1="1141.5" y1="535" x2="1141.5" y2="766" stroke="#000" stroke-width="1.45" stroke-linecap="butt"/>
<path d="M1141.8 605 L1143.8 608.5 L1143.8 616 L1142.4 618 L1140.6 618 L1139.2 616 L1139.2 608.5 L1141.2 605 Z" fill="#000" stroke="#000" stroke-width="0.5"/>
<path d="M1141.8 765 L1143.8 761.5 L1143.8 754 L1142.4 752 L1140.6 752 L1139.2 754 L1139.2 761.5 L1141.2 765 Z" fill="#000" stroke="#000" stroke-width="0.5"/>
<line x1="1078" y1="604.5" x2="1146" y2="604.5" stroke="#000" stroke-width="1.45" stroke-linecap="butt"/>
<line x1="1085.5" y1="764.7" x2="1152" y2="764.7" stroke="#000" stroke-width="1.45" stroke-linecap="butt"/>
<text transform="translate(1122.50 788.83) scale(0.8802 0.8310)" font-family="Liberation Sans" font-size="20" font-weight="bold" fill="#000">660</text>
<line x1="1084" y1="794.4" x2="1188" y2="794.4" stroke="#000" stroke-width="1.45" stroke-linecap="butt"/>
<path d="M1084 794.7 L1087.5 796.7 L1095 796.7 L1097 795.3 L1097 793.5 L1095 792.1 L1087.5 792.1 L1084 794.1 Z" fill="#000" stroke="#000" stroke-width="0.5"/>
<path d="M1188 794.7 L1184.5 796.7 L1177 796.7 L1175 795.3 L1175 793.5 L1177 792.1 L1184.5 792.1 L1188 794.1 Z" fill="#000" stroke="#000" stroke-width="0.5"/>
<line x1="1084" y1="757" x2="1084" y2="798" stroke="#000" stroke-width="1.45" stroke-linecap="butt"/>
<line x1="1188" y1="760.7" x2="1188" y2="798" stroke="#000" stroke-width="1.45" stroke-linecap="butt"/>
<text transform="translate(1117.60 809.33) scale(0.8584 0.8310)" font-family="Liberation Sans" font-size="20" font-weight="bold" fill="#000">2798</text>
<line x1="985" y1="811.5" x2="1284" y2="811.5" stroke="#000" stroke-width="1.45" stroke-linecap="butt"/>
<path d="M985 811.8 L988.5 813.8 L996 813.8 L998 812.4 L998 810.6 L996 809.2 L988.5 809.2 L985 811.2 Z" fill="#000" stroke="#000" stroke-width="0.5"/>
<path d="M1284 811.8 L1280.5 813.8 L1273 813.8 L1271 812.4 L1271 810.6 L1273 809.2 L1280.5 809.2 L1284 811.2 Z" fill="#000" stroke="#000" stroke-width="0.5"/>
<text transform="translate(1283.00 549.82) scale(0.8559 0.9155)" font-family="Liberation Sans" font-size="20" font-weight="normal" fill="#000">8</text>
<path d="M1303 553 L1270 553 L1240 640" stroke="#000" stroke-width="1.45" fill="none" stroke-linejoin="miter"/>
<line x1="1284" y1="703" x2="1284" y2="730" stroke="#000" stroke-width="1.85" stroke-linecap="butt"/>
<path d="M1280 713 L1284 703 L1288 713" stroke="#000" stroke-width="1.85" fill="none" stroke-linejoin="miter"/>
<line x1="1280" y1="702" x2="1299.6" y2="702" stroke="#000" stroke-width="3.45" stroke-linecap="butt"/>
<text transform="translate(1267.00 739.50) scale(1.0417 1.1957)" font-family="Liberation Sans" font-size="20" font-weight="bold" fill="#000">Б</text>
<line x1="1338.7" y1="703" x2="1338.7" y2="730" stroke="#000" stroke-width="1.85" stroke-linecap="butt"/>
<path d="M1334.7 713 L1338.7 703 L1342.7 713" stroke="#000" stroke-width="1.85" fill="none" stroke-linejoin="miter"/>
<line x1="1329" y1="702" x2="1343.6" y2="702" stroke="#000" stroke-width="3.45" stroke-linecap="butt"/>
<text transform="translate(1347.00 739.50) scale(1.0417 1.1957)" font-family="Liberation Sans" font-size="20" font-weight="bold" fill="#000">Б</text>
<rect x="1527" y="832" width="15" height="28" fill="#e3e3e3"/>
</g>
</svg></body></html>
